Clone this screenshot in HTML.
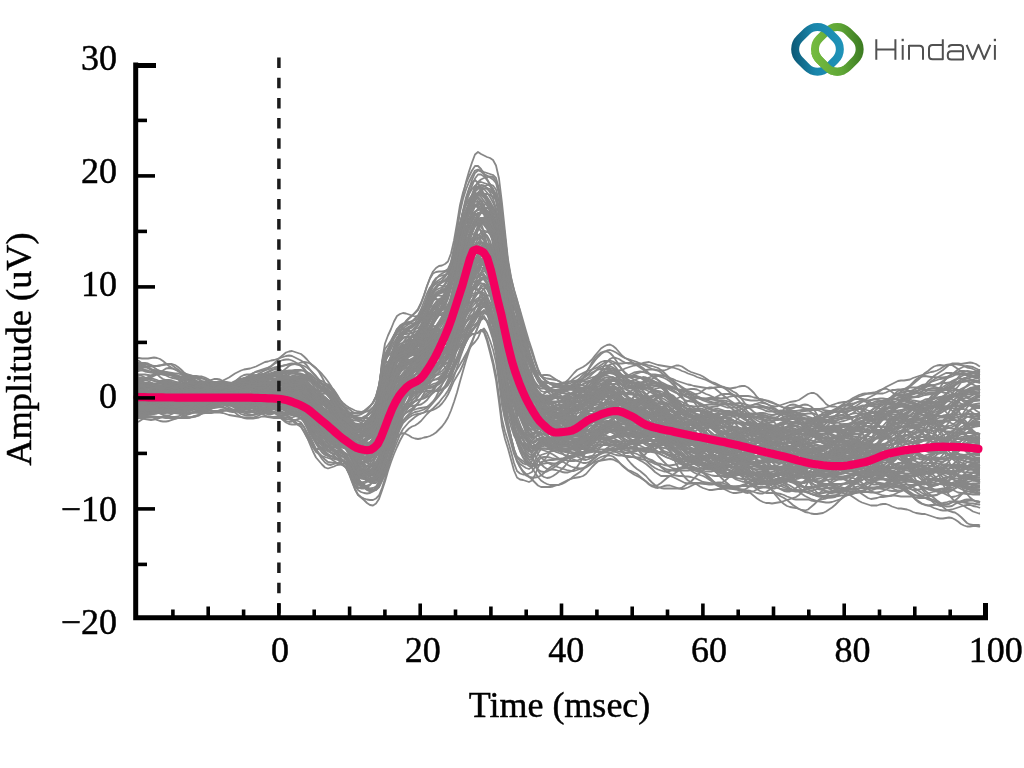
<!DOCTYPE html>
<html><head><meta charset="utf-8">
<style>
html,body{margin:0;padding:0;background:#fff;}
body{width:1024px;height:768px;overflow:hidden;position:relative;}
svg{position:absolute;left:0;top:0;will-change:transform;}
.t{font-family:"Liberation Serif",serif;fill:#000;stroke:#000;stroke-width:0.45px;}
</style></head><body>
<svg width="1024" height="768" viewBox="0 0 1024 768">
<rect width="1024" height="768" fill="#fff"/>
<g fill="none" stroke="#878787" stroke-width="3.6" stroke-linejoin="round" transform="scale(0.5)">
<path d="M272,793l6,2 6,2 6,4 6,3 6,3 6,0 6,0 6,0 6,0 6,1 6,1 6,0 6-1 6,0 6-1 6,0 6-1 6-1 6-1 6-1 6-1 6-2 6-1 6,1 6,0 6,1 6,1 6,0 6,0 6,2 6,4 6,3 6,4 6,2 6,1 6,0 6-2 6-2 6-3 6-1 6,0 6,0 6,1 6-1 6-1 6-4 6-4 6-3 6-1 6,1 6,3 6,3 6,5 6,4 6,5 6,8 6,12 6,12 6,11 6,9 6,5 6,6 6,6 6,6 6,5 6,4 6,4 6,3 6,4 6,6 6,10 6,14 6,14 6,9 6,5 6,3 6,3 6,3 6,0 6-1 6-5 6-12 6-13 6-17 6-17 6-16 6-15 6-15 6-11 6-7 6-7 6-5 6-5 6-4 6-3 6-2 6-2 6-1 6-2 6-3 6-4 6-6 6-8 6-10 6-13 6-14 6-10 6-10 6-13 6-16 6-17 6-14 6-14 6-15 6-18 6-9 6,3 6,9 6,10 6,18 6,33 6,44 6,32 6,30 6,28 6,26 6,21 6,12 6,10 6,7 6,5 6,1 6-7 6-10 6-7 6-2 6-2 6-3 6-4 6-2 6-3 6-3 6-4 6-5 6-8 6-9 6-9 6-8 6-7 6-6 6-5 6-5 6-4 6-5 6-4 6-5 6-5 6-3 6-2 6,1 6,2 6,3 6,3 6,1 6,1 6,0 6,1 6,2 6,2 6,2 6,4 6,3 6,2 6,2 6,0 6,2 6,2 6,5 6,5 6,5 6,4 6,4 6,2 6,2 6,3 6,3 6,6 6,6 6,8 6,8 6,9 6,8 6,6 6,5 6,3 6,3 6,2 6,2 6,3 6,3 6,4 6,5 6,3 6,1 6-2 6-2 6-2 6-1 6,0 6,1 6,0 6,1 6,1 6,1 6,0 6-1 6,0 6,1 6,2 6,3 6,3 6,0 6,0 6-2 6-2 6-2 6-3 6-5 6-4 6-5 6-4 6-2 6-3 6-2 6-4 6-4 6-4 6-3 6-2 6,0 6,1 6,1 6,1 6,1 6,2 6,3 6,4 6,4 6,3 6,2 6,1 6,2 6,3 6,5 6,4 6,4 6,3 6,2 6,2 6,2 6-1 6-3 6-5 6-5 6-3 6-2 6,1 6,1 6,1 6,0 6-1 6,0 6-1 6-1 6-1 6,0 6,1 6,2 6,1 6,1 6,1 2,0"/>
<path d="M272,804l6,0 6,0 6,1 6,1 6,1 6,1 6-1 6-2 6-4 6-4 6-3 6-1 6,1 6,3 6,3 6,3 6,2 6,0 6-1 6-1 6,0 6,1 6,0 6,0 6-2 6-3 6-2 6-2 6-1 6,1 6,3 6,4 6,2 6,2 6,1 6,1 6-1 6,1 6,1 6,3 6,4 6,6 6,4 6,3 6,0 6-2 6-2 6,0 6,1 6,1 6,1 6,0 6-1 6,0 6,1 6,5 6,10 6,12 6,12 6,9 6,4 6,1 6,2 6,3 6,5 6,7 6,8 6,7 6,8 6,9 6,14 6,15 6,12 6,5 6-1 6-2 6-2 6-2 6-5 6-9 6-18 6-31 6-30 6-28 6-24 6-18 6-14 6-9 6-5 6-1 6,0 6-1 6-2 6-5 6-6 6-7 6-6 6-6 6-5 6-5 6-5 6-6 6-8 6-11 6-17 6-20 6-19 6-16 6-12 6-9 6-6 6-2 6-1 6,0 6-4 6,3 6,12 6,19 6,19 6,26 6,38 6,45 6,30 6,23 6,21 6,18 6,14 6,7 6,7 6,8 6,6 6,3 6-4 6-8 6-6 6-1 6-2 6-1 6-2 6-3 6-4 6-5 6-6 6-5 6-5 6-5 6-4 6-4 6-3 6-4 6-4 6-2 6-2 6-1 6-1 6-3 6-3 6-3 6-3 6-2 6,0 6,3 6,5 6,6 6,7 6,8 6,8 6,8 6,7 6,6 6,5 6,5 6,4 6,5 6,3 6,2 6,0 6-2 6-2 6-2 6-1 6,0 6-1 6,0 6,0 6,0 6,0 6-1 6-2 6-1 6,0 6,0 6,1 6-1 6-2 6-2 6-3 6-2 6-1 6-1 6-1 6-1 6,0 6-2 6-1 6-1 6-1 6-1 6,0 6-1 6,0 6,0 6,2 6,1 6,1 6,0 6-2 6-2 6-3 6-1 6-1 6,1 6,0 6,0 6,0 6,1 6,2 6,2 6,1 6,0 6,0 6,1 6-1 6-1 6-2 6,0 6,1 6,2 6,2 6,0 6,0 6-1 6-1 6-1 6,0 6,1 6,0 6,1 6-1 6,1 6,3 6,5 6,7 6,6 6,5 6,2 6,1 6,1 6,0 6,1 6-1 6-1 6-2 6-1 6-1 6-1 6-4 6-7 6-7 6-8 6-7 6-7 6-7 6-7 6-7 6-6 6-5 6-6 6-5 6-3 6-1 2-1"/>
<path d="M272,821l6,0 6-1 6,1 6,1 6,1 6,1 6-1 6,0 6-2 6-1 6,0 6,0 6,2 6,3 6,4 6,3 6,2 6,1 6-1 6-1 6-3 6-3 6-3 6-4 6-2 6-2 6-1 6-1 6,1 6,1 6,2 6,3 6,4 6,5 6,4 6,2 6,1 6,0 6,0 6-1 6-1 6-2 6,0 6,1 6,1 6,1 6,0 6,0 6,1 6,1 6,1 6,1 6,0 6,2 6,3 6,9 6,14 6,15 6,12 6,9 6,4 6,4 6,2 6,2 6,2 6,4 6,4 6,3 6,2 6,4 6,11 6,16 6,16 6,12 6,5 6,5 6,6 6,4 6,1 6-4 6-9 6-17 6-18 6-21 6-18 6-16 6-14 6-13 6-11 6-7 6-6 6-4 6-2 6-4 6-5 6-7 6-7 6-6 6-5 6-6 6-6 6-8 6-7 6-9 6-12 6-16 6-18 6-19 6-17 6-15 6-12 6-9 6-9 6-7 6-9 6-2 6,6 6,10 6,10 6,16 6,25 6,35 6,27 6,26 6,21 6,19 6,15 6,10 6,9 6,9 6,9 6,9 6,8 6,8 6,7 6,5 6,5 6,3 6,3 6,2 6,2 6,2 6,2 6,2 6,1 6,0 6-2 6-2 6-2 6-3 6-3 6-4 6-5 6-4 6-3 6-2 6-1 6,0 6,2 6,5 6,6 6,7 6,5 6,4 6,2 6,3 6,3 6,5 6,5 6,5 6,6 6,4 6,2 6,1 6-2 6-2 6-1 6,0 6,2 6,2 6,2 6,1 6-1 6-2 6-3 6-3 6-2 6,0 6,0 6,1 6,1 6,0 6-1 6-1 6-1 6-3 6-5 6-6 6-5 6-4 6-4 6-4 6-1 6,0 6,1 6,3 6,4 6,4 6,5 6,6 6,5 6,5 6,4 6,5 6,3 6,3 6,1 6,0 6-3 6-4 6-5 6-6 6-4 6-5 6-3 6-3 6-2 6-3 6-2 6-3 6-1 6-1 6,0 6-1 6-3 6-5 6-9 6-10 6-13 6-13 6-14 6-11 6-8 6-7 6-7 6-6 6-6 6-5 6-6 6-4 6-3 6-1 6,0 6,2 6,2 6,2 6,2 6,3 6,3 6,2 6,3 6,3 6,3 6,4 6,4 6,3 6,2 6,0 6-3 6-4 6-5 6-5 6-5 6-4 6-5 6-3 6-1 6,0 6,2 6,3 6,2 2,0"/>
<path d="M272,731l6,0 6,0 6,1 6,3 6,3 6,2 6,1 6,1 6,1 6,1 6,2 6,3 6,2 6,2 6,1 6,0 6,0 6-1 6,0 6,0 6,1 6,2 6,3 6,4 6,4 6,4 6,2 6,1 6-1 6-2 6-1 6-2 6-1 6-1 6,1 6,0 6,1 6-1 6,0 6,0 6,1 6,0 6,0 6-1 6,0 6,0 6,2 6,2 6,2 6,1 6,0 6-1 6,0 6,0 6,2 6,4 6,7 6,8 6,7 6,5 6,2 6,1 6,1 6-1 6-1 6,3 6,6 6,8 6,8 6,6 6,8 6,8 6,8 6,7 6,5 6,5 6,4 6,4 6,3 6-2 6-8 6-18 6-13 6-13 6-13 6-13 6-10 6-6 6-2 6-1 6-2 6-3 6-4 6-5 6-7 6-8 6-9 6-9 6-8 6-6 6-2 6-3 6-3 6-5 6-10 6-11 6-10 6-9 6-6 6-7 6-9 6-10 6-10 6-12 6-17 6-12 6-4 6,0 6,4 6,12 6,23 6,35 6,27 6,25 6,19 6,19 6,16 6,14 6,13 6,14 6,11 6,9 6,4 6,2 6-1 6,1 6,3 6,6 6,6 6,6 6,5 6,3 6,4 6,4 6,4 6,5 6,3 6,2 6-1 6-3 6-3 6-3 6-2 6-1 6-3 6-3 6-3 6-4 6-3 6-2 6-2 6,0 6-1 6,0 6,0 6,1 6,2 6,2 6,1 6,2 6,1 6,2 6,3 6,4 6,4 6,5 6,5 6,6 6,6 6,7 6,7 6,8 6,6 6,4 6,2 6,1 6,2 6,4 6,5 6,6 6,5 6,5 6,4 6,4 6,1 6,1 6,1 6,1 6,0 6,0 6,0 6-1 6-2 6-3 6-3 6-3 6-2 6,0 6,2 6,1 6,1 6,0 6-1 6,0 6,0 6-1 6-3 6-3 6-3 6-3 6-1 6,0 6-1 6-3 6-4 6-6 6-7 6-5 6-4 6-2 6-1 6-2 6-3 6-3 6-4 6-1 6,0 6,2 6,4 6,5 6,4 6,4 6,2 6-1 6-4 6-7 6-11 6-14 6-16 6-17 6-15 6-13 6-11 6-8 6-7 6-4 6-4 6-5 6-5 6-5 6-3 6-3 6-1 6,0 6,1 6,3 6,2 6,2 6,1 6,2 6,2 6,3 6,4 6,5 6,5 6,5 6,4 6,3 6,2 6,1 6,1 2,0"/>
<path d="M272,716l6,0 6,1 6,0 6,0 6-1 6-1 6,1 6,2 6,4 6,5 6,5 6,4 6,3 6,3 6,5 6,5 6,5 6,4 6,1 6,1 6,0 6,0 6,0 6-1 6-2 6-2 6,0 6,1 6,3 6,2 6,2 6,2 6,2 6,1 6,1 6,0 6-2 6-2 6-3 6-2 6-3 6-3 6-3 6-3 6-2 6-2 6-1 6,0 6,1 6,2 6,3 6,4 6,3 6,2 6,1 6,4 6,7 6,8 6,8 6,6 6,4 6,3 6,4 6,5 6,6 6,8 6,8 6,8 6,5 6,2 6,3 6,3 6,3 6,4 6,3 6,1 6-1 6-4 6-7 6-13 6-29 6-54 6-34 6-18 6-17 6-17 6-13 6-7 6-4 6-2 6-1 6-2 6-2 6-3 6-8 6-11 6-12 6-12 6-9 6-5 6-3 6-2 6-5 6-9 6-19 6-26 6-34 6-35 6-21 6-16 6-10 6-5 6,0 6,7 6,10 6,12 6,17 6,21 6,26 6,33 6,46 6,57 6,45 6,40 6,29 6,25 6,21 6,16 6,14 6,13 6,13 6,10 6,10 6,10 6,9 6,7 6,4 6,0 6-2 6-3 6-4 6-5 6-4 6-5 6-6 6-5 6-5 6-4 6-4 6-4 6-5 6-5 6-5 6-6 6-6 6-5 6-6 6-5 6-5 6-5 6-6 6-5 6-5 6-5 6-3 6-2 6-2 6-2 6-2 6,1 6,2 6,3 6,3 6,2 6,3 6,2 6,1 6,2 6,2 6,2 6,2 6,1 6-1 6,0 6-1 6,0 6,1 6,3 6,3 6,3 6,2 6,3 6,3 6,4 6,3 6,4 6,3 6,4 6,5 6,5 6,5 6,3 6,2 6,0 6,0 6,0 6,0 6,1 6,1 6-1 6-1 6-3 6-2 6-3 6-2 6-1 6-1 6-3 6-2 6-3 6-2 6-2 6-1 6,1 6,3 6,6 6,10 6,12 6,13 6,11 6,10 6,10 6,8 6,8 6,8 6,8 6,7 6,6 6,5 6,4 6,5 6,6 6,4 6,1 6-1 6-3 6-2 6-2 6-2 6-3 6-5 6-4 6-4 6-2 6-1 6-1 6,0 6,1 6,2 6,1 6,2 6,2 6,3 6,1 6,2 6,0 6-1 6,0 6,1 6,2 6,2 6,2 6,2 6,5 6,7 6,8 6,7 6,5 6,4 6,3 6,1 2,1"/>
<path d="M272,823l6,0 6,1 6,2 6,1 6,0 6-1 6,0 6,0 6,1 6-1 6-2 6-2 6-2 6,0 6,0 6,0 6,0 6-1 6,0 6,0 6-1 6-2 6-3 6-2 6-1 6-1 6-1 6-1 6-1 6,0 6,1 6,2 6,3 6,4 6,3 6,1 6-1 6-2 6-4 6-3 6-3 6-2 6-3 6-4 6-5 6-4 6-3 6,0 6,2 6,2 6,1 6,0 6-2 6-1 6-1 6,3 6,7 6,9 6,10 6,8 6,5 6,4 6,4 6,5 6,5 6,5 6,5 6,4 6,4 6,3 6,6 6,8 6,7 6,6 6,4 6,3 6,3 6,3 6,3 6,1 6-6 6-17 6-14 6-12 6-14 6-14 6-15 6-16 6-15 6-11 6-10 6-10 6-8 6-8 6-9 6-11 6-13 6-12 6-9 6-7 6-5 6-6 6-6 6-7 6-9 6-12 6-12 6-14 6-14 6-15 6-16 6-15 6-14 6-13 6-14 6-10 6-4 6-3 6-2 6,1 6,12 6,27 6,29 6,32 6,20 6,16 6,16 6,17 6,20 6,20 6,17 6,14 6,13 6,11 6,7 6,4 6,5 6,5 6,5 6,4 6,4 6,4 6,4 6,4 6,4 6,3 6,1 6,0 6,0 6-1 6-1 6-1 6-2 6-3 6-4 6-4 6-2 6,0 6,1 6,4 6,5 6,6 6,6 6,8 6,7 6,6 6,3 6,0 6-1 6-1 6-1 6-1 6-2 6-3 6-3 6-1 6,1 6,2 6,3 6,4 6,4 6,5 6,5 6,6 6,5 6,4 6,4 6,4 6,3 6,3 6,4 6,3 6,4 6,6 6,7 6,7 6,7 6,6 6,5 6,4 6,5 6,4 6,5 6,4 6,3 6,0 6,0 6,0 6,1 6,0 6,1 6-1 6-1 6-3 6-4 6-2 6-1 6,0 6,1 6,2 6,3 6,5 6,5 6,5 6,4 6,3 6,2 6,1 6,0 6-1 6-1 6-1 6,1 6-1 6-1 6-1 6,0 6-1 6,0 6,0 6-2 6-3 6-5 6-7 6-9 6-9 6-10 6-8 6-6 6-4 6-3 6-1 6,0 6,0 6-1 6-2 6-1 6,2 6,5 6,5 6,6 6,3 6,1 6-1 6-3 6-4 6-6 6-6 6-8 6-6 6-5 6-2 6,1 6,1 6,0 6-1 6-1 6-1 6,0 6,0 6,1 2,0"/>
<path d="M272,765l6,1 6,1 6,1 6,2 6,2 6,2 6,0 6-1 6-1 6,0 6,0 6,0 6,1 6,1 6,1 6,1 6-1 6-3 6-2 6-2 6,0 6,0 6,1 6-1 6-1 6,0 6,0 6,1 6,0 6,0 6-1 6-2 6-3 6-3 6-1 6-1 6,1 6,1 6,1 6,2 6,3 6,4 6,4 6,4 6,5 6,4 6,3 6,2 6,2 6,1 6,1 6,0 6-1 6-1 6-1 6,3 6,6 6,7 6,6 6,3 6,1 6,1 6,3 6,5 6,6 6,7 6,9 6,8 6,8 6,8 6,11 6,12 6,12 6,9 6,7 6,6 6,6 6,4 6,1 6-4 6-11 6-20 6-19 6-19 6-20 6-21 6-20 6-18 6-15 6-10 6-8 6-7 6-7 6-7 6-9 6-9 6-9 6-9 6-8 6-7 6-9 6-11 6-11 6-15 6-21 6-28 6-31 6-33 6-26 6-23 6-18 6-15 6-12 6-5 6-1 6,3 6,7 6,12 6,16 6,23 6,37 6,51 6,47 6,42 6,29 6,22 6,18 6,15 6,15 6,14 6,14 6,13 6,10 6,7 6,4 6,3 6,2 6,2 6,2 6,1 6-1 6-1 6,0 6,1 6,1 6,3 6,3 6,3 6,0 6-3 6-5 6-5 6-5 6-3 6-2 6-1 6-1 6,1 6,2 6,3 6,5 6,5 6,5 6,3 6,2 6,2 6,1 6,3 6,3 6,4 6,5 6,5 6,4 6,6 6,6 6,7 6,7 6,6 6,5 6,4 6,3 6,2 6,1 6,0 6,0 6-1 6,0 6,0 6-1 6-1 6-1 6-1 6,0 6,0 6,1 6,1 6,1 6,3 6,2 6,3 6,1 6-1 6-3 6-5 6-4 6-6 6-5 6-5 6-3 6-2 6-1 6-1 6,1 6,0 6,3 6,3 6,3 6,4 6,5 6,4 6,4 6,4 6,3 6,3 6,1 6,1 6,0 6-1 6-2 6-2 6-2 6-2 6-2 6-2 6-1 6,0 6,2 6,2 6,4 6,3 6,2 6,1 6,1 6,1 6-2 6-3 6-5 6-4 6-3 6-2 6,0 6,0 6,0 6,1 6,1 6,2 6,2 6,2 6,2 6,2 6,2 6,1 6,1 6-1 6,0 6,0 6,0 6,2 6,3 6,4 6,5 6,5 6,3 6,3 6,3 6,2 6,1 6,0 6,0 6-2 6,0 2,0"/>
<path d="M272,821l6-2 6-4 6-5 6-5 6-3 6,0 6,2 6,2 6,0 6,0 6,0 6,0 6,1 6,1 6,1 6,0 6-2 6-2 6-3 6-3 6-4 6-5 6-4 6-2 6-2 6,1 6,2 6,1 6,1 6-1 6-1 6-2 6-1 6-1 6,0 6-1 6-1 6-1 6-1 6,0 6,1 6,0 6-1 6-1 6-1 6-2 6-1 6-1 6,0 6,1 6,2 6,2 6,2 6,2 6,1 6,5 6,7 6,8 6,8 6,7 6,6 6,6 6,6 6,6 6,8 6,9 6,9 6,9 6,9 6,8 6,11 6,11 6,10 6,8 6,6 6,6 6,5 6,5 6,2 6,1 6-3 6-10 6-12 6-15 6-17 6-18 6-18 6-18 6-14 6-7 6-4 6-4 6-5 6-6 6-7 6-7 6-6 6-3 6-2 6,0 6-1 6-2 6-5 6-7 6-12 6-15 6-14 6-14 6-14 6-14 6-12 6-9 6-9 6-10 6-15 6-6 6,5 6,11 6,10 6,14 6,25 6,33 6,20 6,16 6,12 6,9 6,7 6,5 6,7 6,9 6,8 6,6 6,4 6,3 6,3 6,6 6,7 6,7 6,8 6,7 6,6 6,6 6,6 6,5 6,3 6,2 6,0 6,0 6-1 6,0 6-1 6-2 6-2 6-2 6-1 6-1 6-2 6-4 6-4 6-3 6-1 6,0 6,1 6,2 6,2 6,2 6,1 6,0 6-2 6-3 6-2 6-4 6-3 6-4 6-4 6-2 6-1 6,1 6,1 6,3 6,3 6,4 6,4 6,4 6,3 6,3 6,2 6,1 6,0 6,0 6,1 6,1 6,0 6-1 6-1 6-2 6-2 6-1 6,1 6,1 6,1 6,1 6,1 6,0 6,0 6,1 6-1 6,0 6,1 6,3 6,4 6,4 6,4 6,2 6,0 6,0 6-1 6,0 6,2 6,4 6,5 6,5 6,3 6,2 6-1 6-2 6-2 6-2 6-1 6,0 6,0 6,1 6,2 6,1 6,2 6,2 6,2 6,2 6,3 6,2 6,3 6,3 6,4 6,4 6,4 6,4 6,3 6,3 6,3 6,3 6,3 6,3 6,3 6,3 6,4 6,4 6,4 6,4 6,1 6,1 6,0 6,0 6,0 6,0 6,0 6,0 6-1 6-3 6-5 6-3 6-1 6,1 6,3 6,3 6,1 6,1 6,1 6,0 6,1 6,0 6,0 2,0"/>
<path d="M272,796l6,0 6,0 6,0 6,2 6,1 6,1 6,1 6,0 6-1 6-2 6-2 6-1 6-1 6,0 6-1 6-1 6-2 6-1 6-1 6,0 6,2 6,1 6,0 6-1 6-2 6-1 6-2 6-3 6-3 6-1 6,0 6,3 6,4 6,4 6,2 6,1 6,1 6,2 6,1 6,1 6,1 6-1 6-1 6-1 6-1 6,0 6,1 6,0 6,0 6-1 6-1 6,0 6,0 6,0 6,0 6,4 6,6 6,9 6,10 6,9 6,8 6,7 6,6 6,5 6,5 6,6 6,5 6,4 6,3 6,4 6,8 6,10 6,9 6,4 6-1 6-5 6-7 6-9 6-11 6-14 6-22 6-34 6-24 6-16 6-13 6-12 6-7 6-4 6-1 6,1 6,1 6,0 6,0 6-2 6-4 6-7 6-7 6-7 6-6 6-6 6-6 6-8 6-9 6-11 6-17 6-21 6-21 6-18 6-9 6-7 6-4 6-2 6-2 6-1 6-4 6,1 6,8 6,11 6,10 6,14 6,23 6,32 6,22 6,21 6,12 6,8 6,4 6,3 6,5 6,7 6,8 6,8 6,10 6,10 6,7 6,2 6,0 6-1 6-2 6-1 6-1 6-1 6-1 6-1 6,0 6,0 6,0 6,0 6,0 6-1 6-1 6-1 6,0 6,0 6,2 6,2 6,3 6,3 6,3 6,3 6,5 6,6 6,7 6,4 6,2 6,0 6,1 6,1 6,4 6,6 6,8 6,9 6,7 6,5 6,5 6,4 6,5 6,4 6,5 6,4 6,3 6,4 6,4 6,4 6,4 6,4 6,4 6,4 6,4 6,3 6,4 6,6 6,5 6,6 6,5 6,3 6,2 6,1 6-1 6,0 6-1 6-1 6-1 6-1 6-1 6,0 6,0 6,1 6,2 6,0 6-1 6,1 6,1 6,4 6,6 6,7 6,6 6,5 6,3 6,1 6,0 6,0 6-1 6-2 6-1 6-2 6-2 6-1 6-1 6-2 6-2 6-2 6-3 6-3 6-3 6-3 6-1 6-2 6,0 6,0 6,1 6,1 6,1 6,0 6,0 6-1 6-2 6-2 6-2 6-1 6-2 6-1 6-2 6-2 6-2 6-1 6,1 6,1 6,2 6,4 6,4 6,5 6,5 6,4 6,3 6,2 6,1 6,1 6,1 6,1 6,0 6-1 6-1 6-2 6-2 6-3 6-3 6-2 6-1 6,0 6,0 2,0"/>
<path d="M272,823l6-2 6-2 6,0 6,1 6,1 6,0 6-1 6-1 6-2 6-1 6,0 6,1 6,1 6,1 6-1 6-2 6-2 6-1 6-1 6-1 6,0 6-1 6-1 6-2 6-2 6-1 6,0 6,1 6,0 6,0 6,0 6,0 6,1 6,1 6,0 6,0 6,0 6-1 6-1 6-2 6-3 6-2 6-1 6-2 6-4 6-4 6-4 6-2 6,0 6,1 6,1 6,0 6-1 6-3 6-2 6,3 6,5 6,8 6,6 6,3 6,1 6,2 6,4 6,7 6,8 6,11 6,10 6,8 6,5 6,3 6,5 6,7 6,8 6,7 6,5 6,2 6,0 6-3 6-7 6-13 6-22 6-36 6-28 6-21 6-18 6-18 6-14 6-12 6-9 6-8 6-6 6-5 6-5 6-6 6-9 6-10 6-9 6-7 6-4 6,1 6,3 6,2 6,1 6-2 6-10 6-15 6-20 6-22 6-19 6-18 6-16 6-12 6-9 6-3 6-2 6,2 6,9 6,13 6,14 6,18 6,31 6,44 6,38 6,36 6,30 6,27 6,26 6,20 6,20 6,17 6,15 6,12 6,7 6,3 6,4 6,5 6,4 6,2 6,0 6-1 6-1 6-1 6-2 6-1 6-2 6-3 6-2 6-3 6-4 6-6 6-6 6-8 6-7 6-6 6-6 6-4 6-2 6,0 6,1 6,4 6,4 6,4 6,2 6,0 6-3 6-3 6-3 6,0 6,2 6,2 6,1 6,1 6-1 6,0 6,1 6,2 6,1 6,1 6,3 6,4 6,5 6,4 6,2 6-1 6-2 6-4 6-3 6-3 6-2 6-1 6,1 6,1 6,1 6,0 6-2 6-3 6-3 6-2 6-1 6,1 6,3 6,3 6,4 6,5 6,4 6,3 6,0 6-3 6-4 6-3 6-2 6,0 6,1 6,0 6,0 6-1 6-2 6-2 6-2 6-1 6,0 6,0 6,1 6,2 6,2 6,3 6,2 6,2 6,1 6,0 6-1 6,0 6-1 6-1 6-2 6-1 6-1 6,0 6-1 6-2 6-3 6-2 6-1 6-1 6,0 6,0 6,0 6,1 6,0 6,1 6,2 6,2 6,2 6,1 6,0 6-1 6-1 6,0 6,0 6,1 6,2 6,3 6,4 6,6 6,8 6,8 6,8 6,6 6,5 6,3 6,3 6,5 6,7 6,6 6,4 6,3 6,2 6,0 6,0 6-1 6-1 2,0"/>
<path d="M272,792l6-1 6-2 6-3 6-1 6-2 6-1 6-1 6-1 6,1 6,0 6,0 6,0 6-1 6,0 6,1 6,2 6,2 6,3 6,2 6,3 6,4 6,4 6,3 6,2 6,0 6-2 6-1 6-1 6,1 6,2 6,3 6,3 6,3 6,0 6-1 6,0 6,0 6,1 6,3 6,2 6,1 6,0 6-1 6-1 6,0 6,0 6,1 6,2 6,4 6,5 6,6 6,5 6,5 6,4 6,3 6,9 6,12 6,15 6,14 6,12 6,7 6,7 6,6 6,2 6-2 6-2 6-3 6-1 6-2 6,0 6,7 6,8 6,7 6,2 6-3 6-3 6-2 6-3 6-3 6-8 6-14 6-25 6-21 6-18 6-17 6-17 6-19 6-19 6-17 6-15 6-14 6-11 6-11 6-10 6-11 6-13 6-13 6-13 6-12 6-8 6-8 6-8 6-10 6-11 6-20 6-26 6-34 6-36 6-23 6-18 6-12 6-8 6-5 6,3 6,5 6,9 6,12 6,14 6,14 6,18 6,31 6,44 6,42 6,40 6,29 6,24 6,23 6,23 6,23 6,20 6,17 6,13 6,8 6,3 6-1 6-2 6-2 6-2 6-1 6,1 6,0 6-2 6-3 6-3 6-1 6,2 6,3 6,5 6,4 6,2 6,0 6,1 6,0 6,1 6,0 6,0 6,1 6,2 6,5 6,8 6,9 6,9 6,7 6,6 6,5 6,6 6,7 6,8 6,7 6,6 6,4 6,4 6,2 6,2 6,1 6,2 6,1 6,0 6-1 6-1 6-2 6,1 6,1 6,1 6,0 6-3 6-2 6-1 6,0 6,2 6,4 6,5 6,7 6,7 6,6 6,6 6,5 6,5 6,3 6,2 6,2 6,1 6,1 6,3 6,4 6,5 6,5 6,4 6,3 6,2 6,0 6,1 6-1 6-1 6-1 6-2 6-2 6-2 6-2 6-2 6-4 6-6 6-9 6-11 6-11 6-11 6-9 6-8 6-6 6-5 6-2 6,0 6,2 6,5 6,5 6,4 6,3 6,2 6,2 6,4 6,6 6,7 6,7 6,6 6,3 6,1 6,0 6-1 6,1 6,1 6,1 6,2 6,1 6,1 6,1 6,1 6,3 6,4 6,4 6,3 6,2 6-1 6-2 6-3 6-2 6-2 6-1 6-1 6-2 6-3 6-6 6-4 6-3 6-1 6,0 6-1 6-2 6-1 6-1 6,1 6,1 2,1"/>
<path d="M272,783l6,0 6,0 6,1 6,0 6,1 6,1 6,1 6,2 6,3 6,4 6,3 6,4 6,3 6,2 6,1 6,1 6-1 6-1 6-3 6-3 6-2 6-1 6,0 6,0 6,0 6,0 6-1 6-1 6-2 6-1 6,1 6,3 6,2 6,2 6-1 6-2 6-5 6-5 6-4 6-4 6-3 6-3 6-2 6-2 6-2 6-1 6-1 6,0 6,2 6,5 6,7 6,6 6,5 6,3 6,1 6,5 6,10 6,14 6,14 6,13 6,10 6,9 6,9 6,8 6,8 6,8 6,7 6,6 6,4 6,5 6,11 6,15 6,13 6,9 6,3 6,0 6-2 6-5 6-9 6-14 6-22 6-33 6-30 6-27 6-24 6-20 6-15 6-11 6-8 6-6 6-4 6-2 6-2 6-1 6-4 6-6 6-8 6-9 6-10 6-11 6-11 6-12 6-13 6-13 6-19 6-25 6-30 6-33 6-26 6-22 6-18 6-12 6-10 6-4 6-4 6-1 6,3 6,5 6,5 6,6 6,18 6,33 6,36 6,36 6,21 6,13 6,10 6,12 6,15 6,18 6,17 6,17 6,17 6,16 6,12 6,7 6,5 6,5 6,3 6,3 6,1 6,1 6,0 6-2 6-3 6-4 6-6 6-5 6-6 6-6 6-7 6-8 6-8 6-7 6-6 6-4 6-3 6-1 6,2 6,3 6,4 6,4 6,3 6,3 6,4 6,4 6,4 6,4 6,4 6,4 6,5 6,4 6,3 6,5 6,6 6,7 6,8 6,10 6,9 6,10 6,9 6,8 6,7 6,5 6,4 6,3 6,3 6,4 6,2 6,3 6,3 6,5 6,5 6,5 6,4 6,4 6,4 6,4 6,5 6,7 6,8 6,8 6,8 6,8 6,7 6,5 6,5 6,4 6,5 6,6 6,6 6,7 6,8 6,7 6,7 6,5 6,4 6,2 6,1 6,1 6,2 6,2 6,1 6-2 6-5 6-5 6-6 6-5 6-4 6-3 6-4 6-4 6-4 6-4 6-4 6-3 6-4 6-5 6-5 6-5 6-4 6-2 6-1 6,1 6,1 6,0 6-2 6-1 6-2 6-2 6-2 6-3 6-3 6-3 6,0 6,1 6,3 6,4 6,4 6,5 6,6 6,7 6,7 6,7 6,5 6,4 6,4 6,2 6,0 6,0 6-1 6-3 6-4 6-6 6-6 6-7 6-6 6-4 6-3 6,0 6,0 2,0"/>
<path d="M272,749l6,1 6,2 6,3 6,3 6,2 6,2 6,1 6-1 6-1 6-1 6,0 6,1 6,2 6,2 6,2 6,2 6,2 6,0 6,0 6,0 6,0 6,0 6,1 6,2 6,4 6,3 6,2 6,1 6-1 6-4 6-4 6-5 6-4 6-3 6-3 6-3 6-3 6-2 6-1 6,1 6,4 6,4 6,4 6,1 6-2 6-2 6-2 6-1 6,2 6,4 6,3 6,3 6,4 6,5 6,5 6,7 6,8 6,8 6,8 6,7 6,4 6,1 6,0 6-1 6,1 6,4 6,7 6,7 6,7 6,4 6,6 6,5 6,4 6,2 6,0 6-2 6-1 6-2 6-1 6-4 6-13 6-29 6-20 6-14 6-15 6-17 6-13 6-10 6-8 6-6 6-8 6-7 6-7 6-4 6-3 6-3 6-2 6,2 6,7 6,10 6,12 6,11 6,9 6,5 6-3 6-9 6-13 6-16 6-14 6-15 6-14 6-13 6-13 6-13 6-14 6-5 6,6 6,12 6,16 6,23 6,35 6,43 6,36 6,33 6,28 6,26 6,21 6,13 6,12 6,10 6,8 6,7 6,6 6,6 6,4 6,1 6-1 6-3 6-4 6-4 6-5 6-5 6-6 6-8 6-10 6-9 6-8 6-6 6-7 6-8 6-8 6-8 6-7 6-7 6-6 6-6 6-5 6-3 6-1 6,0 6,1 6,0 6,1 6,1 6-1 6-1 6,0 6,2 6,3 6,5 6,5 6,6 6,9 6,9 6,11 6,12 6,13 6,14 6,14 6,14 6,11 6,9 6,8 6,6 6,3 6,3 6,2 6,4 6,3 6,2 6,2 6,0 6-1 6-1 6,0 6-1 6-1 6,1 6,1 6,1 6,2 6-1 6-1 6-4 6-4 6-5 6-5 6-4 6-3 6-2 6-2 6-1 6-2 6-4 6-5 6-4 6-4 6-1 6-1 6,0 6-1 6-1 6-2 6-2 6-4 6-4 6-4 6-5 6-4 6-4 6-3 6-2 6-1 6-1 6-1 6,1 6,3 6,2 6,3 6,2 6,3 6,4 6,3 6,1 6-1 6-2 6-4 6-4 6-7 6-6 6-6 6-3 6-2 6-2 6-2 6-2 6,0 6,3 6,5 6,7 6,5 6,4 6,4 6,2 6,2 6,0 6-2 6-4 6-5 6-6 6-4 6-4 6-4 6-5 6-6 6-6 6-5 6-3 6-3 6-1 6,0 2,0"/>
<path d="M272,765l6,0 6-2 6-3 6-3 6-1 6,2 6,2 6,3 6,1 6,1 6,0 6,0 6,0 6,0 6-1 6-3 6-1 6,0 6,2 6,3 6,3 6,3 6,3 6,2 6,2 6,0 6,0 6-1 6-1 6-1 6-2 6-1 6-2 6,0 6,0 6,1 6,1 6,1 6,0 6-1 6-3 6-4 6-2 6,0 6,2 6,2 6,1 6-3 6-2 6-2 6,1 6,2 6,2 6,1 6,0 6,3 6,5 6,7 6,8 6,6 6,4 6,1 6,0 6-1 6,2 6,7 6,10 6,11 6,8 6,6 6,6 6,6 6,8 6,5 6,3 6-1 6-2 6-2 6-4 6-8 6-16 6-29 6-20 6-15 6-15 6-15 6-12 6-9 6-6 6-5 6-4 6-4 6-5 6-8 6-11 6-13 6-13 6-13 6-12 6-11 6-11 6-12 6-12 6-13 6-19 6-23 6-28 6-27 6-17 6-12 6-9 6-7 6-6 6-3 6-2 6-2 6,0 6,0 6,1 6,5 6,17 6,36 6,40 6,43 6,28 6,22 6,20 6,22 6,22 6,21 6,19 6,16 6,16 6,14 6,9 6,4 6,4 6,5 6,6 6,5 6,4 6,1 6-2 6-3 6-4 6-4 6-3 6-2 6-2 6-1 6-4 6-4 6-6 6-5 6-4 6-2 6,1 6,2 6,2 6,3 6,1 6,2 6,0 6,1 6,1 6,2 6,2 6,2 6,1 6,0 6,1 6,0 6,0 6,0 6,2 6,4 6,5 6,7 6,8 6,9 6,10 6,9 6,8 6,7 6,4 6,3 6,1 6-1 6-1 6-2 6-1 6-1 6,1 6,0 6,0 6,0 6,1 6,1 6,1 6,1 6,0 6-1 6,0 6,0 6,1 6,1 6,1 6-1 6,0 6,2 6,2 6,4 6,2 6,1 6,0 6,0 6,1 6,0 6,1 6-1 6-3 6-3 6-2 6-1 6-1 6-1 6-3 6-5 6-6 6-6 6-5 6-3 6-3 6-2 6-3 6-2 6-2 6-1 6-1 6-2 6-2 6-1 6,0 6-1 6-1 6-1 6-1 6-1 6,0 6,1 6,0 6-2 6-4 6-4 6-5 6-4 6-4 6-4 6-6 6-6 6-4 6-2 6-1 6,1 6,1 6,0 6,1 6,0 6,0 6-1 6-2 6-3 6-3 6-2 6-2 6,0 6,1 6,1 6,2 6,1 6,1 2,0"/>
<path d="M272,816l6,0 6,0 6,0 6-2 6-1 6,0 6,1 6,2 6,1 6,1 6,0 6,0 6-1 6-2 6-1 6,0 6,1 6,3 6,4 6,2 6-1 6-5 6-6 6-6 6-3 6,1 6,2 6,3 6,0 6,0 6,0 6,0 6,0 6,2 6,2 6,1 6,0 6-2 6-2 6-3 6-3 6-3 6-2 6-1 6-2 6-1 6-1 6-1 6,1 6,3 6,4 6,4 6,3 6,3 6,1 6,4 6,9 6,11 6,12 6,11 6,8 6,5 6,3 6,1 6,1 6,2 6,4 6,4 6,4 6,7 6,10 6,14 6,12 6,11 6,6 6,6 6,5 6,3 6,0 6-4 6-10 6-20 6-20 6-21 6-21 6-21 6-21 6-19 6-15 6-10 6-9 6-8 6-8 6-8 6-10 6-12 6-13 6-13 6-12 6-11 6-11 6-10 6-10 6-12 6-19 6-25 6-30 6-30 6-22 6-20 6-16 6-14 6-11 6-4 6,0 6,5 6,8 6,11 6,11 6,18 6,31 6,46 6,42 6,40 6,29 6,24 6,18 6,15 6,13 6,13 6,11 6,9 6,9 6,7 6,6 6,6 6,5 6,4 6,3 6,1 6,2 6,3 6,2 6,3 6,3 6,3 6,3 6,2 6,1 6-2 6-2 6-2 6-3 6-2 6-3 6-3 6-1 6,0 6,1 6,0 6-3 6-3 6-3 6-3 6-3 6-2 6-2 6,1 6,1 6,3 6,3 6,2 6,0 6,1 6,1 6,3 6,4 6,6 6,7 6,6 6,5 6,1 6-1 6-2 6-1 6,0 6,1 6,0 6-1 6-1 6,0 6,1 6,3 6,6 6,7 6,7 6,8 6,8 6,8 6,9 6,9 6,8 6,8 6,6 6,4 6,2 6,1 6-1 6-3 6-3 6-4 6-3 6,0 6,1 6,3 6,3 6,2 6,0 6,0 6-1 6-2 6-3 6-4 6-5 6-5 6-4 6-4 6-3 6-1 6-1 6-1 6,0 6,0 6-1 6-1 6-2 6-3 6-5 6-8 6-9 6-8 6-7 6-5 6-2 6-3 6-5 6-7 6-10 6-9 6-7 6-4 6-3 6-3 6-4 6-3 6-4 6-4 6-3 6-2 6-2 6-2 6-3 6-2 6-2 6-1 6,0 6,0 6-1 6-2 6-4 6-3 6-5 6-3 6-2 6,0 6,2 6,3 6,4 6,3 6,3 6,2 2,0"/>
<path d="M272,825l6-1 6,0 6,0 6,0 6,0 6,1 6,0 6-1 6-2 6-2 6-1 6-1 6,0 6,0 6,0 6,0 6-1 6-1 6,0 6,0 6,0 6-1 6-2 6-3 6-4 6-4 6-3 6-2 6,1 6,2 6,2 6,4 6,3 6,2 6,1 6,0 6,0 6-1 6-1 6-2 6-2 6-2 6-1 6-2 6-2 6-4 6-4 6-4 6-3 6-1 6-2 6-2 6-2 6,0 6,1 6,4 6,7 6,8 6,8 6,8 6,5 6,2 6,2 6,3 6,4 6,7 6,9 6,10 6,9 6,9 6,11 6,12 6,10 6,6 6,3 6-1 6-3 6-5 6-6 6-9 6-16 6-27 6-22 6-18 6-17 6-18 6-15 6-14 6-11 6-7 6-3 6-2 6-2 6-4 6-7 6-10 6-10 6-8 6-7 6-4 6-2 6-3 6-6 6-8 6-14 6-18 6-20 6-21 6-19 6-20 6-20 6-20 6-20 6-18 6-15 6-10 6-4 6,2 6,6 6,12 6,26 6,42 6,42 6,41 6,25 6,18 6,14 6,16 6,17 6,18 6,15 6,13 6,12 6,10 6,8 6,5 6,4 6,3 6,1 6,0 6-1 6-1 6-1 6-1 6,1 6,1 6,1 6,0 6-2 6-2 6,0 6,1 6,3 6,0 6-5 6-7 6-8 6-5 6-1 6,3 6,6 6,5 6,4 6,2 6,0 6,0 6-1 6,0 6,1 6,1 6,3 6,4 6,6 6,6 6,8 6,10 6,10 6,11 6,11 6,11 6,10 6,8 6,5 6,5 6,4 6,5 6,5 6,3 6,2 6,0 6,0 6,0 6,2 6,2 6,2 6,2 6,1 6,0 6-1 6-3 6-5 6-4 6-5 6-5 6-3 6-3 6-3 6-4 6-5 6-3 6-1 6,1 6,2 6,3 6,2 6,2 6,1 6,2 6,2 6,3 6,3 6,3 6,3 6,3 6,3 6,3 6,3 6,2 6,1 6,0 6-1 6-4 6-6 6-8 6-8 6-7 6-6 6-6 6-5 6-4 6-4 6-4 6-4 6-4 6-3 6-3 6-1 6-1 6,0 6,1 6,2 6,2 6,1 6,1 6,1 6,2 6,3 6,4 6,3 6,3 6,5 6,7 6,8 6,7 6,4 6,2 6,0 6,1 6,0 6,1 6,1 6,1 6,1 6,0 6,1 6,1 6,3 6,3 6,3 6,3 6,2 2,0"/>
<path d="M272,771l6,0 6-1 6-2 6,0 6,1 6,4 6,4 6,3 6,0 6-1 6-2 6-1 6,1 6,2 6,1 6,1 6,0 6-1 6-2 6-1 6,1 6,1 6,0 6-1 6-2 6-1 6,0 6,0 6,0 6,1 6,1 6,1 6,0 6-1 6-2 6-1 6-1 6-2 6-2 6-2 6-2 6-1 6-2 6-3 6-4 6-3 6-2 6-2 6-2 6,0 6,0 6,1 6,0 6,0 6,0 6,2 6,3 6,4 6,4 6,3 6,2 6,2 6,3 6,3 6,6 6,8 6,10 6,9 6,8 6,6 6,6 6,5 6,4 6,2 6,0 6-4 6-3 6-3 6-3 6-8 6-18 6-32 6-21 6-13 6-12 6-13 6-9 6-3 6-2 6-1 6,0 6,0 6-1 6-1 6-3 6-6 6-5 6-5 6-2 6,0 6,1 6,0 6-1 6-4 6-10 6-13 6-16 6-15 6-11 6-10 6-7 6-3 6-2 6,1 6-3 6,3 6,12 6,17 6,19 6,23 6,36 6,43 6,30 6,27 6,24 6,23 6,17 6,9 6,9 6,8 6,6 6,3 6-3 6-4 6-3 6,2 6,1 6-1 6-1 6-2 6-2 6-2 6-1 6-1 6,1 6,1 6,1 6,0 6,0 6-1 6-2 6-4 6-4 6-4 6-4 6-3 6-4 6-5 6-4 6-5 6-5 6-6 6-5 6-7 6-7 6-9 6-9 6-9 6-8 6-7 6-4 6-2 6-1 6,0 6,2 6,2 6,3 6,4 6,6 6,6 6,7 6,6 6,5 6,2 6,0 6,0 6,0 6,0 6,2 6,1 6,0 6,1 6,1 6,1 6,0 6,0 6,1 6,2 6,4 6,2 6,2 6,0 6,1 6,0 6,1 6,0 6,0 6-1 6,0 6,1 6,2 6,2 6,3 6,3 6,2 6,2 6,2 6,1 6,2 6,3 6,5 6,6 6,5 6,5 6,2 6,3 6,1 6,0 6-1 6-1 6-1 6,0 6,0 6-1 6,1 6,0 6,1 6,0 6-1 6-2 6,0 6,0 6,0 6,2 6,3 6,4 6,2 6,1 6-2 6-3 6-2 6-3 6-2 6-3 6-5 6-6 6-7 6-7 6-5 6-5 6-3 6-4 6-4 6-4 6-4 6-3 6-3 6-1 6-1 6,0 6,0 6-1 6-2 6-2 6-3 6-3 6-3 6-3 6-1 6-1 6,0 2,0"/>
<path d="M272,770l6,0 6,0 6-1 6-1 6,0 6,0 6,2 6,3 6,2 6,1 6,0 6,0 6-2 6-2 6-2 6-1 6,0 6,2 6,2 6,2 6,2 6,1 6,0 6-1 6-2 6-1 6-2 6,0 6,0 6,0 6-2 6-2 6-2 6-3 6-3 6-3 6,0 6,0 6,0 6-1 6-1 6-2 6-2 6-2 6-2 6-1 6-1 6-1 6-1 6-1 6-1 6,0 6-1 6,0 6,0 6,2 6,5 6,4 6,4 6,3 6,2 6,2 6,4 6,3 6,5 6,6 6,9 6,10 6,10 6,8 6,7 6,6 6,5 6,4 6,2 6,1 6-2 6-3 6-4 6-10 6-19 6-32 6-21 6-13 6-12 6-13 6-11 6-6 6-2 6,0 6-1 6-3 6-5 6-7 6-11 6-11 6-10 6-8 6-5 6-2 6-1 6-1 6-3 6-6 6-13 6-20 6-25 6-27 6-22 6-19 6-16 6-13 6-12 6-6 6-3 6,0 6,5 6,8 6,10 6,17 6,30 6,46 6,44 6,42 6,29 6,23 6,21 6,21 6,23 6,21 6,19 6,14 6,9 6,7 6,5 6,5 6,5 6,3 6,1 6-1 6-2 6-5 6-7 6-8 6-10 6-9 6-10 6-10 6-9 6-9 6-7 6-4 6-3 6-1 6-2 6-3 6-4 6-2 6,1 6,4 6,6 6,7 6,7 6,5 6,1 6,0 6-1 6-1 6,0 6,1 6,1 6,2 6,3 6,3 6,4 6,3 6,4 6,2 6,3 6,3 6,5 6,3 6,3 6,2 6,1 6,1 6,1 6,3 6,3 6,4 6,5 6,4 6,3 6,2 6,2 6,3 6,4 6,5 6,3 6,2 6,1 6-1 6,1 6,3 6,5 6,6 6,5 6,3 6,3 6,2 6,3 6,3 6,4 6,2 6,2 6-1 6-2 6-3 6-3 6-2 6-3 6-4 6-5 6-6 6-4 6-2 6-2 6,0 6-1 6,0 6-1 6-1 6-2 6-3 6-3 6-4 6-3 6-2 6-1 6-2 6-2 6-1 6-1 6,0 6,0 6-1 6-1 6,0 6,0 6,0 6-1 6,0 6-1 6,0 6,0 6,1 6,2 6,2 6,2 6,1 6,1 6,0 6,1 6,3 6,3 6,4 6,2 6,2 6,1 6,1 6,0 6,1 6,1 6,1 6,1 6,1 6,3 6,3 6,4 6,4 6,3 2,0"/>
<path d="M272,790l6-1 6-2 6-2 6-3 6-1 6-1 6,2 6,2 6,3 6,2 6,2 6,0 6-1 6,0 6,0 6,1 6,3 6,4 6,3 6,2 6,0 6-1 6-2 6-1 6-2 6-3 6-2 6-2 6-3 6-4 6-2 6-2 6-1 6-1 6-1 6-2 6-2 6-2 6-2 6-2 6-2 6-3 6-2 6-2 6-1 6,1 6,1 6,3 6,2 6,2 6,1 6,0 6,0 6,0 6,1 6,6 6,9 6,12 6,10 6,8 6,4 6,3 6,2 6,2 6,4 6,3 6,4 6,4 6,3 6,4 6,5 6,6 6,5 6,3 6,0 6-2 6-6 6-7 6-9 6-12 6-20 6-31 6-21 6-12 6-11 6-11 6-8 6-6 6-5 6-3 6-2 6-2 6-1 6-2 6-5 6-7 6-7 6-6 6-4 6-2 6,0 6,0 6-2 6-3 6-10 6-15 6-18 6-18 6-13 6-11 6-9 6-5 6-3 6-1 6-4 6,3 6,12 6,18 6,20 6,24 6,37 6,47 6,35 6,32 6,27 6,27 6,20 6,14 6,12 6,11 6,8 6,5 6-4 6-8 6-5 6,1 6,1 6,2 6,0 6,0 6-2 6-3 6-5 6-5 6-3 6,0 6,2 6,2 6,0 6-4 6-6 6-6 6-4 6-2 6-2 6,0 6,0 6,2 6,2 6,3 6,3 6,4 6,4 6,3 6,1 6,1 6,0 6,0 6-1 6,0 6,0 6,1 6,0 6-1 6,0 6,1 6,2 6,1 6,1 6-1 6,0 6,1 6,2 6,4 6,3 6,3 6,2 6,2 6,0 6,0 6,0 6,0 6,0 6,0 6-2 6-2 6-3 6-1 6-1 6-1 6,0 6,1 6,2 6,4 6,5 6,4 6,4 6,4 6,6 6,6 6,7 6,7 6,6 6,4 6,3 6,2 6,2 6,2 6,4 6,5 6,4 6,5 6,4 6,4 6,3 6,3 6,2 6,0 6-1 6-1 6-1 6-1 6-1 6-1 6-1 6,0 6,2 6,1 6,1 6,0 6,0 6,0 6,0 6,0 6,1 6,0 6,0 6-1 6-2 6-3 6-3 6-4 6-3 6-2 6-1 6-2 6-1 6,0 6,0 6,0 6,1 6,1 6,1 6,2 6,2 6,0 6,0 6-2 6-1 6-1 6,0 6,1 6,1 6,1 6,2 6,1 6,1 6,1 6,1 6,0 6,0 2,0"/>
<path d="M272,793l6,0 6,1 6-1 6,0 6-1 6-1 6,0 6,1 6,2 6,2 6,1 6,2 6,2 6,2 6,2 6,2 6,1 6,1 6,1 6,1 6,0 6-2 6-4 6-4 6-4 6-3 6-3 6-2 6-1 6,0 6,1 6,0 6,0 6-1 6,0 6,1 6,2 6,3 6,4 6,3 6,3 6,2 6,1 6,1 6,1 6,1 6,2 6,2 6,5 6,4 6,5 6,2 6,0 6,0 6-1 6,4 6,8 6,11 6,11 6,11 6,7 6,5 6,5 6,2 6,1 6,0 6-3 6-2 6-2 6,1 6,7 6,10 6,9 6,6 6,0 6-2 6-5 6-6 6-7 6-10 6-15 6-25 6-18 6-13 6-13 6-13 6-11 6-8 6-6 6-3 6-5 6-5 6-5 6-6 6-5 6-6 6-7 6-6 6-5 6-3 6-1 6-1 6-3 6-5 6-12 6-15 6-15 6-13 6-9 6-8 6-7 6-4 6-4 6-3 6-6 6,3 6,15 6,21 6,23 6,30 6,43 6,51 6,33 6,25 6,24 6,24 6,17 6,7 6,5 6,2 6-2 6-5 6-13 6-15 6-10 6-3 6-2 6,0 6-1 6-2 6-2 6-2 6-1 6-2 6,0 6,0 6,2 6,1 6,0 6-2 6-2 6-3 6-1 6-2 6-2 6-2 6-1 6,1 6,1 6,2 6,1 6,2 6,2 6,3 6,1 6,1 6-2 6-4 6-3 6-2 6-1 6,0 6,1 6,0 6,0 6,0 6,2 6,2 6,2 6,3 6,3 6,3 6,2 6,1 6,1 6,1 6,3 6,4 6,3 6,2 6,2 6,1 6,1 6,2 6,2 6,0 6-1 6-4 6-5 6-5 6-4 6-2 6,0 6,0 6,1 6-1 6-1 6-2 6-1 6-2 6,0 6,0 6,0 6,0 6,0 6-1 6-1 6-2 6-3 6-3 6-2 6-2 6,0 6,1 6,2 6,2 6,0 6-1 6-3 6-3 6-2 6-1 6,1 6,0 6,0 6-2 6-3 6-3 6-3 6-3 6-3 6-2 6-1 6-1 6-1 6-1 6-1 6,0 6,3 6,4 6,6 6,6 6,3 6,2 6-1 6-1 6,0 6,1 6,0 6-2 6-4 6-7 6-7 6-8 6-8 6-7 6-5 6-5 6-4 6-4 6-2 6-2 6,0 6,0 6,0 6,0 6,0 6,0 6-1 6,0 6-1 2,0"/>
<path d="M272,800l6,0 6,0 6-1 6-1 6,0 6-1 6,2 6,2 6,4 6,4 6,3 6,1 6,1 6-1 6-1 6,0 6,0 6,1 6,0 6-1 6-1 6-4 6-3 6-4 6-1 6-1 6,0 6,0 6,1 6,1 6,2 6,3 6,3 6,2 6,2 6-1 6-1 6-3 6-2 6-2 6,1 6,1 6,2 6,0 6,0 6,0 6-1 6-1 6,0 6,0 6,1 6,2 6,1 6,2 6,3 6,6 6,8 6,9 6,7 6,6 6,4 6,4 6,4 6,4 6,3 6,2 6,1 6,0 6,0 6,1 6,5 6,7 6,6 6,2 6-3 6-5 6-6 6-7 6-8 6-10 6-19 6-35 6-20 6-10 6-9 6-9 6-8 6-4 6-1 6,2 6,5 6,6 6,5 6,3 6-1 6-4 6-6 6-7 6-6 6-6 6-8 6-11 6-12 6-13 6-17 6-19 6-19 6-16 6-10 6-8 6-5 6-4 6-2 6,0 6-1 6,6 6,16 6,21 6,23 6,30 6,39 6,49 6,39 6,37 6,30 6,28 6,20 6,11 6,8 6,6 6,5 6,6 6,6 6,6 6,3 6,0 6,0 6,0 6-1 6-2 6-2 6-3 6-3 6-3 6-2 6-2 6-1 6-1 6-2 6-4 6-7 6-7 6-6 6-5 6-3 6-4 6-5 6-5 6-3 6,1 6,3 6,3 6,3 6,1 6,0 6,0 6,1 6,0 6-3 6-5 6-7 6-9 6-10 6-11 6-11 6-10 6-8 6-6 6-3 6-2 6-1 6-1 6-3 6-3 6-2 6-1 6,1 6,2 6,2 6,2 6,1 6,2 6,0 6,0 6-2 6-1 6-1 6,1 6,1 6,1 6-1 6-3 6-5 6-5 6-3 6-2 6,0 6,1 6,2 6,2 6,1 6,1 6,1 6,4 6,6 6,9 6,8 6,9 6,7 6,6 6,5 6,5 6,6 6,6 6,5 6,3 6,0 6-1 6-3 6-3 6-4 6-6 6-5 6-5 6-4 6-3 6-4 6-6 6-6 6-5 6-4 6-2 6,1 6,1 6,2 6,2 6,5 6,7 6,9 6,10 6,10 6,8 6,8 6,8 6,9 6,9 6,8 6,5 6,4 6,2 6-1 6-2 6-5 6-7 6-7 6-7 6-5 6-5 6-6 6-6 6-4 6-2 6,0 6,1 6,2 6,1 6,0 6,0 6-1 6-1 6,0 2,0"/>
<path d="M272,772l6,1 6,1 6,1 6,0 6-1 6-2 6,0 6,0 6,1 6,2 6,1 6,1 6,2 6,0 6-1 6-2 6-4 6-3 6-2 6,0 6,2 6,2 6,2 6,2 6,1 6,0 6,1 6,2 6,2 6,3 6,1 6,1 6-1 6,1 6,1 6,1 6,1 6,0 6-1 6-1 6-1 6-1 6-2 6-3 6-3 6-2 6,1 6,1 6,2 6,3 6,2 6,1 6,1 6,0 6,0 6,3 6,4 6,6 6,7 6,7 6,5 6,6 6,6 6,6 6,7 6,8 6,8 6,8 6,8 6,7 6,10 6,11 6,10 6,5 6,1 6-2 6-4 6-7 6-9 6-14 6-24 6-38 6-34 6-28 6-27 6-27 6-23 6-17 6-13 6-10 6-6 6-5 6-5 6-6 6-13 6-16 6-19 6-16 6-13 6-7 6-4 6-1 6-3 6-5 6-16 6-26 6-34 6-37 6-25 6-18 6-14 6-12 6-9 6,0 6,6 6,10 6,10 6,12 6,14 6,17 6,31 6,50 6,53 6,52 6,36 6,29 6,28 6,28 6,28 6,27 6,24 6,18 6,13 6,9 6,6 6,6 6,5 6,3 6,1 6-2 6-4 6-4 6-5 6-4 6-5 6-4 6-4 6-4 6-4 6-5 6-5 6-6 6-6 6-5 6-5 6-2 6,0 6,3 6,6 6,7 6,7 6,8 6,6 6,6 6,4 6,4 6,4 6,3 6,4 6,4 6,4 6,3 6,3 6,1 6,2 6,3 6,3 6,3 6,2 6,2 6,3 6,2 6,2 6,2 6,2 6,2 6,3 6,3 6,4 6,5 6,6 6,6 6,6 6,4 6,4 6,3 6,1 6-1 6-3 6-4 6-4 6-3 6-2 6-2 6-2 6-4 6-4 6-3 6-3 6-1 6,0 6,1 6,2 6,2 6,2 6,2 6,2 6,2 6,0 6,1 6-1 6-1 6-3 6-5 6-5 6-5 6-5 6-3 6-3 6-2 6,0 6,1 6,2 6,3 6,3 6,4 6,4 6,3 6,3 6,2 6,2 6,2 6,2 6,1 6,0 6-2 6-1 6-2 6,0 6,2 6,3 6,4 6,6 6,5 6,5 6,4 6,4 6,3 6,4 6,2 6,2 6,2 6,0 6,1 6,0 6,1 6,1 6,0 6,1 6,1 6,1 6,1 6,1 6,1 6,1 6,1 6,0 6-1 6,0 6,1 6,2 2,0"/>
<path d="M272,808l6-1 6-2 6-3 6-2 6-2 6-1 6-1 6-1 6-2 6-1 6,0 6,0 6,0 6,2 6,2 6,3 6,3 6,3 6,2 6,0 6-2 6-3 6-3 6-1 6-1 6-1 6-1 6-1 6-2 6-1 6,0 6,1 6,1 6,1 6-1 6-2 6-3 6-2 6-2 6-2 6-2 6-1 6-2 6-1 6,0 6,1 6,1 6,1 6,2 6,1 6,0 6-2 6-3 6-3 6-1 6,3 6,7 6,8 6,9 6,8 6,6 6,7 6,7 6,8 6,9 6,10 6,9 6,9 6,8 6,6 6,7 6,7 6,8 6,7 6,6 6,6 6,4 6,2 6-2 6-6 6-12 6-21 6-17 6-14 6-14 6-14 6-11 6-8 6-6 6-1 6-1 6-2 6-3 6-2 6-2 6-2 6-5 6-5 6-8 6-8 6-7 6-7 6-7 6-8 6-14 6-17 6-16 6-14 6-11 6-10 6-9 6-6 6-7 6-9 6-13 6-6 6,6 6,11 6,13 6,19 6,32 6,40 6,26 6,21 6,16 6,14 6,9 6,5 6,4 6,4 6,3 6,3 6,2 6,3 6,4 6,6 6,6 6,6 6,6 6,5 6,3 6,2 6,2 6,3 6,2 6,3 6,4 6,3 6,1 6,1 6-1 6-1 6-4 6-5 6-7 6-7 6-7 6-3 6,0 6,3 6,5 6,5 6,4 6,3 6,1 6,0 6-1 6,0 6,1 6,2 6,3 6,3 6,2 6,1 6,1 6,1 6,1 6,0 6,0 6,0 6-1 6-1 6,0 6,2 6,3 6,4 6,2 6,2 6,2 6,2 6,3 6,2 6,2 6,2 6,0 6,0 6-2 6-2 6-2 6-1 6,0 6,0 6-2 6-2 6-2 6-2 6,0 6,1 6,1 6-2 6-3 6-4 6-4 6-3 6-3 6-3 6-1 6,1 6,2 6,1 6-1 6-2 6-5 6-4 6-5 6-4 6-3 6-3 6-3 6-5 6-6 6-9 6-7 6-5 6-3 6-1 6-1 6-1 6-1 6-1 6-1 6,0 6,1 6,2 6,2 6,2 6,1 6-1 6-1 6-1 6-1 6,0 6,0 6-1 6-1 6-2 6-1 6-1 6-1 6-1 6-1 6-3 6-4 6-6 6-7 6-6 6-4 6-2 6-1 6-1 6-1 6-2 6-5 6-4 6-3 6-1 6-1 6-1 6-2 6-2 6-2 2,0"/>
<path d="M272,825l6-1 6-1 6-2 6,0 6,0 6,0 6,0 6-1 6,0 6-1 6,1 6,1 6,2 6,1 6,2 6,1 6,1 6-1 6-3 6-3 6-1 6,0 6,2 6,2 6,1 6-1 6-2 6-2 6,0 6,1 6,2 6,0 6,0 6-1 6,0 6,1 6,1 6,0 6-2 6-4 6-4 6-3 6-1 6,1 6,1 6,0 6-2 6-5 6-3 6-3 6-2 6-1 6-1 6,0 6,1 6,5 6,8 6,9 6,6 6,5 6,2 6,4 6,6 6,6 6,5 6,2 6,2 6,3 6,4 6,5 6,7 6,6 6,4 6,2 6,0 6-3 6-5 6-7 6-8 6-10 6-19 6-38 6-26 6-16 6-17 6-18 6-14 6-7 6-3 6-1 6,0 6,1 6,3 6,4 6,0 6-4 6-7 6-9 6-8 6-5 6-4 6-4 6-4 6-7 6-14 6-20 6-23 6-25 6-18 6-14 6-11 6-6 6-3 6,0 6,1 6,7 6,14 6,17 6,20 6,28 6,44 6,57 6,49 6,44 6,33 6,30 6,24 6,16 6,12 6,9 6,4 6,2 6,2 6,0 6-1 6-2 6-1 6,0 6,1 6,0 6-1 6-2 6-4 6-4 6-4 6-3 6-3 6-5 6-6 6-8 6-10 6-10 6-11 6-8 6-5 6-1 6,2 6,3 6,3 6,5 6,7 6,11 6,12 6,12 6,9 6,6 6,5 6,4 6,3 6,4 6,5 6,5 6,6 6,4 6,4 6,0 6,0 6,0 6,2 6,3 6,3 6,3 6,3 6,1 6,0 6-1 6,0 6,0 6,1 6,1 6,0 6-1 6-1 6-1 6,0 6,2 6,2 6,3 6,1 6,0 6-1 6-2 6-2 6-4 6-3 6-3 6-2 6-2 6-1 6,0 6,3 6,3 6,4 6,2 6,0 6-2 6-3 6-1 6,0 6,3 6,2 6,2 6,0 6-2 6-4 6-4 6-4 6-4 6-3 6-5 6-6 6-7 6-8 6-6 6-4 6-3 6-5 6-6 6-6 6-8 6-7 6-7 6-6 6-5 6-6 6-6 6-5 6-4 6-4 6-3 6-2 6-2 6,0 6,1 6,2 6,2 6,2 6,1 6,2 6,2 6,4 6,3 6,2 6,1 6-1 6-1 6-2 6-1 6,0 6-2 6-4 6-8 6-10 6-11 6-10 6-7 6-5 6-4 6-1 6,0 6,1 2,1"/>
<path d="M272,758l6,0 6,0 6,0 6-1 6-2 6-3 6-3 6-1 6,1 6,0 6,0 6,0 6,1 6,3 6,4 6,5 6,4 6,2 6,1 6,1 6,2 6,2 6,1 6,1 6,2 6,1 6,1 6-1 6-1 6-2 6-3 6-3 6-5 6-3 6-3 6-1 6,0 6-1 6-2 6-4 6-4 6-3 6-3 6-2 6-2 6-2 6-1 6-1 6-1 6-2 6-2 6-1 6,1 6,1 6,1 6,2 6,3 6,5 6,6 6,6 6,7 6,8 6,9 6,10 6,12 6,14 6,15 6,15 6,11 6,9 6,9 6,9 6,10 6,8 6,5 6,3 6,1 6,0 6-2 6-6 6-12 6-22 6-19 6-16 6-17 6-17 6-14 6-11 6-7 6-2 6-1 6,2 6,1 6,0 6-4 6-7 6-9 6-9 6-9 6-6 6-6 6-5 6-6 6-8 6-14 6-18 6-19 6-19 6-15 6-13 6-11 6-6 6-6 6-3 6-5 6,2 6,10 6,12 6,11 6,16 6,25 6,33 6,26 6,23 6,14 6,9 6,5 6,4 6,6 6,8 6,8 6,8 6,8 6,7 6,6 6,3 6,4 6,4 6,4 6,3 6,2 6,2 6,1 6,1 6,0 6,1 6,2 6,2 6,3 6,2 6,0 6,1 6,1 6,1 6,1 6,0 6,0 6,0 6,0 6,1 6,1 6,1 6,1 6,1 6,0 6,1 6,1 6,3 6,2 6,2 6,2 6,1 6-1 6-1 6,0 6,2 6,3 6,3 6,4 6,4 6,5 6,5 6,2 6,0 6-2 6-3 6-3 6-5 6-6 6-7 6-7 6-8 6-8 6-6 6-5 6-1 6-1 6,1 6-1 6-2 6-3 6-4 6-3 6-2 6-1 6-2 6-2 6-2 6,1 6,1 6,3 6,2 6,1 6-1 6-2 6-2 6-2 6-2 6-1 6-1 6-2 6-4 6-4 6-4 6-2 6,0 6,3 6,6 6,6 6,7 6,4 6,1 6,0 6,2 6,3 6,5 6,5 6,6 6,7 6,6 6,6 6,3 6,3 6,2 6,2 6,2 6,0 6,0 6-1 6-1 6-2 6-2 6-1 6-1 6-2 6-1 6-2 6-1 6,0 6,1 6,2 6,1 6,2 6,2 6,1 6,4 6,8 6,11 6,14 6,14 6,13 6,11 6,9 6,7 6,7 6,7 6,6 6,4 6,4 6,3 6,3 2,0"/>
<path d="M272,772l6,1 6,2 6,3 6,3 6,2 6,2 6,0 6,0 6,0 6,0 6,1 6,1 6,1 6,1 6,0 6-1 6-1 6,0 6,0 6-1 6-2 6-3 6-4 6-3 6,0 6,2 6,4 6,3 6,2 6-1 6-3 6-4 6-3 6-3 6-1 6,0 6,1 6,1 6,0 6-2 6-2 6-1 6,0 6,1 6,2 6,1 6-1 6-2 6-2 6-2 6,0 6-1 6-1 6-3 6-2 6,1 6,5 6,7 6,8 6,8 6,5 6,5 6,3 6,5 6,5 6,8 6,9 6,8 6,6 6,4 6,5 6,4 6,3 6,1 6-2 6-2 6-3 6-3 6-3 6-8 6-17 6-29 6-20 6-13 6-13 6-15 6-12 6-8 6-6 6-4 6-3 6-3 6-5 6-9 6-15 6-19 6-21 6-20 6-16 6-11 6-8 6-8 6-7 6-9 6-18 6-28 6-37 6-38 6-26 6-19 6-15 6-12 6-11 6-2 6,2 6,3 6,2 6,2 6,2 6,6 6,22 6,43 6,53 6,52 6,34 6,22 6,19 6,19 6,21 6,21 6,20 6,18 6,20 6,18 6,14 6,7 6,4 6,3 6,1 6,1 6,2 6,2 6,1 6-1 6-2 6-3 6-2 6-2 6-2 6-3 6-4 6-6 6-5 6-6 6-3 6-2 6-1 6,1 6,3 6,4 6,5 6,6 6,6 6,4 6,3 6,3 6,4 6,5 6,7 6,6 6,6 6,4 6,3 6,1 6,2 6,2 6,3 6,5 6,6 6,6 6,5 6,4 6,3 6,3 6,4 6,5 6,7 6,6 6,7 6,5 6,6 6,6 6,6 6,5 6,3 6,3 6,1 6,1 6,1 6-1 6-2 6-4 6-4 6-4 6-3 6-3 6-2 6-4 6-5 6-6 6-5 6-4 6-1 6,2 6,2 6,2 6,4 6,4 6,4 6,4 6,4 6,3 6,4 6,3 6,3 6,3 6,1 6,0 6-3 6-3 6-4 6-5 6-5 6-7 6-7 6-7 6-6 6-5 6-5 6-3 6-3 6-4 6-4 6-5 6-5 6-4 6-4 6-3 6-2 6-2 6-1 6-1 6-1 6-2 6-1 6-2 6-1 6-1 6-1 6-1 6-4 6-6 6-8 6-7 6-6 6-4 6-4 6-3 6-3 6-3 6,0 6,0 6,2 6,1 6,0 6,0 6,0 6,0 6,2 6,1 6,0 2,0"/>
<path d="M272,720l6,2 6,5 6,5 6,4 6,4 6,3 6,1 6,1 6,0 6,1 6,2 6,3 6,4 6,4 6,4 6,3 6,3 6,3 6,3 6,1 6,1 6,0 6,2 6,1 6,0 6,0 6-1 6,0 6,3 6,5 6,4 6,3 6,1 6-1 6-2 6-3 6-2 6,0 6,2 6,3 6,4 6,3 6,1 6-1 6-1 6-2 6-2 6,0 6,2 6,2 6,2 6,1 6,0 6,0 6-1 6,5 6,8 6,12 6,12 6,9 6,6 6,6 6,5 6,4 6,3 6,5 6,6 6,5 6,5 6,5 6,9 6,12 6,12 6,9 6,5 6,4 6,3 6,1 6-1 6-6 6-12 6-20 6-17 6-16 6-14 6-12 6-13 6-12 6-11 6-10 6-8 6-7 6-7 6-8 6-11 6-13 6-14 6-14 6-15 6-13 6-12 6-11 6-12 6-11 6-15 6-19 6-22 6-25 6-23 6-24 6-22 6-19 6-17 6-13 6-10 6-6 6,0 6,5 6,7 6,13 6,28 6,43 6,44 6,43 6,30 6,25 6,22 6,21 6,19 6,18 6,15 6,11 6,9 6,5 6,3 6,1 6-1 6-1 6,0 6-1 6,0 6,0 6-1 6-2 6-3 6-6 6-7 6-9 6-10 6-10 6-11 6-11 6-9 6-6 6-5 6-2 6,0 6,3 6,6 6,9 6,9 6,9 6,8 6,5 6,4 6,3 6,3 6,3 6,3 6,3 6,3 6,3 6,3 6,3 6,4 6,5 6,5 6,5 6,6 6,6 6,6 6,5 6,3 6,2 6,1 6,1 6,0 6,0 6,0 6,0 6,1 6,0 6,0 6-3 6-3 6-1 6,2 6,2 6,2 6-1 6-1 6,0 6,0 6,3 6,4 6,5 6,5 6,5 6,3 6,2 6,0 6,1 6,0 6,2 6,2 6,2 6,2 6-1 6-1 6-1 6-1 6,0 6,0 6-1 6-2 6-3 6-3 6-4 6-4 6-3 6-4 6-3 6-3 6-4 6-5 6-7 6-7 6-5 6-4 6-2 6,0 6,0 6,1 6,3 6,3 6,3 6,1 6-1 6-4 6-4 6-3 6-1 6,1 6,2 6,2 6,0 6,1 6,0 6,2 6,3 6,3 6,3 6,4 6,4 6,6 6,7 6,7 6,7 6,4 6,1 6-1 6-2 6-4 6-5 6-6 6-5 6-6 6-4 6-3 6-1 6,0 2,0"/>
<path d="M272,816l6,0 6,1 6,1 6,1 6,0 6,0 6,0 6-1 6-2 6-3 6-2 6-2 6,0 6,0 6,0 6,1 6,1 6,0 6,0 6,0 6,1 6,1 6,1 6,0 6-2 6-3 6-2 6-2 6-2 6,0 6,0 6,1 6,0 6-1 6-1 6-3 6-2 6-3 6-2 6-2 6-2 6-3 6-3 6-3 6-3 6-1 6,0 6,3 6,3 6,2 6,1 6-2 6-3 6-5 6-3 6,0 6,5 6,9 6,9 6,9 6,7 6,7 6,6 6,4 6,4 6,6 6,8 6,8 6,8 6,8 6,11 6,11 6,10 6,5 6,0 6-1 6-1 6-3 6-7 6-11 6-21 6-35 6-29 6-23 6-22 6-21 6-17 6-12 6-7 6-4 6-2 6-2 6-1 6-4 6-6 6-8 6-7 6-6 6-3 6-1 6-3 6-7 6-9 6-12 6-18 6-23 6-26 6-28 6-21 6-20 6-17 6-16 6-15 6-8 6-4 6,0 6,3 6,4 6,4 6,8 6,20 6,37 6,40 6,42 6,28 6,21 6,17 6,17 6,18 6,18 6,17 6,16 6,15 6,13 6,8 6,4 6,4 6,3 6,1 6,0 6,1 6,2 6,1 6,1 6,0 6-1 6-2 6-1 6,0 6,0 6,1 6,1 6,0 6-1 6-1 6-1 6,0 6,3 6,5 6,7 6,6 6,7 6,6 6,6 6,2 6,0 6-1 6-2 6-4 6-4 6-5 6-7 6-5 6-5 6-3 6-1 6,2 6,3 6,5 6,6 6,7 6,6 6,6 6,5 6,4 6,4 6,4 6,4 6,3 6,2 6,1 6,2 6,3 6,3 6,3 6,2 6,2 6,2 6,2 6,3 6,1 6,1 6-1 6-1 6-1 6-2 6,0 6,1 6,2 6,3 6,4 6,3 6,4 6,3 6,4 6,5 6,4 6,4 6,2 6,1 6,2 6,2 6,1 6,1 6-1 6-1 6-1 6,0 6,0 6-2 6-3 6-3 6-2 6,1 6,2 6,3 6,3 6,3 6,2 6,2 6,4 6,3 6,4 6,4 6,4 6,4 6,2 6,2 6,0 6,0 6,0 6,0 6-1 6,0 6,0 6,2 6,4 6,4 6,6 6,6 6,4 6,3 6,2 6,2 6,2 6,1 6,2 6,2 6,2 6,3 6,3 6,2 6-1 6-2 6-3 6-2 6-2 6-2 6,0 6-1 6,0 2,0"/>
<path d="M272,835l6-1 6-1 6-2 6-3 6-2 6-3 6-3 6-3 6-2 6-2 6,0 6,2 6,1 6,1 6,0 6-2 6-2 6-2 6-1 6,0 6-1 6-1 6-1 6-2 6-1 6,0 6,0 6,0 6,0 6,0 6-1 6,0 6,1 6,2 6,2 6,2 6,2 6,1 6,1 6-1 6-2 6-1 6-1 6-1 6,1 6,1 6,3 6,3 6,2 6,0 6-3 6-4 6-5 6-3 6-1 6,2 6,4 6,5 6,5 6,2 6,1 6,0 6,1 6,0 6,1 6,3 6,4 6,5 6,5 6,4 6,6 6,6 6,5 6,4 6,2 6-1 6-5 6-6 6-8 6-12 6-18 6-30 6-21 6-13 6-13 6-15 6-14 6-10 6-8 6-4 6-1 6,1 6-1 6-2 6-6 6-8 6-7 6-5 6-1 6,1 6,3 6,2 6,1 6-3 6-9 6-13 6-15 6-15 6-12 6-12 6-9 6-4 6,1 6,6 6,5 6,13 6,22 6,27 6,27 6,33 6,46 6,53 6,32 6,25 6,22 6,22 6,14 6,6 6,4 6,4 6,2 6-4 6-13 6-14 6-9 6-1 6,1 6,1 6-1 6-3 6-5 6-5 6-3 6,0 6,1 6,0 6-2 6-3 6-4 6-3 6-3 6-3 6-2 6-2 6-2 6-3 6-4 6-4 6-2 6,1 6,2 6,4 6,4 6,4 6,2 6,3 6,2 6,1 6-1 6,0 6,1 6,2 6,4 6,3 6,4 6,4 6,3 6,3 6,2 6,4 6,5 6,6 6,7 6,6 6,3 6,2 6,1 6,2 6,3 6,1 6,0 6-2 6-3 6-3 6-3 6-2 6,0 6,2 6,3 6,4 6,3 6,3 6,3 6,5 6,5 6,7 6,5 6,4 6,2 6,1 6,1 6,3 6,2 6,2 6,2 6,1 6,1 6,1 6,1 6,1 6,0 6,0 6,0 6,0 6-2 6-1 6-2 6,1 6,2 6,3 6,2 6,0 6-1 6,0 6,0 6,2 6,2 6,0 6-1 6-2 6-1 6-2 6-2 6-6 6-6 6-6 6-4 6-2 6,0 6,2 6,1 6,1 6,0 6,0 6,0 6-1 6,1 6,2 6,2 6,2 6,3 6,4 6,3 6,2 6,1 6-1 6,0 6-1 6-1 6,0 6-1 6-1 6-2 6-2 6-3 6-2 6-2 6-1 6-2 6-1 6,0 2,0"/>
<path d="M272,822l6-1 6-1 6-1 6-1 6,1 6,1 6-1 6-2 6-3 6-4 6-3 6-3 6-2 6,0 6,2 6,3 6,3 6,3 6,1 6-1 6-2 6-2 6-3 6-2 6-1 6-1 6,1 6,2 6,1 6,1 6,0 6-1 6-1 6-1 6,0 6,0 6,1 6,2 6,2 6,2 6,1 6,2 6,1 6,1 6,1 6,0 6-1 6-1 6,0 6-1 6,0 6,0 6,0 6,1 6,1 6,4 6,7 6,8 6,8 6,8 6,6 6,6 6,5 6,4 6,3 6,3 6,3 6,3 6,3 6,4 6,9 6,9 6,6 6,1 6-4 6-8 6-8 6-10 6-10 6-13 6-24 6-45 6-29 6-16 6-13 6-13 6-10 6-8 6-6 6-6 6-4 6-3 6-2 6-4 6-7 6-11 6-11 6-11 6-9 6-9 6-9 6-10 6-12 6-14 6-20 6-26 6-33 6-35 6-23 6-18 6-14 6-11 6-8 6-1 6,2 6,5 6,8 6,11 6,13 6,19 6,35 6,50 6,50 6,47 6,32 6,26 6,22 6,20 6,19 6,19 6,17 6,13 6,9 6,6 6,4 6,2 6,2 6,1 6-1 6-2 6-2 6-3 6-4 6-4 6-3 6-2 6-2 6-1 6-1 6-2 6-2 6-1 6-1 6-1 6,0 6,2 6,2 6,3 6,3 6,3 6,3 6,5 6,6 6,4 6,3 6,1 6-1 6-3 6-2 6-1 6-1 6,1 6,0 6,1 6,0 6,1 6,1 6,2 6,4 6,5 6,7 6,7 6,6 6,5 6,4 6,4 6,5 6,5 6,4 6,2 6,0 6,1 6,2 6,2 6,2 6,3 6,1 6,0 6-1 6-2 6-2 6,0 6,2 6,1 6,1 6-1 6-2 6-3 6-4 6-5 6-6 6-6 6-3 6-1 6,1 6,2 6,3 6,2 6,2 6,1 6,0 6,0 6-1 6-1 6-4 6-5 6-7 6-7 6-5 6-6 6-4 6-3 6-2 6-1 6-1 6-2 6-3 6-3 6-5 6-3 6-3 6-1 6,1 6,3 6,3 6,4 6,3 6,2 6,0 6-1 6,0 6-1 6-3 6-6 6-9 6-10 6-8 6-7 6-5 6-5 6-5 6-6 6-6 6-4 6-5 6-4 6-2 6-1 6,1 6,0 6-1 6-1 6-1 6,1 6,1 6,2 6,3 6,1 6,2 6,3 6,3 2,1"/>
<path d="M272,767l6,1 6,0 6,2 6,3 6,3 6,2 6,1 6-1 6-1 6-2 6,1 6,1 6,2 6,1 6,1 6,3 6,4 6,4 6,4 6,2 6,0 6-1 6-2 6-3 6-2 6-2 6-2 6-1 6,0 6,2 6,2 6,2 6,0 6,0 6-1 6-1 6-1 6,1 6,0 6,1 6-1 6-1 6-1 6-2 6-1 6-1 6,0 6,1 6,2 6,2 6,2 6,2 6,1 6,0 6-1 6,2 6,7 6,9 6,12 6,11 6,8 6,6 6,5 6,4 6,4 6,4 6,4 6,3 6,3 6,6 6,9 6,11 6,8 6,3 6-2 6-4 6-5 6-8 6-10 6-18 6-28 6-43 6-33 6-23 6-20 6-19 6-15 6-9 6-7 6-5 6-5 6-5 6-7 6-8 6-12 6-14 6-15 6-14 6-11 6-7 6-4 6-4 6-5 6-8 6-19 6-29 6-36 6-40 6-29 6-26 6-21 6-18 6-16 6-5 6,4 6,3 6,3 6,2 6,4 6,11 6,26 6,49 6,57 6,56 6,35 6,27 6,26 6,29 6,32 6,30 6,27 6,24 6,21 6,17 6,13 6,7 6,6 6,3 6,1 6,0 6-1 6-2 6-2 6-2 6-2 6-3 6-3 6-3 6-3 6-3 6-2 6-2 6,0 6-2 6-2 6-4 6-3 6-1 6,0 6,2 6,3 6,3 6,2 6,0 6-1 6-2 6-2 6,0 6,3 6,6 6,7 6,7 6,5 6,4 6,5 6,5 6,5 6,6 6,5 6,4 6,3 6,2 6,1 6,0 6-2 6-1 6-1 6,1 6,0 6,1 6,1 6,0 6-1 6-2 6-2 6-1 6,0 6,1 6,1 6,0 6,0 6,0 6,1 6,3 6,3 6,4 6,2 6,2 6,1 6,1 6,0 6,0 6,0 6,0 6,0 6,1 6,1 6,0 6,0 6-1 6-2 6-2 6-1 6-2 6-2 6-2 6-3 6-3 6-3 6-2 6,0 6,0 6,2 6,2 6,3 6,2 6,3 6,3 6,1 6-1 6-4 6-7 6-8 6-8 6-7 6-5 6-3 6-3 6-3 6-5 6-5 6-4 6-3 6,0 6,1 6,2 6,3 6,2 6,2 6,1 6,1 6,1 6,0 6-1 6-2 6-5 6-6 6-7 6-5 6-3 6,0 6,2 6,2 6,2 6,0 6,0 6,0 6-1 6-1 6-1 6-1 2,0"/>
<path d="M272,825l6-2 6-3 6-4 6-3 6-1 6-2 6-2 6-3 6-2 6,1 6,3 6,3 6,2 6,0 6-2 6-4 6-4 6-1 6,0 6,2 6,3 6,2 6,0 6,0 6,0 6-2 6-1 6-2 6-1 6,0 6,0 6,1 6,2 6,2 6,2 6,2 6,2 6,2 6,2 6,1 6,0 6,0 6,0 6-2 6-2 6-2 6-3 6-1 6,2 6,4 6,2 6,0 6-3 6-4 6-3 6,4 6,8 6,11 6,11 6,10 6,7 6,5 6,5 6,5 6,4 6,3 6,3 6,3 6,3 6,5 6,7 6,8 6,5 6,2 6-2 6-4 6-5 6-6 6-7 6-11 6-21 6-33 6-26 6-21 6-19 6-19 6-15 6-9 6-6 6-4 6-4 6-4 6-4 6-5 6-7 6-10 6-11 6-9 6-9 6-7 6-8 6-8 6-10 6-13 6-20 6-28 6-33 6-35 6-24 6-18 6-12 6-9 6-7 6-1 6,3 6,6 6,11 6,15 6,15 6,20 6,31 6,45 6,43 6,42 6,28 6,24 6,20 6,18 6,19 6,19 6,15 6,10 6,8 6,5 6,5 6,3 6,4 6,5 6,6 6,5 6,4 6,2 6,0 6-2 6-1 6-1 6-1 6-2 6-1 6,1 6,4 6,4 6,3 6,1 6-2 6-1 6,0 6,1 6,3 6,3 6,4 6,5 6,3 6,3 6,1 6,1 6,1 6,1 6,1 6-1 6-1 6-2 6-2 6-4 6-3 6-3 6-2 6-2 6-1 6,0 6,0 6,0 6,0 6-1 6-3 6-4 6-4 6-2 6-1 6,0 6,1 6,0 6,0 6-1 6,0 6,0 6,0 6,0 6-2 6-2 6-1 6,1 6,2 6,1 6,1 6-1 6-1 6-1 6-1 6,0 6,2 6,2 6,0 6-2 6-3 6-4 6-2 6,0 6,0 6,1 6,1 6,2 6,0 6-1 6,0 6,0 6,3 6,3 6,4 6,4 6,3 6,2 6,0 6-1 6-2 6-1 6-2 6-2 6-2 6-4 6-3 6-5 6-6 6-6 6-5 6-3 6-2 6,1 6,1 6,0 6-1 6-2 6-3 6-3 6,0 6,1 6,4 6,4 6,4 6,5 6,4 6,4 6,4 6,6 6,6 6,6 6,4 6,4 6,3 6,2 6,0 6,1 6,1 6,2 6,3 6,2 6,1 6,0 6,1 6,0 6,1 2,0"/>
<path d="M272,808l6,0 6,0 6-1 6-2 6-2 6-1 6,1 6,1 6,2 6,2 6,2 6,2 6,1 6,0 6-1 6-3 6-4 6-4 6-4 6-3 6-1 6-1 6-1 6-2 6-2 6-2 6-2 6-1 6,0 6-1 6-2 6-1 6-2 6-1 6-1 6,0 6-1 6-1 6-1 6,1 6,2 6,3 6,2 6,2 6,0 6-1 6,0 6,0 6,0 6,1 6,1 6-1 6-1 6-2 6-1 6,3 6,7 6,9 6,9 6,7 6,5 6,3 6,2 6,4 6,6 6,8 6,7 6,5 6,4 6,3 6,5 6,7 6,6 6,4 6,1 6-3 6-5 6-8 6-8 6-12 6-20 6-31 6-22 6-15 6-13 6-14 6-12 6-8 6-4 6-2 6,0 6,0 6-2 6-3 6-7 6-10 6-12 6-12 6-11 6-9 6-10 6-12 6-15 6-17 6-26 6-34 6-38 6-37 6-26 6-19 6-17 6-16 6-15 6-8 6,0 6,4 6,7 6,8 6,10 6,14 6,29 6,48 6,51 6,50 6,33 6,25 6,21 6,20 6,21 6,18 6,17 6,12 6,13 6,11 6,8 6,6 6,7 6,6 6,5 6,2 6,1 6-1 6,0 6-1 6-1 6-3 6-5 6-5 6-4 6-5 6-6 6-5 6-5 6-5 6-4 6-2 6-2 6,0 6,3 6,4 6,6 6,7 6,5 6,4 6,4 6,5 6,6 6,8 6,8 6,8 6,7 6,4 6,3 6,0 6,1 6,1 6,2 6,3 6,4 6,5 6,3 6,3 6,2 6,1 6,1 6,3 6,3 6,4 6,3 6,4 6,5 6,5 6,5 6,5 6,3 6,2 6,0 6-4 6-6 6-7 6-8 6-9 6-9 6-8 6-7 6-4 6-3 6-1 6,0 6,1 6,2 6,1 6-1 6-1 6-2 6-2 6,1 6,3 6,5 6,3 6,2 6,0 6-1 6-1 6,1 6,1 6,1 6-1 6-2 6-3 6-4 6-4 6-5 6-5 6-4 6-4 6-4 6-3 6-4 6-3 6-3 6-2 6-1 6,0 6-1 6-1 6-2 6-3 6-2 6-1 6,3 6,4 6,5 6,2 6,1 6-1 6-2 6-1 6-2 6-3 6-3 6-3 6-5 6-4 6-4 6-2 6-2 6-2 6-1 6,0 6-2 6-2 6-3 6-2 6,0 6,1 6,2 6,2 6,1 6,0 6,0 2,0"/>
<path d="M272,836l6,0 6,1 6,1 6,1 6,1 6-1 6-1 6-2 6-2 6-1 6,1 6,0 6,0 6-1 6-3 6-4 6-4 6-3 6-3 6-2 6-2 6-2 6-2 6-2 6-2 6-1 6-1 6-1 6-1 6,0 6,0 6,1 6,2 6,2 6,2 6,0 6,0 6-2 6-2 6-2 6-1 6-1 6,0 6-2 6-3 6-4 6-6 6-4 6-2 6-2 6,0 6-1 6,0 6,0 6,3 6,6 6,10 6,11 6,10 6,10 6,8 6,10 6,11 6,11 6,10 6,9 6,7 6,6 6,6 6,7 6,13 6,14 6,13 6,9 6,5 6,5 6,6 6,4 6,1 6-4 6-10 6-19 6-20 6-19 6-18 6-16 6-14 6-11 6-8 6-5 6-5 6-4 6-3 6-1 6-2 6-2 6-4 6-6 6-6 6-6 6-7 6-8 6-10 6-12 6-17 6-22 6-24 6-25 6-23 6-24 6-23 6-20 6-17 6-11 6-10 6-2 6,4 6,6 6,5 6,10 6,22 6,36 6,31 6,29 6,21 6,15 6,11 6,7 6,9 6,10 6,9 6,9 6,10 6,10 6,9 6,6 6,4 6,3 6,1 6,0 6-1 6-1 6-1 6,0 6,1 6,0 6-1 6-2 6-2 6-4 6-3 6-3 6-5 6-6 6-8 6-8 6-6 6-5 6-2 6-2 6,0 6,0 6,2 6,3 6,3 6,4 6,4 6,2 6,1 6-1 6-2 6-1 6-2 6-1 6,0 6,0 6,1 6,1 6,2 6,2 6,3 6,2 6,3 6,3 6,4 6,5 6,5 6,5 6,5 6,3 6,2 6,1 6,1 6,2 6,1 6,2 6,1 6,0 6,0 6,0 6,1 6,1 6,0 6,0 6-1 6,0 6,1 6,1 6,1 6,1 6,2 6,2 6,1 6,2 6,2 6,2 6,1 6,1 6,0 6,1 6,0 6,1 6-1 6-1 6-4 6-4 6-3 6-3 6,0 6-1 6-1 6-2 6-3 6-5 6-4 6-3 6,0 6,1 6,2 6,2 6,2 6,2 6,3 6,4 6,3 6,3 6,2 6,2 6,1 6,0 6,2 6,2 6,3 6,4 6,4 6,4 6,5 6,5 6,5 6,4 6,2 6,2 6,1 6,0 6,1 6,2 6,2 6,1 6,0 6-3 6-3 6-5 6-5 6-5 6-5 6-6 6-7 6-7 6-6 6-3 6-1 2,0"/>
<path d="M272,791l6,0 6,0 6,0 6,0 6,0 6-1 6,0 6,2 6,4 6,4 6,5 6,3 6,1 6-2 6-3 6-3 6-4 6-3 6-1 6-2 6,0 6-2 6-2 6-4 6-3 6-2 6,1 6,3 6,3 6,2 6-1 6-2 6-3 6-2 6-2 6,0 6-1 6-1 6-3 6-2 6-2 6,0 6-1 6-1 6-1 6-1 6-3 6-2 6-2 6-1 6-2 6-1 6,0 6,0 6,1 6,1 6,3 6,2 6,2 6,3 6,4 6,5 6,5 6,4 6,5 6,8 6,11 6,11 6,8 6,4 6,3 6,2 6,3 6,4 6,3 6,4 6,3 6,2 6,0 6-4 6-12 6-22 6-14 6-10 6-10 6-12 6-9 6-8 6-7 6-6 6-7 6-6 6-6 6-4 6-6 6-6 6-6 6-7 6-6 6-5 6-5 6-3 6-3 6-5 6-13 6-21 6-26 6-28 6-23 6-22 6-19 6-13 6-10 6-4 6-2 6,3 6,10 6,13 6,14 6,20 6,35 6,48 6,41 6,38 6,29 6,25 6,20 6,15 6,16 6,14 6,12 6,8 6,2 6-1 6-2 6-1 6,0 6,0 6-1 6-1 6,0 6-1 6-1 6-2 6-3 6-1 6,0 6,2 6,2 6,2 6,0 6-1 6-1 6,1 6,2 6,5 6,5 6,5 6,5 6,5 6,3 6,1 6-1 6-2 6-2 6,0 6,2 6,3 6,4 6,4 6,3 6,4 6,4 6,5 6,7 6,5 6,5 6,3 6,2 6,1 6,2 6,1 6,1 6,0 6-1 6,0 6,1 6,3 6,5 6,4 6,3 6,1 6,1 6,1 6,2 6,3 6,3 6,5 6,4 6,4 6,2 6,2 6,1 6,2 6,1 6,1 6,0 6-2 6-1 6,0 6,1 6-1 6-2 6-4 6-3 6-2 6-1 6-1 6-2 6-2 6-3 6-3 6-2 6-3 6-3 6-4 6-5 6-5 6-6 6-5 6-4 6-3 6-2 6-2 6-1 6,0 6,1 6,1 6,1 6,0 6-1 6-2 6-1 6,0 6,0 6,0 6,1 6,0 6-1 6,0 6,1 6,3 6,4 6,5 6,4 6,4 6,3 6,4 6,4 6,5 6,5 6,4 6,3 6-1 6-3 6-5 6-4 6-3 6,0 6,0 6,2 6,2 6,1 6,0 6-1 6-2 6,1 6,1 6,1 6,2 6,0 2,1"/>
<path d="M272,775l6,1 6,2 6,3 6,3 6,2 6,1 6,1 6,0 6-1 6,0 6-2 6-1 6-2 6-2 6-2 6-2 6,0 6,0 6,2 6,3 6,2 6,1 6,0 6,0 6,0 6-1 6,0 6-1 6-1 6-2 6-1 6-2 6-1 6-1 6-1 6-1 6,0 6,0 6,1 6,0 6,1 6,0 6,0 6,1 6,2 6,3 6,5 6,7 6,7 6,6 6,4 6,1 6,0 6-1 6-1 6,2 6,7 6,10 6,11 6,9 6,7 6,6 6,6 6,6 6,5 6,5 6,4 6,3 6,3 6,4 6,8 6,10 6,8 6,5 6,0 6-1 6-3 6-4 6-6 6-9 6-16 6-28 6-25 6-22 6-19 6-19 6-16 6-14 6-13 6-12 6-11 6-10 6-8 6-7 6-11 6-13 6-13 6-12 6-8 6-5 6-3 6-2 6-2 6-3 6-10 6-15 6-19 6-18 6-10 6-7 6-4 6,0 6,2 6,3 6,1 6,3 6,10 6,15 6,17 6,23 6,34 6,43 6,33 6,29 6,25 6,23 6,17 6,12 6,10 6,11 6,9 6,7 6,2 6-1 6-1 6,2 6,3 6,3 6,2 6,3 6,1 6,1 6,0 6-1 6-1 6-3 6-3 6-3 6-3 6-3 6-4 6-6 6-7 6-9 6-9 6-10 6-9 6-7 6-5 6-2 6-1 6,0 6,1 6,1 6,0 6,1 6,2 6,2 6,4 6,6 6,6 6,6 6,3 6,1 6,2 6,3 6,4 6,4 6,5 6,5 6,5 6,5 6,5 6,7 6,6 6,4 6,2 6,2 6,1 6,3 6,3 6,3 6,1 6,1 6,0 6,1 6,1 6,0 6,0 6,0 6,0 6,1 6,2 6,5 6,6 6,9 6,10 6,9 6,8 6,6 6,6 6,6 6,4 6,3 6,2 6,3 6,3 6,3 6,3 6,1 6,0 6,1 6,2 6,2 6,2 6,2 6,2 6,1 6,0 6-1 6,0 6-1 6,0 6-2 6-4 6-5 6-5 6-5 6-6 6-4 6-4 6-1 6-2 6,0 6-2 6-1 6,0 6,0 6,1 6,0 6,1 6,0 6,1 6,2 6,2 6,1 6,1 6,1 6,1 6,2 6,1 6,2 6,0 6,0 6,0 6-1 6-3 6-3 6-3 6-2 6,1 6,3 6,3 6,1 6,1 6,1 6,1 6,3 6,2 6,3 6,1 2,0"/>
<path d="M272,791l6,0 6,2 6,2 6,2 6,2 6,2 6,2 6,0 6-1 6-1 6,0 6,1 6,2 6,2 6,2 6,0 6-1 6-1 6,0 6,0 6,2 6,1 6,2 6,0 6-1 6-2 6-1 6,0 6,2 6,3 6,3 6,3 6,3 6,3 6,4 6,2 6,1 6,0 6-1 6-1 6-2 6-1 6-2 6-2 6-2 6-2 6-2 6-3 6-1 6-2 6-1 6,0 6,0 6,2 6,3 6,7 6,10 6,10 6,8 6,5 6,2 6,1 6,1 6,2 6,2 6,3 6,3 6,4 6,4 6,4 6,5 6,5 6,4 6,2 6-1 6-2 6-2 6-2 6-4 6-8 6-15 6-26 6-19 6-16 6-16 6-18 6-15 6-13 6-11 6-9 6-11 6-10 6-11 6-12 6-15 6-17 6-18 6-16 6-12 6-6 6-3 6-3 6-5 6-9 6-17 6-25 6-30 6-32 6-21 6-16 6-11 6-6 6-3 6,4 6,6 6,8 6,10 6,11 6,12 6,17 6,29 6,44 6,40 6,40 6,27 6,22 6,19 6,18 6,17 6,16 6,15 6,13 6,12 6,10 6,6 6,5 6,5 6,5 6,5 6,3 6,4 6,2 6,4 6,3 6,4 6,3 6,3 6,1 6-2 6-5 6-5 6-5 6-5 6-4 6-5 6-4 6-3 6-1 6,0 6,1 6,1 6-2 6-2 6-4 6-3 6-1 6,1 6,1 6,0 6-1 6-1 6,1 6,2 6,3 6,3 6,3 6,2 6,2 6,1 6,2 6,3 6,3 6,3 6,1 6,2 6,3 6,2 6,2 6,0 6,0 6,1 6,2 6,3 6,2 6,2 6,1 6,1 6,0 6,1 6,0 6,2 6,1 6,1 6,1 6,1 6,1 6,3 6,4 6,3 6,4 6,2 6-1 6-1 6,0 6,1 6,5 6,7 6,8 6,7 6,7 6,8 6,8 6,9 6,8 6,8 6,6 6,4 6,3 6,2 6,1 6,0 6,0 6,0 6,0 6,0 6,0 6-1 6-1 6-1 6-3 6-3 6-5 6-4 6-3 6-2 6-1 6-1 6,1 6,2 6,4 6,4 6,2 6,0 6,0 6-1 6,0 6,2 6,2 6,2 6,1 6,1 6,2 6,2 6,3 6,1 6,0 6-1 6-3 6-5 6-4 6-4 6-5 6-5 6-7 6-6 6-7 6-7 6-5 6-5 6-3 6-2 2,0"/>
<path d="M272,803l6-1 6-3 6-3 6-2 6-1 6,0 6,2 6,2 6,2 6,3 6,2 6,3 6,2 6,1 6,0 6-1 6-2 6-2 6-2 6-2 6-2 6,1 6,1 6,1 6,0 6-2 6-3 6-1 6,0 6,1 6,1 6,1 6,0 6,0 6,0 6,0 6,0 6,0 6,1 6,1 6,2 6,2 6,2 6,2 6,2 6,1 6,1 6,3 6,3 6,3 6,4 6,2 6,2 6,2 6,3 6,6 6,8 6,10 6,8 6,7 6,6 6,5 6,5 6,3 6,2 6,0 6,0 6-1 6,0 6,3 6,10 6,13 6,14 6,11 6,6 6,5 6,3 6,2 6,0 6-3 6-10 6-19 6-20 6-20 6-20 6-20 6-18 6-18 6-14 6-9 6-6 6-4 6-1 6-2 6-3 6-4 6-4 6-3 6-2 6-2 6-1 6-1 6-2 6-3 6-9 6-13 6-14 6-14 6-16 6-18 6-18 6-16 6-16 6-16 6-17 6-9 6,1 6,6 6,8 6,13 6,27 6,38 6,29 6,27 6,21 6,19 6,14 6,9 6,10 6,9 6,8 6,5 6,2 6,1 6,1 6,1 6,0 6,1 6,1 6,1 6,0 6-1 6-1 6,0 6,1 6,3 6,3 6,3 6,2 6,1 6,1 6,0 6-1 6-1 6-2 6-4 6-4 6-3 6-1 6,2 6,4 6,5 6,3 6,2 6-2 6-2 6-3 6-1 6,0 6,2 6,2 6,3 6,4 6,5 6,8 6,8 6,7 6,7 6,7 6,7 6,6 6,7 6,6 6,7 6,5 6,4 6,4 6,4 6,2 6,1 6-1 6-1 6,0 6,0 6-1 6,0 6-1 6-1 6,1 6,2 6,2 6,3 6,3 6,2 6,2 6,2 6,1 6,1 6-1 6,0 6,0 6,0 6,0 6-1 6-1 6-1 6,0 6,0 6,2 6,1 6,1 6,1 6,2 6,2 6,2 6,3 6,3 6,4 6,4 6,3 6,1 6,0 6,0 6,0 6,1 6,1 6,0 6,0 6-1 6-1 6,0 6-1 6,0 6,1 6,0 6,0 6,0 6,0 6,1 6,1 6,2 6,1 6,0 6,0 6-1 6-2 6-3 6-2 6-2 6-2 6-1 6-2 6-2 6-2 6-3 6-4 6-3 6-3 6-4 6-4 6-5 6-6 6-6 6-5 6-5 6-4 6-2 6,0 6,0 6,1 6,0 2,0"/>
<path d="M272,791l6,1 6,1 6,1 6,1 6,0 6-1 6-2 6-2 6-4 6-2 6-2 6-1 6,1 6,0 6,1 6,0 6,0 6,0 6,0 6,1 6,1 6,1 6,1 6,1 6-1 6-1 6-1 6,0 6,1 6,2 6,3 6,3 6,5 6,5 6,4 6,3 6,1 6-1 6-2 6-3 6-3 6-2 6-1 6-1 6,0 6,0 6,0 6,1 6,3 6,6 6,6 6,5 6,3 6,2 6,1 6,6 6,11 6,14 6,14 6,12 6,9 6,6 6,5 6,5 6,4 6,3 6,3 6,3 6,2 6,2 6,6 6,8 6,7 6,2 6-2 6-4 6-4 6-4 6-3 6-5 6-9 6-17 6-14 6-11 6-10 6-9 6-8 6-10 6-8 6-4 6-3 6-3 6-1 6-2 6-1 6-1 6-1 6-4 6-6 6-10 6-12 6-13 6-13 6-15 6-18 6-20 6-17 6-16 6-13 6-12 6-10 6-5 6-3 6-4 6-9 6-3 6,7 6,10 6,11 6,16 6,29 6,36 6,24 6,21 6,19 6,17 6,14 6,11 6,12 6,12 6,10 6,5 6,1 6-2 6,1 6,4 6,4 6,5 6,4 6,3 6,3 6,3 6,1 6,0 6-1 6-1 6-2 6-1 6-1 6,0 6-1 6-3 6-3 6-5 6-5 6-4 6-2 6,1 6,2 6,4 6,5 6,5 6,3 6,2 6,1 6,0 6,0 6,0 6-2 6-2 6-4 6-5 6-6 6-4 6-2 6,1 6,1 6,3 6,2 6,2 6,3 6,3 6,4 6,4 6,2 6,2 6,0 6,1 6,0 6,1 6,0 6,1 6,3 6,5 6,6 6,7 6,6 6,5 6,5 6,5 6,5 6,5 6,5 6,4 6,3 6,3 6,2 6,2 6,2 6,1 6,2 6,1 6,0 6-1 6-2 6-3 6-5 6-6 6-5 6-4 6-3 6-3 6-2 6-2 6,0 6-1 6-1 6-2 6-2 6-1 6,0 6,1 6,1 6,2 6,1 6,1 6,0 6,2 6,1 6,1 6-1 6-2 6-3 6-6 6-8 6-11 6-13 6-13 6-13 6-11 6-9 6-7 6-6 6-5 6-4 6-4 6-2 6-1 6,1 6,2 6,1 6,2 6,3 6,3 6,3 6,2 6,0 6,0 6-2 6-1 6-1 6,0 6,0 6,0 6,0 6,0 6-1 6,0 6,0 6,0 6,0 2,0"/>
<path d="M272,782l6-1 6-1 6,0 6,1 6,1 6,2 6,1 6,1 6,0 6,0 6,0 6,0 6-1 6-1 6-3 6-1 6,0 6,0 6,0 6-1 6-1 6,0 6,2 6,3 6,2 6,1 6-1 6,0 6-1 6,0 6-1 6-1 6-1 6,0 6,0 6,2 6,2 6,1 6,0 6-2 6-1 6,0 6,1 6,0 6-1 6-1 6-1 6,0 6,1 6,0 6,0 6,0 6-1 6,0 6,1 6,5 6,9 6,11 6,10 6,7 6,5 6,3 6,2 6,3 6,4 6,6 6,9 6,10 6,10 6,11 6,13 6,13 6,11 6,8 6,5 6,4 6,3 6,2 6-2 6-7 6-17 6-28 6-27 6-24 6-22 6-21 6-17 6-14 6-9 6-4 6,0 6,2 6,3 6,3 6-1 6-2 6-4 6-3 6-3 6-5 6-6 6-8 6-9 6-12 6-18 6-23 6-23 6-24 6-22 6-23 6-20 6-15 6-10 6-5 6-4 6,2 6,7 6,10 6,9 6,13 6,25 6,36 6,30 6,30 6,20 6,14 6,8 6,4 6,7 6,7 6,9 6,8 6,7 6,6 6,3 6,0 6,0 6,0 6-2 6-1 6-2 6,0 6,0 6,0 6,0 6-1 6-1 6,0 6,1 6,2 6,1 6-1 6-1 6-3 6-2 6,0 6,2 6,4 6,6 6,7 6,7 6,8 6,7 6,5 6,3 6,1 6,1 6,2 6,2 6,3 6,2 6,2 6,4 6,5 6,6 6,6 6,6 6,7 6,7 6,7 6,7 6,7 6,4 6,2 6,0 6,0 6,1 6,2 6,4 6,4 6,5 6,5 6,6 6,7 6,7 6,6 6,4 6,4 6,2 6,2 6,1 6,1 6,0 6,1 6,2 6,2 6,2 6,2 6,0 6,0 6-1 6-1 6-2 6-3 6-4 6-5 6-5 6-4 6-3 6-3 6-2 6-2 6,0 6,1 6,2 6,4 6,3 6,3 6,2 6,2 6,1 6,1 6,1 6,1 6,0 6,0 6-1 6,0 6-1 6-1 6-1 6-1 6-2 6-4 6-3 6-4 6-2 6-1 6,1 6,1 6,0 6,1 6,1 6,3 6,4 6,4 6,3 6,2 6-1 6-3 6-3 6-4 6-3 6-3 6-4 6-5 6-4 6-3 6-2 6,0 6,0 6,0 6,1 6,0 6,2 6,1 6,2 6,1 6,1 6,2 6,2 2,0"/>
<path d="M272,802l6,1 6,0 6,0 6,0 6-1 6-1 6,1 6,1 6,0 6-1 6-3 6-3 6-1 6,1 6,3 6,3 6,2 6,1 6,1 6-1 6-1 6-2 6-3 6-3 6-1 6,0 6,0 6,1 6,0 6-1 6-1 6-1 6,1 6,2 6,2 6,1 6,1 6,0 6,0 6-1 6-1 6,0 6-2 6-2 6-4 6-4 6-3 6-2 6-1 6-1 6-1 6-2 6-3 6-2 6,1 6,5 6,7 6,8 6,6 6,4 6,2 6,3 6,4 6,5 6,6 6,9 6,9 6,7 6,4 6,1 6,2 6,3 6,4 6,3 6,1 6-1 6-1 6-3 6-3 6-8 6-20 6-38 6-22 6-9 6-8 6-7 6-5 6-4 6-4 6-3 6-5 6-4 6-4 6-4 6-4 6-4 6-5 6-4 6-4 6-3 6-5 6-5 6-7 6-9 6-15 6-19 6-22 6-26 6-24 6-25 6-23 6-19 6-17 6-12 6-11 6-8 6-4 6-1 6,1 6,5 6,19 6,37 6,41 6,45 6,31 6,25 6,23 6,24 6,24 6,23 6,21 6,18 6,15 6,11 6,7 6,5 6,5 6,6 6,4 6,3 6,1 6,0 6-1 6-1 6-2 6-4 6-6 6-7 6-7 6-6 6-7 6-7 6-8 6-7 6-7 6-4 6-1 6,0 6,2 6,2 6,2 6,1 6,2 6,1 6,0 6,0 6,0 6,0 6-1 6-1 6-3 6-2 6-3 6-3 6-1 6,0 6,2 6,4 6,4 6,5 6,4 6,4 6,4 6,6 6,4 6,4 6,3 6,3 6,3 6,2 6,2 6,1 6-1 6-1 6-1 6,1 6,2 6,3 6,3 6,4 6,5 6,4 6,3 6,2 6,2 6,2 6,3 6,2 6,2 6,0 6,0 6,0 6-1 6,0 6-1 6,0 6-1 6,0 6,0 6,3 6,5 6,5 6,5 6,4 6,4 6,3 6,2 6,0 6-1 6-3 6-3 6-2 6-2 6,0 6,2 6,3 6,4 6,5 6,6 6,6 6,8 6,8 6,9 6,9 6,8 6,6 6,4 6,5 6,4 6,6 6,5 6,6 6,5 6,4 6,4 6,4 6,4 6,5 6,5 6,6 6,4 6,4 6,2 6,2 6,2 6,3 6,2 6,2 6,1 6,0 6-1 6-1 6-2 6-2 6-2 6-2 6-1 6,0 6,2 6,1 6,2 2,1"/>
<path d="M272,773l6,0 6,0 6-1 6,0 6,0 6,1 6-1 6-1 6-1 6-1 6-1 6,0 6,1 6,1 6,2 6,3 6,2 6,1 6,0 6,1 6,2 6,1 6,1 6-1 6-1 6-1 6,0 6,2 6,1 6,0 6-1 6-1 6-1 6,0 6-1 6-1 6,0 6-1 6,0 6,0 6,0 6,2 6,1 6,2 6,2 6,3 6,2 6,3 6,3 6,4 6,3 6,3 6,3 6,3 6,3 6,5 6,7 6,8 6,8 6,5 6,3 6,2 6,2 6,2 6,2 6,2 6,4 6,4 6,4 6,4 6,8 6,10 6,12 6,11 6,9 6,8 6,8 6,5 6,3 6,1 6-4 6-11 6-13 6-16 6-17 6-18 6-18 6-17 6-13 6-8 6-7 6-7 6-7 6-9 6-9 6-10 6-9 6-9 6-8 6-8 6-9 6-10 6-10 6-11 6-16 6-19 6-19 6-18 6-14 6-13 6-11 6-8 6-6 6-6 6-6 6-1 6,10 6,15 6,16 6,22 6,33 6,42 6,29 6,24 6,18 6,15 6,11 6,7 6,8 6,9 6,10 6,8 6,5 6,2 6,3 6,4 6,5 6,6 6,6 6,6 6,4 6,4 6,3 6,3 6,2 6,0 6,0 6-1 6,0 6-1 6-1 6-2 6-3 6-5 6-6 6-6 6-5 6-2 6,0 6,1 6,2 6,0 6-1 6-3 6-4 6-4 6-5 6-4 6-4 6-4 6-5 6-4 6-4 6-4 6-2 6-2 6,0 6,1 6,5 6,5 6,5 6,4 6,3 6,3 6,2 6,2 6,3 6,2 6,3 6,2 6,3 6,3 6,4 6,4 6,3 6,2 6,3 6,2 6,3 6,2 6,1 6-2 6-3 6-4 6-3 6-2 6-1 6,0 6,1 6,1 6,0 6,0 6,1 6,3 6,4 6,3 6,3 6,1 6,0 6,1 6,3 6,4 6,5 6,5 6,6 6,4 6,5 6,4 6,3 6,2 6,1 6,0 6-2 6-3 6-4 6-5 6-5 6-6 6-6 6-6 6-5 6-4 6-4 6-4 6-5 6-7 6-7 6-7 6-6 6-5 6-4 6-4 6-4 6-4 6-3 6-2 6,2 6,3 6,3 6,3 6,1 6-1 6-1 6-1 6-2 6-3 6-4 6-5 6-4 6-3 6,0 6,1 6,2 6,3 6,3 6,2 6,1 6,1 6,0 6,0 6,1 2,0"/>
<path d="M272,814l6,0 6-1 6,1 6,1 6,0 6-1 6-3 6-4 6-4 6-3 6-3 6-1 6,0 6,2 6,1 6,1 6,0 6,0 6-2 6-1 6-1 6,1 6,2 6,1 6,1 6-2 6-2 6-1 6-2 6-1 6,0 6,1 6,3 6,3 6,5 6,3 6,3 6,1 6,0 6-1 6-1 6,1 6,1 6,1 6-1 6-2 6-3 6-2 6,0 6,1 6,0 6,0 6,0 6,0 6,1 6,4 6,6 6,8 6,10 6,9 6,7 6,5 6,4 6,3 6,3 6,3 6,4 6,6 6,7 6,8 6,10 6,12 6,12 6,10 6,5 6,3 6-1 6-4 6-6 6-7 6-11 6-21 6-18 6-16 6-16 6-15 6-14 6-12 6-9 6-5 6-3 6-2 6-1 6,0 6-1 6-1 6-1 6-1 6,1 6,0 6,0 6-2 6-4 6-6 6-10 6-12 6-9 6-10 6-10 6-11 6-10 6-8 6-6 6-8 6-14 6-5 6,9 6,15 6,18 6,25 6,40 6,45 6,27 6,21 6,20 6,22 6,14 6,5 6,4 6,5 6,5 6,2 6-7 6-10 6-7 6-2 6-2 6-3 6-1 6-1 6-1 6-1 6,0 6-1 6-1 6,0 6,0 6,1 6-1 6-2 6-2 6-2 6-1 6-1 6,1 6-1 6-1 6-2 6-1 6,0 6,1 6,1 6,1 6,0 6-2 6-1 6-1 6,0 6,1 6,2 6,1 6,0 6,0 6,0 6-1 6-3 6-2 6,0 6,2 6,3 6,5 6,3 6,2 6,2 6,2 6,3 6,4 6,4 6,4 6,5 6,6 6,8 6,7 6,6 6,4 6,2 6,0 6,0 6-1 6-2 6-3 6-3 6-1 6,1 6,0 6,1 6,1 6,0 6,2 6,1 6,1 6-2 6-3 6-4 6-4 6-3 6-1 6,0 6,0 6-1 6-2 6-3 6-2 6-1 6,1 6,2 6,2 6,1 6,1 6,0 6-2 6-3 6-5 6-6 6-5 6-5 6-4 6-3 6-4 6-3 6-2 6,0 6,1 6,2 6,0 6-1 6-2 6-1 6-1 6-1 6-3 6-4 6-5 6-6 6-5 6-5 6-6 6-6 6-5 6-4 6-1 6-1 6,0 6,0 6-2 6-3 6-4 6-4 6-4 6-4 6-2 6-1 6-1 6,0 6-1 6-2 6-2 6-2 6-2 6-1 6-1 2,0"/>
<path d="M272,793l6,0 6-1 6-1 6-2 6,0 6,2 6,4 6,5 6,5 6,4 6,3 6,1 6,0 6-2 6-1 6-1 6,1 6,2 6,3 6,1 6,1 6-2 6-2 6-4 6-3 6-1 6,0 6,0 6-1 6,0 6,0 6,1 6,1 6,2 6,3 6,4 6,3 6,4 6,3 6,2 6,0 6-1 6-1 6-1 6,0 6-1 6-2 6-2 6-2 6-2 6,0 6,0 6,1 6,2 6,1 6,4 6,7 6,8 6,9 6,9 6,7 6,7 6,6 6,4 6,5 6,4 6,5 6,5 6,4 6,4 6,5 6,7 6,8 6,9 6,7 6,7 6,5 6,2 6-2 6-5 6-11 6-20 6-20 6-20 6-20 6-18 6-16 6-14 6-13 6-11 6-9 6-7 6-5 6-5 6-7 6-9 6-12 6-12 6-12 6-12 6-10 6-11 6-11 6-13 6-21 6-26 6-27 6-28 6-23 6-22 6-22 6-21 6-19 6-12 6-8 6-2 6,3 6,6 6,10 6,16 6,30 6,47 6,48 6,45 6,32 6,28 6,24 6,23 6,23 6,21 6,17 6,13 6,8 6,4 6,2 6,0 6,1 6,0 6-1 6-2 6-3 6-5 6-4 6-5 6-4 6-4 6-4 6-4 6-4 6-4 6-2 6-1 6,1 6,2 6,3 6,4 6,5 6,7 6,7 6,6 6,4 6,3 6,2 6,3 6,2 6,5 6,6 6,8 6,8 6,7 6,5 6,5 6,4 6,6 6,6 6,5 6,4 6,2 6,1 6,0 6,2 6,2 6,2 6,2 6,0 6,0 6,0 6,0 6,1 6,3 6,3 6,4 6,5 6,6 6,6 6,7 6,7 6,4 6,2 6,0 6-2 6-3 6-4 6-4 6-4 6-4 6-3 6-2 6-2 6-1 6-3 6-3 6-3 6-1 6,1 6,4 6,4 6,3 6,1 6,0 6-1 6-1 6-3 6-5 6-6 6-7 6-4 6-1 6,2 6,2 6,2 6,1 6,0 6-1 6,1 6,0 6,0 6,0 6-1 6,0 6-2 6-1 6-2 6,1 6,2 6,3 6,3 6,1 6-3 6-6 6-7 6-9 6-7 6-7 6-7 6-6 6-7 6-7 6-7 6-7 6-4 6-1 6,1 6,3 6,2 6,0 6-1 6-3 6-3 6-3 6-3 6-5 6-5 6-6 6-7 6-7 6-5 6-3 6-2 6-1 6,0 2,0"/>
<path d="M272,767l6,0 6-1 6,0 6,0 6,2 6,2 6,2 6,2 6,1 6,1 6,0 6-1 6,0 6,1 6,1 6,2 6,1 6-1 6-1 6-3 6-3 6-2 6-3 6-1 6-1 6,0 6,1 6,2 6,3 6,2 6,1 6,1 6,1 6,0 6,0 6,0 6,1 6,0 6-1 6-3 6-4 6-2 6,1 6,4 6,7 6,7 6,6 6,4 6,4 6,4 6,4 6,3 6,2 6,1 6,1 6,4 6,8 6,9 6,9 6,7 6,4 6,2 6,1 6,0 6,0 6,3 6,4 6,5 6,3 6,3 6,6 6,8 6,8 6,6 6,1 6,0 6-3 6-4 6-5 6-9 6-16 6-27 6-21 6-16 6-15 6-14 6-11 6-8 6-6 6-4 6-4 6-5 6-5 6-6 6-8 6-9 6-8 6-6 6-3 6,0 6,1 6,1 6,1 6,0 6-7 6-11 6-12 6-14 6-15 6-16 6-18 6-17 6-18 6-18 6-19 6-13 6-5 6-2 6,2 6,12 6,30 6,49 6,48 6,47 6,39 6,35 6,29 6,22 6,19 6,15 6,10 6,4 6-4 6-8 6-8 6-5 6-4 6-2 6,2 6,4 6,4 6,3 6,2 6,1 6,3 6,2 6,1 6,1 6-1 6-1 6,0 6,0 6,1 6,0 6,0 6,0 6,0 6-1 6-2 6-1 6,0 6,1 6,3 6,3 6,2 6,2 6,2 6,0 6-2 6-3 6-4 6-3 6-3 6-4 6-4 6-4 6-3 6-1 6,1 6,2 6,3 6,5 6,6 6,7 6,5 6,5 6,5 6,5 6,7 6,8 6,7 6,4 6,2 6-1 6-2 6-3 6,0 6-1 6-1 6-2 6-2 6,0 6,1 6,1 6,1 6,0 6,0 6,0 6,1 6,2 6,2 6,1 6,1 6,0 6,0 6-1 6,0 6-1 6,0 6-1 6-2 6-4 6-3 6-2 6,0 6,1 6,1 6-1 6-4 6-6 6-7 6-6 6-3 6,0 6,1 6,2 6,2 6,1 6,0 6,1 6,3 6,4 6,4 6,3 6,0 6-2 6-4 6-5 6-5 6-4 6-5 6-6 6-6 6-6 6-5 6-4 6-2 6-1 6,0 6,0 6,1 6,1 6,2 6,3 6,3 6,4 6,7 6,8 6,9 6,10 6,8 6,7 6,4 6,2 6,2 6,1 6,3 6,3 6,2 6,2 6,1 2,0"/>
<path d="M272,812l6,0 6,0 6-1 6-1 6-2 6,0 6,1 6,1 6,1 6,1 6,1 6,2 6,1 6,1 6,1 6,0 6-2 6-1 6-1 6,0 6,0 6-1 6-3 6-4 6-4 6-2 6-2 6-1 6,0 6,0 6-1 6-2 6-3 6-5 6-5 6-5 6-3 6-3 6-4 6-5 6-5 6-5 6-5 6-3 6-3 6-2 6-3 6-2 6-2 6-1 6-1 6-1 6,0 6,1 6,3 6,7 6,10 6,11 6,10 6,9 6,6 6,6 6,5 6,5 6,3 6,5 6,6 6,5 6,4 6,1 6,1 6,0 6,1 6-1 6,0 6-1 6-2 6-3 6-5 6-10 6-28 6-52 6-27 6-8 6-9 6-11 6-8 6-3 6-1 6,1 6,2 6,4 6,6 6,7 6,7 6,4 6,4 6,3 6,5 6,7 6,7 6,7 6,4 6-1 6-11 6-18 6-19 6-20 6-14 6-13 6-11 6-10 6-8 6-5 6-2 6,5 6,15 6,19 6,20 6,27 6,39 6,46 6,36 6,30 6,22 6,18 6,11 6,3 6,2 6,1 6,2 6,2 6,3 6,1 6,1 6,0 6,0 6,1 6,2 6,1 6,1 6,1 6,0 6-1 6-2 6-2 6-2 6-1 6-1 6-2 6-4 6-4 6-5 6-6 6-5 6-5 6-5 6-3 6-2 6-2 6-1 6-1 6-1 6-2 6-2 6-1 6,2 6,5 6,6 6,4 6,2 6,0 6-1 6-1 6-3 6-4 6-6 6-6 6-7 6-7 6-8 6-7 6-6 6-4 6-3 6-2 6-1 6,1 6,1 6,2 6,2 6,2 6,2 6,2 6,3 6,2 6,2 6,0 6,0 6,0 6,0 6,3 6,5 6,7 6,7 6,7 6,6 6,5 6,3 6,3 6,2 6,1 6,0 6-1 6-2 6-3 6-3 6-3 6-1 6,1 6,1 6,2 6,3 6,5 6,5 6,4 6,4 6,3 6,4 6,6 6,7 6,5 6,5 6,4 6,5 6,5 6,6 6,5 6,3 6,2 6,2 6,2 6,2 6,1 6-2 6-3 6-5 6-7 6-8 6-9 6-9 6-8 6-8 6-8 6-9 6-9 6-8 6-7 6-7 6-5 6-5 6-3 6-4 6-5 6-5 6-3 6-2 6,0 6,0 6-2 6-2 6-4 6-4 6-4 6-5 6-6 6-6 6-5 6-3 6-2 6,1 2,0"/>
<path d="M272,826l6-2 6-3 6-2 6,0 6,1 6,2 6,2 6,1 6-3 6-3 6-4 6-1 6,0 6,1 6,0 6-1 6-1 6-3 6-1 6-1 6,1 6,1 6-1 6-1 6-2 6-2 6,0 6-1 6-1 6-1 6-2 6-2 6-1 6,0 6,2 6,3 6,4 6,3 6,3 6,1 6-1 6-2 6-3 6-3 6-2 6-2 6-2 6-2 6-3 6-4 6-4 6-4 6-4 6-2 6-1 6,0 6,3 6,5 6,5 6,3 6,0 6-1 6-1 6-1 6,2 6,6 6,9 6,9 6,8 6,4 6,4 6,3 6,1 6-1 6-2 6-4 6-5 6-7 6-8 6-12 6-23 6-36 6-22 6-12 6-11 6-12 6-8 6-2 6-1 6-1 6-2 6-2 6-3 6-2 6-5 6-8 6-9 6-9 6-9 6-5 6-4 6-4 6-6 6-11 6-21 6-31 6-39 6-42 6-32 6-26 6-18 6-12 6-5 6,6 6,11 6,12 6,16 6,20 6,23 6,28 6,41 6,54 6,48 6,43 6,30 6,23 6,17 6,15 6,16 6,17 6,15 6,13 6,9 6,8 6,5 6,4 6,3 6,3 6,2 6,2 6,1 6-2 6-3 6-4 6-5 6-5 6-4 6-4 6-4 6-5 6-5 6-6 6-6 6-7 6-7 6-7 6-6 6-3 6-1 6,3 6,6 6,9 6,10 6,10 6,9 6,8 6,5 6,4 6,3 6,2 6,0 6-1 6-1 6-1 6-2 6-2 6-1 6,0 6,3 6,4 6,5 6,5 6,4 6,2 6,0 6,0 6,0 6,1 6,0 6,1 6,2 6,1 6,0 6-1 6-3 6-3 6-3 6,0 6,1 6,2 6,3 6,2 6,4 6,5 6,5 6,5 6,2 6,0 6-2 6-3 6-3 6-4 6-4 6-3 6-4 6-2 6-2 6-2 6-2 6-2 6-2 6,0 6,2 6,4 6,4 6,5 6,4 6,3 6,2 6,2 6,2 6,1 6,0 6,1 6,1 6,1 6,1 6,0 6-1 6-4 6-5 6-5 6-5 6-4 6-4 6-2 6-3 6-3 6-5 6-6 6-4 6-3 6-1 6,1 6,0 6-2 6-2 6-2 6-1 6,1 6,4 6,4 6,4 6,3 6,2 6-2 6-3 6-5 6-6 6-7 6-7 6-7 6-7 6-7 6-8 6-6 6-5 6-3 6,0 6,2 6,1 2,0"/>
<path d="M272,810l6,0 6-2 6-3 6-3 6-2 6-1 6,0 6,0 6,2 6,2 6,3 6,1 6,0 6-1 6-1 6-1 6,0 6,1 6,0 6,0 6,0 6-1 6-1 6-1 6-3 6-4 6-4 6-2 6-2 6,0 6,1 6,1 6,0 6-1 6-1 6-2 6-2 6-2 6-2 6-1 6,1 6,0 6,2 6,0 6,0 6-1 6-1 6-2 6-2 6-1 6-2 6-1 6-3 6-4 6-4 6-2 6,1 6,3 6,4 6,5 6,4 6,4 6,4 6,2 6,4 6,6 6,9 6,11 6,9 6,7 6,5 6,4 6,1 6,0 6-2 6-3 6-4 6-5 6-6 6-11 6-21 6-33 6-21 6-11 6-9 6-11 6-7 6-5 6-2 6,0 6,1 6,1 6,0 6-3 6-6 6-9 6-8 6-5 6-2 6,1 6,2 6,1 6,0 6-1 6-5 6-8 6-11 6-14 6-13 6-14 6-11 6-6 6-5 6-5 6-9 6-6 6,1 6,5 6,5 6,11 6,25 6,40 6,36 6,35 6,30 6,28 6,25 6,19 6,18 6,14 6,9 6,4 6-2 6-4 6-4 6-3 6-4 6-4 6-4 6-5 6-6 6-6 6-6 6-4 6-4 6-5 6-5 6-6 6-6 6-4 6-3 6-4 6-7 6-7 6-7 6-4 6-1 6,1 6,1 6,1 6,2 6,2 6,2 6,1 6-1 6,0 6,0 6,1 6,1 6,2 6,1 6,3 6,3 6,5 6,5 6,5 6,4 6,5 6,5 6,6 6,5 6,4 6,2 6,1 6,0 6,1 6,0 6-1 6-1 6-1 6-1 6,0 6,0 6,0 6-1 6,0 6,0 6,0 6,0 6-1 6-1 6,1 6,1 6,2 6,2 6,1 6,2 6,2 6,2 6,3 6,1 6,0 6,0 6-1 6-1 6,1 6,1 6,3 6,3 6,4 6,3 6,5 6,6 6,6 6,6 6,4 6,3 6,3 6,2 6,2 6,2 6,1 6,0 6,0 6-1 6-2 6,0 6,0 6,0 6,0 6,1 6,1 6,2 6,4 6,5 6,6 6,7 6,8 6,8 6,6 6,4 6,4 6,3 6,3 6,1 6,1 6,0 6-1 6-1 6-3 6-4 6-5 6-5 6-4 6-4 6-4 6-5 6-3 6-3 6-3 6-4 6-2 6,0 6,3 6,5 6,5 6,6 6,4 6,4 6,2 6,1 2,0"/>
<path d="M272,795l6,0 6-2 6,0 6,1 6,2 6,2 6,2 6-1 6-2 6-2 6-1 6,0 6,0 6,0 6,0 6-2 6-2 6-2 6,0 6,1 6,1 6-1 6-1 6-2 6-2 6-1 6,0 6,1 6,0 6,1 6,0 6,1 6,2 6,3 6,4 6,2 6,1 6-2 6-4 6-5 6-3 6-2 6-1 6-1 6-2 6-2 6,0 6,1 6,3 6,3 6,0 6-3 6-4 6-5 6-4 6,0 6,4 6,7 6,6 6,5 6,3 6,3 6,3 6,3 6,5 6,7 6,10 6,11 6,10 6,8 6,7 6,8 6,6 6,5 6,2 6,1 6-1 6-4 6-8 6-14 6-25 6-41 6-32 6-23 6-21 6-20 6-15 6-9 6-6 6-5 6-4 6-3 6-3 6-4 6-8 6-12 6-13 6-10 6-7 6-2 6,0 6,1 6-1 6-5 6-17 6-24 6-30 6-31 6-24 6-22 6-22 6-21 6-19 6-12 6-5 6-3 6-2 6-1 6,1 6,8 6,22 6,42 6,49 6,50 6,31 6,23 6,20 6,24 6,27 6,26 6,24 6,20 6,21 6,18 6,12 6,5 6,3 6,2 6,0 6,1 6,1 6,2 6,2 6,1 6,1 6,0 6,1 6,1 6,2 6,0 6,0 6,0 6,1 6,2 6,2 6,1 6,2 6,2 6,1 6,2 6,1 6,1 6,0 6,0 6-1 6,0 6,0 6-1 6,1 6,2 6,5 6,5 6,6 6,5 6,4 6,3 6,3 6,2 6,3 6,3 6,2 6,2 6,3 6,3 6,5 6,6 6,6 6,5 6,3 6,4 6,3 6,3 6,4 6,4 6,5 6,6 6,5 6,4 6,1 6,1 6,1 6,2 6,3 6,2 6,2 6,0 6,1 6,1 6,1 6,0 6,1 6,0 6,0 6,0 6,0 6,1 6,0 6,0 6,0 6,0 6,1 6,1 6-1 6-2 6-3 6-2 6-2 6-2 6-1 6,0 6,1 6,2 6,3 6,4 6,4 6,3 6,3 6,1 6,0 6,0 6,2 6,3 6,3 6,3 6,2 6,2 6,2 6,1 6,1 6,1 6,0 6,0 6-1 6-4 6-4 6-3 6-3 6-1 6-2 6-3 6-2 6-3 6-2 6-4 6-4 6-5 6-5 6-6 6-7 6-7 6-7 6-6 6-2 6-3 6-2 6-3 6-4 6-3 6-2 6-1 6,1 2,0"/>
<path d="M272,832l6-1 6-2 6-3 6-5 6-4 6-3 6-1 6,1 6,1 6,1 6,2 6,2 6,2 6,0 6-1 6-3 6-3 6-3 6-2 6,0 6,1 6,1 6,1 6-1 6-2 6-2 6-2 6-1 6,1 6,0 6,0 6,1 6,2 6,3 6,3 6,3 6,1 6,1 6,1 6,1 6,1 6,2 6,0 6,0 6,0 6,1 6,3 6,5 6,6 6,5 6,3 6,1 6,0 6-1 6,0 6,6 6,11 6,12 6,13 6,11 6,8 6,9 6,7 6,4 6,1 6-2 6-2 6,0 6,3 6,6 6,13 6,16 6,15 6,10 6,5 6,3 6,2 6,1 6,0 6-3 6-6 6-15 6-19 6-22 6-23 6-21 6-20 6-17 6-13 6-7 6-6 6-6 6-8 6-8 6-9 6-10 6-10 6-10 6-9 6-7 6-8 6-9 6-10 6-10 6-14 6-16 6-15 6-14 6-11 6-11 6-10 6-9 6-7 6-6 6-9 6-3 6,6 6,10 6,11 6,15 6,28 6,37 6,25 6,23 6,20 6,19 6,16 6,13 6,12 6,10 6,10 6,7 6,3 6,2 6,2 6,3 6,3 6,3 6,2 6,2 6,3 6,2 6,0 6-1 6-3 6-4 6-3 6-3 6-3 6-3 6-5 6-5 6-6 6-4 6-3 6-2 6-2 6-2 6-1 6,2 6,4 6,4 6,5 6,4 6,4 6,4 6,4 6,3 6,3 6,1 6,1 6,1 6,0 6-1 6,0 6,1 6,2 6,3 6,3 6,3 6,2 6,1 6,0 6,2 6,2 6,3 6,4 6,4 6,3 6,3 6,3 6,3 6,4 6,3 6,3 6,4 6,4 6,4 6,5 6,4 6,3 6,2 6,2 6,1 6,1 6,2 6,1 6,1 6,1 6,0 6-1 6-2 6-2 6-2 6-1 6,0 6,1 6,1 6,2 6,2 6,2 6,3 6,2 6,2 6,1 6,1 6,1 6,2 6,3 6,5 6,5 6,4 6,3 6,0 6-3 6-4 6-3 6-4 6-3 6-3 6-2 6-3 6-2 6-3 6-2 6-2 6-3 6-4 6-3 6-4 6-5 6-7 6-9 6-9 6-9 6-8 6-8 6-7 6-6 6-5 6-6 6-6 6-5 6-5 6-4 6-3 6-4 6-3 6-4 6-4 6-5 6-5 6-6 6-3 6-3 6,0 6-2 6-2 6-3 6-4 6-2 2,0"/>
<path d="M272,819l6,0 6-1 6,0 6-1 6-2 6-1 6-1 6,0 6,0 6,2 6,1 6,1 6,0 6-1 6-3 6-2 6-1 6,0 6-1 6-1 6-2 6-3 6-1 6-1 6,0 6,1 6,0 6-1 6-1 6-2 6-2 6-2 6,0 6,0 6,0 6,2 6,1 6,1 6,1 6,1 6,1 6,0 6,0 6-1 6,0 6-1 6-1 6-1 6,0 6,0 6,0 6-1 6-1 6-2 6-2 6,2 6,7 6,9 6,10 6,9 6,7 6,8 6,7 6,6 6,5 6,4 6,3 6,2 6,2 6,2 6,5 6,7 6,6 6,3 6,0 6-2 6-3 6-5 6-7 6-11 6-17 6-27 6-18 6-12 6-11 6-11 6-8 6-7 6-5 6-3 6-2 6-4 6-4 6-8 6-12 6-16 6-19 6-18 6-16 6-11 6-7 6-5 6-3 6-3 6-11 6-16 6-20 6-21 6-14 6-13 6-11 6-9 6-10 6-9 6-10 6-8 6-5 6-5 6-4 6-1 6,12 6,30 6,34 6,39 6,25 6,18 6,16 6,17 6,19 6,21 6,19 6,17 6,17 6,16 6,9 6,3 6,1 6,0 6,1 6,1 6,3 6,3 6,3 6,1 6,1 6,1 6,3 6,3 6,3 6,2 6,0 6-1 6-1 6,0 6,0 6,1 6,1 6,2 6,2 6,3 6,6 6,7 6,7 6,6 6,3 6,2 6,2 6,1 6,2 6,2 6-1 6-1 6-3 6-1 6,0 6,2 6,2 6,3 6,3 6,5 6,5 6,4 6,4 6,1 6,0 6-2 6-2 6-3 6-2 6-3 6-2 6-2 6-2 6-2 6-3 6-3 6-2 6-1 6,0 6,1 6,2 6,1 6,3 6,4 6,6 6,7 6,6 6,5 6,5 6,5 6,4 6,4 6,4 6,4 6,2 6,1 6,0 6-1 6,0 6,0 6-1 6-1 6-2 6-1 6-2 6-1 6-1 6-1 6,1 6,3 6,5 6,4 6,3 6,1 6,1 6,2 6,2 6,3 6,2 6,1 6,1 6,2 6,4 6,4 6,4 6,4 6,3 6,4 6,5 6,5 6,6 6,5 6,2 6,1 6-1 6-2 6-3 6-1 6-2 6-1 6-1 6-1 6-1 6-1 6,0 6-2 6-2 6-4 6-4 6-3 6-1 6-1 6,1 6,1 6,3 6,2 6,2 6,0 6,0 6-1 6-1 2,0"/>
<path d="M272,822l6-2 6-2 6-1 6,1 6,0 6,1 6-1 6,0 6,1 6,2 6,2 6,2 6,1 6,1 6,1 6,0 6-1 6-2 6,0 6,0 6-1 6-2 6-2 6-2 6-2 6-3 6-3 6-4 6-3 6-3 6-1 6,0 6,0 6-1 6-1 6-2 6-4 6-3 6-3 6-2 6,1 6,2 6,2 6,0 6,0 6-1 6-1 6,0 6,1 6,2 6,2 6,3 6,1 6,0 6-1 6,1 6,5 6,7 6,8 6,8 6,7 6,6 6,5 6,4 6,6 6,6 6,7 6,7 6,7 6,8 6,10 6,12 6,10 6,6 6,2 6-1 6-4 6-5 6-8 6-10 6-19 6-31 6-26 6-22 6-20 6-20 6-16 6-14 6-13 6-11 6-9 6-8 6-7 6-8 6-12 6-15 6-16 6-15 6-13 6-9 6-8 6-9 6-10 6-11 6-20 6-25 6-31 6-33 6-21 6-16 6-12 6-8 6-5 6,3 6,6 6,8 6,9 6,10 6,11 6,15 6,29 6,46 6,46 6,43 6,28 6,18 6,13 6,13 6,15 6,16 6,15 6,11 6,11 6,9 6,6 6,4 6,5 6,6 6,7 6,7 6,6 6,4 6,3 6,3 6,3 6,2 6,1 6,1 6,1 6,1 6,1 6,1 6,1 6-1 6-1 6,1 6,1 6,4 6,4 6,5 6,4 6,3 6,2 6,2 6,2 6,3 6,2 6,1 6,1 6,1 6,3 6,1 6,0 6-1 6,1 6,4 6,5 6,6 6,5 6,3 6,1 6,0 6-1 6-2 6-2 6-3 6-2 6-1 6-1 6,0 6,0 6,0 6,0 6,2 6,5 6,6 6,6 6,5 6,4 6,5 6,4 6,5 6,4 6,3 6,3 6,1 6,0 6-2 6-4 6-3 6-3 6,0 6,2 6,1 6,0 6,0 6-1 6,1 6,2 6,2 6,2 6,3 6,3 6,3 6,3 6,2 6,2 6,2 6,1 6,1 6,1 6,0 6-2 6-3 6-3 6-2 6-2 6,0 6-1 6,0 6,0 6,0 6,2 6,1 6-1 6-2 6-4 6-4 6-4 6-4 6-4 6-3 6-2 6-1 6,1 6,4 6,6 6,8 6,8 6,7 6,5 6,4 6,4 6,3 6,3 6,1 6,0 6,0 6,1 6,1 6,3 6,3 6,3 6,2 6,1 6,0 6,0 6,0 6-1 6-1 6,0 2,0"/>
<path d="M272,761l6,2 6,2 6,4 6,3 6,3 6,1 6-2 6-2 6-2 6,0 6,0 6,3 6,3 6,3 6-1 6-1 6-2 6-1 6,0 6-1 6-1 6-1 6,0 6,0 6,0 6,1 6,1 6,2 6,2 6,1 6,0 6,1 6,0 6,1 6,3 6,3 6,2 6,2 6,1 6,1 6,0 6-1 6-2 6-4 6-3 6-2 6,1 6,3 6,6 6,7 6,7 6,4 6,2 6,0 6,2 6,6 6,13 6,16 6,16 6,13 6,9 6,7 6,5 6,4 6,4 6,2 6,2 6,1 6,2 6,3 6,7 6,7 6,6 6,3 6-1 6-2 6-3 6-5 6-9 6-14 6-20 6-31 6-26 6-22 6-23 6-23 6-20 6-16 6-12 6-10 6-10 6-8 6-7 6-7 6-11 6-15 6-17 6-16 6-14 6-7 6-3 6-1 6-1 6-5 6-14 6-22 6-28 6-30 6-22 6-20 6-17 6-16 6-13 6-7 6-2 6,0 6,0 6,2 6,3 6,7 6,20 6,39 6,43 6,45 6,27 6,19 6,17 6,19 6,20 6,21 6,18 6,17 6,19 6,17 6,11 6,3 6,2 6,1 6,1 6,1 6,2 6,4 6,2 6,0 6-2 6-2 6-2 6,0 6,1 6,0 6-1 6-3 6-5 6-5 6-6 6-5 6-2 6,0 6,2 6,4 6,5 6,3 6,2 6,1 6,0 6-1 6,0 6,2 6,5 6,6 6,6 6,7 6,6 6,6 6,8 6,8 6,11 6,11 6,11 6,10 6,8 6,6 6,4 6,1 6,0 6,1 6,1 6,1 6,0 6,0 6,0 6,1 6,2 6,2 6,3 6,3 6,2 6,3 6,2 6,2 6,1 6,1 6,1 6,0 6,1 6-1 6-1 6-3 6-5 6-5 6-5 6-4 6-4 6-4 6-3 6-2 6,0 6,2 6,3 6,2 6,2 6,1 6,0 6-1 6-1 6-1 6-2 6-3 6-4 6-2 6-1 6-1 6,0 6-1 6-2 6-1 6,0 6-1 6,0 6-1 6,0 6-1 6,1 6,0 6,1 6-1 6-2 6-4 6-5 6-5 6-4 6-3 6-1 6,1 6,4 6,5 6,7 6,6 6,7 6,6 6,5 6,4 6,3 6,2 6,1 6,1 6,1 6,0 6,1 6,0 6-1 6-4 6-5 6-6 6-6 6-3 6-2 6-2 6,0 6,0 6,1 2,0"/>
<path d="M272,814l6-1 6,0 6-2 6-3 6-3 6-2 6-1 6,0 6,0 6-1 6-1 6-2 6-3 6-4 6-5 6-5 6-2 6-2 6,0 6-2 6-1 6-1 6,1 6,2 6,0 6-1 6-3 6-3 6-2 6-1 6,1 6,0 6,0 6-1 6-1 6-2 6-2 6-1 6,0 6,1 6,2 6,2 6,0 6,0 6-1 6-1 6,1 6,1 6,1 6-1 6-1 6-1 6-2 6-2 6-1 6,1 6,3 6,6 6,7 6,7 6,5 6,5 6,4 6,5 6,6 6,8 6,8 6,8 6,7 6,5 6,8 6,8 6,6 6,4 6,0 6-3 6-5 6-6 6-7 6-11 6-20 6-34 6-26 6-18 6-18 6-18 6-14 6-10 6-8 6-7 6-6 6-4 6-4 6-4 6-11 6-15 6-18 6-17 6-12 6-6 6-3 6-2 6-2 6-5 6-13 6-21 6-29 6-30 6-22 6-18 6-15 6-12 6-12 6-5 6-3 6-2 6-3 6-1 6,2 6,8 6,24 6,44 6,50 6,50 6,31 6,22 6,19 6,21 6,23 6,22 6,20 6,17 6,17 6,14 6,10 6,5 6,5 6,4 6,2 6,2 6,0 6,0 6,1 6,2 6,3 6,4 6,2 6,1 6,0 6-2 6-3 6-3 6-3 6-1 6-1 6,1 6,1 6,3 6,5 6,5 6,7 6,6 6,5 6,4 6,3 6,3 6,5 6,4 6,4 6,3 6,3 6,2 6,2 6,0 6,0 6-1 6,0 6,0 6,1 6,2 6,3 6,5 6,5 6,4 6,2 6,1 6,0 6,0 6,2 6,3 6,5 6,4 6,5 6,4 6,2 6,1 6,1 6,0 6,2 6,3 6,3 6,3 6,2 6,1 6,0 6,1 6,2 6,2 6,3 6,3 6,2 6,1 6,0 6,0 6,2 6,3 6,4 6,4 6,1 6-1 6-2 6-1 6,0 6,1 6,2 6,1 6,2 6,1 6,1 6,0 6-1 6-3 6-4 6-4 6-3 6-4 6-4 6-5 6-6 6-6 6-5 6-6 6-4 6-4 6-3 6-2 6-2 6-2 6-3 6-2 6-2 6-2 6-1 6-1 6-1 6,0 6,1 6,1 6,1 6,1 6-1 6-2 6-1 6-2 6-2 6-3 6-4 6-5 6-4 6-4 6-2 6-4 6-5 6-5 6-5 6-3 6-3 6-1 6-1 6-1 6-1 2,0"/>
<path d="M272,738l6,0 6-1 6-2 6-1 6-1 6-1 6,0 6-1 6-1 6-1 6-1 6,0 6,2 6,4 6,5 6,6 6,5 6,5 6,6 6,4 6,3 6,1 6,0 6,1 6,2 6,2 6,2 6,2 6,1 6-1 6-1 6-3 6-4 6-4 6-3 6-2 6,0 6,0 6-1 6,0 6,0 6,1 6,1 6,2 6,3 6,2 6,4 6,4 6,5 6,5 6,5 6,4 6,3 6,2 6,1 6,4 6,6 6,9 6,9 6,8 6,6 6,5 6,4 6,3 6,2 6,3 6,3 6,4 6,4 6,5 6,8 6,9 6,7 6,4 6,0 6-3 6-4 6-6 6-8 6-11 6-20 6-35 6-25 6-18 6-18 6-19 6-14 6-9 6-5 6-2 6-1 6,0 6,1 6,1 6,0 6-3 6-4 6-5 6-4 6-3 6-3 6-4 6-5 6-6 6-13 6-17 6-23 6-25 6-22 6-20 6-16 6-10 6-6 6-1 6-2 6,2 6,7 6,9 6,11 6,16 6,28 6,42 6,34 6,33 6,26 6,24 6,21 6,18 6,16 6,14 6,10 6,7 6,5 6,6 6,8 6,9 6,8 6,7 6,4 6,2 6,2 6,2 6,2 6,0 6-2 6-3 6-3 6-3 6-1 6,0 6,1 6-1 6-1 6-1 6,1 6,0 6,0 6,2 6,3 6,5 6,7 6,9 6,8 6,9 6,7 6,6 6,5 6,4 6,5 6,5 6,7 6,6 6,5 6,4 6,2 6,1 6,0 6,0 6,0 6,0 6,0 6-2 6-4 6-4 6-4 6-6 6-6 6-6 6-5 6-3 6-1 6,2 6,2 6,2 6,0 6-2 6-4 6-5 6-6 6-5 6-6 6-5 6-6 6-5 6-4 6-1 6,0 6,0 6-1 6,0 6,1 6,1 6,3 6,5 6,6 6,8 6,8 6,9 6,7 6,6 6,4 6,2 6,2 6,3 6,3 6,2 6,2 6-1 6-4 6-5 6-5 6-4 6-3 6-4 6-4 6-4 6-3 6,0 6,2 6,3 6,4 6,4 6,5 6,6 6,6 6,5 6,5 6,3 6,1 6-1 6-4 6-5 6-5 6-6 6-6 6-5 6-3 6-2 6-1 6-1 6,0 6,0 6-1 6,0 6,1 6,1 6,2 6,3 6,2 6,4 6,5 6,5 6,7 6,6 6,6 6,7 6,8 6,7 6,5 6,3 6,2 2,0"/>
<path d="M272,775l6,2 6,2 6,3 6,3 6,2 6,2 6,3 6,3 6,3 6,1 6,0 6-2 6-3 6-1 6-1 6,0 6,1 6-1 6-1 6-1 6-2 6-2 6-1 6-1 6-1 6-2 6-2 6-1 6-1 6,1 6,0 6,1 6,0 6,2 6,2 6,3 6,3 6,0 6,0 6-1 6-1 6,0 6-1 6,0 6,0 6,1 6-1 6-1 6-2 6,0 6,2 6,2 6,1 6,0 6-1 6,1 6,5 6,7 6,8 6,8 6,7 6,6 6,6 6,5 6,5 6,6 6,8 6,8 6,7 6,4 6,5 6,2 6,1 6,0 6-1 6-3 6-4 6-7 6-10 6-13 6-22 6-33 6-23 6-15 6-14 6-12 6-9 6-5 6-3 6-1 6-1 6-1 6,0 6-2 6-4 6-7 6-7 6-6 6-3 6,0 6-2 6-4 6-7 6-11 6-16 6-20 6-22 6-22 6-18 6-16 6-13 6-10 6-10 6-8 6-9 6-6 6,1 6,5 6,7 6,12 6,26 6,41 6,38 6,38 6,29 6,27 6,26 6,25 6,25 6,22 6,18 6,14 6,8 6,3 6,1 6,0 6,1 6,2 6,3 6,4 6,2 6,1 6-2 6-2 6-1 6-1 6-1 6-1 6-2 6-2 6-1 6-1 6-1 6-1 6-1 6,2 6,3 6,5 6,3 6,2 6,1 6,1 6,1 6,2 6,1 6,1 6,1 6,0 6,0 6,0 6,3 6,5 6,7 6,6 6,5 6,5 6,2 6,2 6,4 6,5 6,7 6,7 6,5 6,3 6,2 6,2 6,2 6,1 6,2 6,3 6,5 6,6 6,6 6,5 6,3 6,2 6,1 6,0 6,0 6,0 6,2 6,3 6,3 6,1 6-2 6-2 6-3 6-3 6-1 6,0 6,1 6,1 6,0 6-2 6-4 6-4 6-3 6-3 6-3 6-4 6-5 6-3 6-1 6-1 6,0 6,0 6,1 6,0 6-2 6-3 6-4 6-4 6-4 6-3 6-3 6-1 6,0 6,1 6,1 6,2 6,3 6,5 6,7 6,7 6,8 6,6 6,5 6,3 6,2 6,1 6,1 6,0 6,0 6-2 6-1 6-1 6,0 6,1 6,0 6-1 6-2 6-4 6-3 6-2 6,1 6,1 6,1 6,1 6,1 6,1 6,2 6,2 6,2 6,1 6,2 6,3 6,2 6,1 6,1 6-1 6,0 2,0"/>
<path d="M272,819l6-1 6-2 6-2 6-1 6-1 6-2 6-3 6-2 6,0 6,1 6,2 6,1 6-1 6,0 6,1 6,2 6,2 6,2 6,0 6,0 6-1 6-2 6-4 6-5 6-5 6-3 6-2 6,0 6,1 6,3 6,4 6,4 6,2 6-1 6-3 6-3 6-2 6-1 6,1 6,0 6,0 6,0 6-1 6,1 6,0 6,1 6-1 6-2 6-2 6-3 6-3 6-4 6-5 6-5 6-3 6,1 6,4 6,6 6,7 6,6 6,4 6,3 6,2 6,3 6,4 6,7 6,7 6,6 6,4 6,3 6,5 6,6 6,5 6,3 6,0 6-4 6-5 6-6 6-10 6-16 6-27 6-41 6-28 6-16 6-14 6-15 6-12 6-7 6-5 6-3 6-2 6-3 6-5 6-7 6-12 6-16 6-16 6-12 6-7 6-1 6,3 6,2 6,1 6-2 6-12 6-21 6-27 6-30 6-21 6-19 6-17 6-16 6-15 6-7 6-1 6,2 6,9 6,14 6,18 6,25 6,38 6,53 6,50 6,46 6,34 6,28 6,26 6,23 6,22 6,18 6,13 6,10 6,5 6,4 6,2 6,0 6,2 6,1 6,3 6,2 6,4 6,6 6,5 6,5 6,4 6,3 6,3 6,4 6,3 6,2 6-2 6-4 6-5 6-4 6-2 6-2 6-4 6-5 6-6 6-6 6-7 6-6 6-6 6-6 6-7 6-6 6-3 6-1 6,1 6,2 6,3 6,4 6,5 6,5 6,7 6,6 6,7 6,7 6,7 6,8 6,7 6,6 6,6 6,5 6,4 6,5 6,4 6,5 6,2 6,1 6-2 6-3 6-4 6-2 6-1 6,1 6,2 6,1 6,1 6,1 6,2 6,3 6,5 6,4 6,4 6,2 6,2 6,1 6,1 6,2 6,3 6,3 6,1 6-3 6-6 6-8 6-7 6-6 6-5 6-6 6-5 6-5 6-4 6-2 6-2 6-1 6-2 6-1 6,0 6,2 6,4 6,5 6,5 6,4 6,3 6,2 6,1 6,1 6,2 6,3 6,3 6,1 6,0 6-1 6-2 6-3 6-4 6-6 6-7 6-8 6-8 6-8 6-7 6-6 6-5 6-4 6-4 6-4 6-5 6-4 6-2 6-1 6,0 6,0 6-1 6-1 6-2 6-2 6-3 6-3 6-3 6-2 6,1 6,2 6,3 6,3 6,4 6,6 6,6 6,5 6,4 2,0"/>
<path d="M272,826l6,0 6,0 6,0 6-1 6-2 6-3 6-2 6-2 6-2 6-1 6-1 6-1 6-2 6-2 6-1 6-2 6-1 6-1 6,1 6,1 6,2 6,2 6,1 6,1 6-1 6-1 6-3 6-3 6-2 6,0 6,0 6,2 6,1 6,2 6,2 6,2 6,3 6,2 6,3 6,2 6,1 6,1 6,1 6,1 6,1 6,2 6,2 6,2 6,1 6,0 6-2 6-2 6-2 6-1 6,0 6,5 6,7 6,8 6,8 6,5 6,4 6,5 6,5 6,5 6,4 6,5 6,5 6,4 6,2 6,2 6,5 6,8 6,8 6,5 6,1 6-1 6-4 6-6 6-10 6-15 6-26 6-39 6-31 6-22 6-20 6-19 6-14 6-10 6-7 6-6 6-6 6-7 6-7 6-8 6-13 6-15 6-15 6-14 6-11 6-7 6-5 6-4 6-4 6-7 6-16 6-25 6-34 6-36 6-23 6-18 6-12 6-9 6-6 6,1 6,6 6,11 6,17 6,22 6,25 6,32 6,48 6,63 6,55 6,50 6,38 6,32 6,25 6,17 6,15 6,14 6,11 6,9 6,7 6,4 6,4 6,2 6,2 6,3 6,3 6,4 6,4 6,5 6,4 6,4 6,3 6,2 6,1 6,1 6,0 6-2 6-4 6-4 6-3 6-2 6-1 6-1 6-1 6-1 6,1 6,3 6,3 6,5 6,5 6,6 6,4 6,4 6,3 6,3 6,4 6,4 6,5 6,3 6,1 6-2 6-4 6-5 6-5 6-4 6-3 6-4 6-5 6-4 6-5 6-5 6-5 6-6 6-6 6-5 6-4 6-3 6-4 6-6 6-6 6-6 6-6 6-5 6-4 6-5 6-7 6-7 6-6 6-4 6-2 6-1 6,0 6,0 6,1 6,2 6,2 6,2 6,3 6,4 6,4 6,7 6,7 6,9 6,8 6,8 6,6 6,6 6,6 6,7 6,6 6,7 6,6 6,5 6,6 6,6 6,6 6,6 6,5 6,6 6,6 6,5 6,4 6,2 6,2 6,2 6,4 6,4 6,4 6,3 6,2 6,2 6,2 6,0 6,0 6-2 6-1 6,0 6,2 6,3 6,2 6,2 6,0 6,1 6,1 6,2 6,3 6,2 6,1 6,1 6,0 6,2 6,2 6,2 6,2 6,1 6,0 6-1 6-1 6,1 6,3 6,4 6,5 6,3 6,2 6,0 6-1 6,0 6,1 2,1"/>
<path d="M272,824l6-1 6,0 6-1 6-1 6-2 6-2 6-2 6-3 6-2 6,0 6,1 6,2 6,1 6-1 6-3 6-4 6-2 6-2 6-1 6-1 6-1 6-2 6,0 6,0 6,0 6,1 6,1 6,0 6-1 6,0 6,2 6,2 6,3 6,2 6,2 6,0 6,0 6,0 6-1 6-1 6-1 6-1 6,0 6-1 6,0 6-1 6-2 6-1 6,0 6,1 6,2 6,2 6,2 6,3 6,4 6,7 6,10 6,11 6,11 6,11 6,8 6,8 6,7 6,5 6,4 6,3 6,2 6,2 6,4 6,6 6,11 6,13 6,11 6,6 6,1 6,1 6-1 6-2 6-4 6-7 6-12 6-23 6-21 6-19 6-18 6-16 6-16 6-14 6-11 6-7 6-7 6-7 6-6 6-7 6-9 6-9 6-9 6-10 6-10 6-9 6-7 6-4 6-3 6-1 6-7 6-12 6-15 6-18 6-17 6-18 6-17 6-14 6-14 6-13 6-15 6-8 6,0 6,3 6,5 6,9 6,21 6,34 6,31 6,32 6,22 6,17 6,14 6,13 6,15 6,15 6,15 6,11 6,10 6,8 6,4 6,1 6,1 6-1 6-1 6-2 6-2 6-1 6-2 6-2 6-2 6-2 6-2 6-1 6-1 6,0 6-1 6-2 6-2 6-3 6-2 6-1 6,2 6,3 6,5 6,5 6,5 6,5 6,3 6,3 6,0 6-1 6-1 6-1 6-1 6-1 6-1 6-1 6-2 6-1 6-1 6,0 6,3 6,4 6,6 6,8 6,6 6,5 6,1 6-1 6-1 6-2 6-1 6-1 6,1 6,2 6,3 6,4 6,3 6,4 6,3 6,4 6,6 6,7 6,7 6,7 6,7 6,5 6,5 6,4 6,3 6,3 6,3 6,3 6,3 6,3 6,4 6,4 6,3 6,3 6,2 6,2 6,0 6,1 6,1 6,1 6,1 6,0 6-2 6-3 6-3 6-2 6-2 6-1 6-2 6-1 6-1 6-1 6-1 6-4 6-4 6-6 6-4 6-3 6-2 6-2 6-3 6-5 6-5 6-5 6-6 6-5 6-5 6-6 6-6 6-6 6-6 6-5 6-5 6-4 6-3 6-1 6,1 6,2 6,4 6,2 6,1 6-2 6-2 6-1 6,0 6,0 6,1 6,1 6,0 6-1 6-2 6-2 6-2 6-5 6-6 6-7 6-7 6-5 6-3 6-1 6-1 2,0"/>
<path d="M272,787l6,1 6,0 6,0 6,0 6-1 6-1 6-2 6-2 6-2 6-2 6-1 6-2 6-1 6-1 6-1 6-1 6,0 6,1 6,1 6,1 6,2 6,1 6-1 6-1 6-3 6-3 6-2 6,0 6,3 6,4 6,3 6,2 6,1 6-1 6-1 6-1 6-1 6,1 6,0 6,0 6,1 6,1 6,1 6-1 6-1 6-2 6,0 6,2 6,3 6,3 6,1 6,1 6,0 6,1 6,2 6,4 6,6 6,7 6,5 6,4 6,3 6,3 6,4 6,4 6,5 6,6 6,5 6,7 6,6 6,7 6,10 6,10 6,10 6,8 6,7 6,6 6,4 6,1 6-1 6-5 6-10 6-20 6-17 6-15 6-15 6-13 6-12 6-13 6-11 6-7 6-6 6-4 6-3 6-3 6-4 6-5 6-4 6-4 6-5 6-4 6-4 6-4 6-3 6-3 6-6 6-10 6-9 6-9 6-8 6-10 6-8 6-7 6-6 6-10 6-15 6-8 6,6 6,11 6,12 6,18 6,31 6,40 6,27 6,24 6,21 6,20 6,15 6,10 6,11 6,11 6,10 6,5 6-1 6-3 6-1 6,3 6,3 6,4 6,4 6,3 6,2 6,2 6,2 6,2 6,1 6,1 6-2 6-2 6-5 6-6 6-8 6-8 6-8 6-8 6-8 6-7 6-6 6-4 6,0 6,4 6,5 6,4 6,3 6,0 6-1 6-2 6,0 6,0 6,1 6,1 6,0 6,0 6,0 6,0 6,3 6,4 6,4 6,3 6,2 6,2 6,2 6,4 6,3 6,2 6,1 6,0 6-1 6-1 6,1 6,2 6,3 6,3 6,2 6,1 6,1 6,2 6,2 6,3 6,2 6,1 6,2 6,1 6,1 6-1 6-1 6-2 6-2 6-3 6-2 6-1 6,0 6,1 6,1 6-1 6-1 6-2 6-2 6,0 6,2 6,4 6,6 6,6 6,7 6,6 6,4 6,3 6,1 6,1 6,0 6,0 6-1 6-2 6-2 6-2 6-2 6-2 6-1 6-1 6-1 6,0 6,1 6,1 6,2 6,1 6,0 6-3 6-2 6-3 6-3 6-2 6-3 6-2 6-2 6-2 6-1 6,0 6,0 6,1 6,0 6-2 6-3 6-4 6-5 6-7 6-7 6-9 6-8 6-8 6-9 6-9 6-10 6-10 6-8 6-7 6-7 6-6 6-5 6-4 6-2 6-2 6-1 2,0"/>
<path d="M272,792l6,1 6,2 6,2 6,0 6-2 6-2 6-4 6-3 6-3 6-1 6,1 6,1 6,1 6,0 6,0 6,0 6-1 6-1 6-1 6,0 6-1 6-1 6-1 6-2 6-1 6,0 6,2 6,4 6,4 6,4 6,1 6-1 6-2 6-3 6-1 6-1 6,0 6,2 6,3 6,2 6,1 6,1 6-1 6-1 6-1 6-2 6-3 6-5 6-4 6-3 6-1 6,2 6,3 6,4 6,3 6,7 6,9 6,11 6,11 6,9 6,5 6,5 6,3 6,3 6,1 6,2 6,1 6,1 6,1 6,2 6,4 6,6 6,4 6,3 6,0 6-1 6-3 6-4 6-6 6-9 6-15 6-26 6-16 6-9 6-9 6-10 6-6 6-4 6-2 6,1 6,2 6,1 6,0 6-3 6-6 6-7 6-7 6-5 6-5 6-3 6-3 6-2 6-1 6-3 6-8 6-11 6-11 6-9 6-7 6-9 6-9 6-8 6-9 6-9 6-13 6-3 6,9 6,16 6,17 6,22 6,34 6,43 6,28 6,26 6,22 6,20 6,14 6,8 6,7 6,7 6,6 6,2 6-2 6-5 6-2 6,2 6,4 6,4 6,5 6,5 6,4 6,2 6,2 6,1 6,2 6,1 6,1 6,0 6,0 6-3 6-4 6-4 6-4 6-2 6-2 6,0 6,0 6,0 6-1 6,0 6,0 6,1 6,1 6-1 6-4 6-5 6-5 6-5 6-3 6-2 6-2 6,0 6,1 6,1 6,1 6,2 6,1 6,2 6,3 6,2 6,3 6,4 6,3 6,2 6,1 6,1 6,1 6,2 6,1 6,0 6,0 6,0 6-1 6-2 6-1 6-3 6-3 6-4 6-4 6-4 6-4 6-4 6-3 6-2 6-1 6,2 6,4 6,4 6,4 6,3 6,1 6-1 6-1 6-1 6,0 6,1 6,1 6,1 6,1 6,1 6,1 6,0 6-1 6-3 6-5 6-8 6-7 6-6 6-4 6-2 6,0 6,0 6-2 6-2 6-2 6-3 6-3 6-3 6-2 6-1 6,2 6,3 6,4 6,3 6,4 6,3 6,4 6,3 6,2 6,0 6,1 6,3 6,5 6,5 6,6 6,4 6,4 6,2 6,0 6-1 6-2 6-1 6-2 6,0 6,0 6-1 6-1 6-2 6-3 6-3 6-3 6-3 6-2 6-2 6,0 6,0 6,0 6-1 6-2 6-2 6-1 2,0"/>
<path d="M272,796l6,0 6,0 6,1 6,1 6,0 6,0 6-1 6-2 6-1 6-2 6-1 6-1 6-1 6,0 6-1 6,1 6,1 6,1 6,2 6,0 6-2 6-1 6-1 6,0 6,1 6,0 6,0 6-2 6-1 6-1 6,0 6-1 6,0 6-1 6,0 6-1 6-1 6-1 6-2 6-2 6-2 6-2 6-2 6,0 6,0 6,1 6-1 6-1 6-3 6-3 6-3 6-2 6-1 6,0 6,0 6,1 6,1 6,2 6,3 6,3 6,5 6,6 6,6 6,7 6,7 6,8 6,10 6,9 6,7 6,4 6,4 6,4 6,3 6,2 6,1 6,0 6-2 6-3 6-4 6-9 6-18 6-29 6-20 6-13 6-12 6-12 6-8 6-5 6-4 6-4 6-6 6-6 6-9 6-10 6-16 6-19 6-21 6-20 6-16 6-10 6-6 6-4 6-4 6-6 6-15 6-22 6-26 6-26 6-13 6-7 6-3 6,0 6,3 6,8 6,9 6,11 6,16 6,20 6,21 6,28 6,42 6,52 6,42 6,34 6,25 6,21 6,17 6,13 6,13 6,12 6,11 6,7 6,5 6,2 6,1 6,3 6,2 6,2 6,1 6,1 6-1 6-1 6-3 6-4 6-6 6-6 6-5 6-4 6-3 6-5 6-4 6-4 6-2 6-1 6-1 6,1 6,1 6,4 6,5 6,6 6,6 6,6 6,5 6,5 6,4 6,4 6,2 6,1 6-1 6-1 6-3 6-4 6-4 6-3 6-1 6,1 6,1 6,3 6,4 6,5 6,5 6,5 6,5 6,5 6,4 6,4 6,3 6,2 6,2 6,1 6,1 6,2 6,1 6,0 6,0 6-1 6,0 6-1 6-1 6-2 6-2 6-2 6-2 6,0 6,1 6,2 6,3 6,3 6,4 6,5 6,4 6,4 6,2 6,2 6,0 6,0 6,0 6-1 6-1 6,0 6-1 6,0 6-1 6,0 6,0 6,0 6,0 6,1 6,0 6,0 6-1 6-1 6-1 6,0 6,0 6-1 6-3 6-2 6-3 6-2 6-1 6-3 6-4 6-4 6-6 6-5 6-6 6-7 6-5 6-6 6-5 6-5 6-5 6-3 6-4 6-4 6-4 6-6 6-5 6-6 6-5 6-3 6-3 6-1 6-2 6-3 6-4 6-4 6-5 6-6 6-4 6-3 6-2 6-1 6,0 6-1 6-1 6-1 6,1 6,2 6,1 2,0"/>
<path d="M272,799l6-1 6,0 6,0 6,0 6,1 6,1 6,1 6,1 6,2 6,1 6,2 6,2 6,2 6,0 6,1 6,0 6,1 6,1 6-1 6-1 6-3 6-4 6-4 6-3 6-4 6-4 6-2 6-1 6-1 6,0 6,1 6,0 6,0 6,1 6,1 6,2 6,2 6,1 6,1 6-1 6-1 6-1 6-1 6,0 6-2 6-1 6-1 6,1 6,3 6,5 6,4 6,4 6,2 6,2 6,4 6,7 6,11 6,10 6,9 6,7 6,5 6,6 6,5 6,3 6,2 6,2 6,1 6,2 6,3 6,4 6,9 6,9 6,8 6,6 6,2 6,1 6,0 6-1 6-3 6-7 6-15 6-25 6-19 6-15 6-13 6-13 6-12 6-10 6-8 6-4 6-4 6-5 6-5 6-7 6-10 6-13 6-12 6-12 6-8 6-5 6-3 6-3 6-3 6-4 6-10 6-13 6-14 6-16 6-12 6-12 6-10 6-6 6-3 6-2 6-4 6,3 6,13 6,18 6,20 6,26 6,38 6,46 6,31 6,26 6,24 6,24 6,19 6,12 6,11 6,8 6,6 6,3 6-4 6-7 6-6 6-2 6-2 6-1 6,2 6,4 6,6 6,5 6,5 6,4 6,2 6,2 6,3 6,2 6,2 6,0 6-2 6-4 6-5 6-5 6-4 6-1 6,0 6,1 6,2 6,2 6,1 6,0 6,1 6,0 6,1 6,2 6,2 6,1 6,1 6,2 6,2 6,2 6,3 6,2 6,3 6,3 6,3 6,1 6,1 6,1 6-1 6,0 6,0 6,0 6-1 6-1 6-1 6-1 6,0 6,1 6,1 6,0 6-1 6-2 6-1 6-1 6,0 6,0 6,0 6,0 6-1 6-1 6,0 6,2 6,2 6,2 6,1 6,0 6-2 6-3 6-6 6-7 6-8 6-8 6-8 6-8 6-6 6-5 6-3 6-1 6,0 6,1 6,2 6,2 6,2 6,1 6,1 6,1 6,2 6,3 6,1 6-2 6-3 6-6 6-6 6-6 6-6 6-5 6-4 6-4 6-4 6-3 6-1 6,0 6,0 6,0 6-2 6-3 6-4 6-4 6-4 6-3 6-3 6-4 6-3 6-3 6-2 6,1 6,2 6,3 6,3 6,3 6,4 6,7 6,8 6,8 6,6 6,6 6,5 6,5 6,5 6,5 6,5 6,4 6,4 6,5 6,6 6,7 6,5 6,4 6,2 2,0"/>
<path d="M272,793l6,1 6,1 6,2 6,3 6,2 6,1 6,1 6-1 6-1 6-2 6-1 6,0 6,2 6,1 6,0 6-3 6-3 6-2 6-1 6,1 6,2 6,2 6,2 6,0 6,0 6-1 6-2 6-2 6-1 6-1 6-2 6-1 6-1 6,1 6,0 6-1 6-1 6-1 6,0 6-2 6-3 6-4 6-3 6-1 6,1 6,4 6,3 6,3 6,2 6,3 6,3 6,3 6,2 6,3 6,2 6,4 6,6 6,8 6,9 6,9 6,7 6,6 6,3 6,0 6,0 6,2 6,4 6,7 6,7 6,7 6,10 6,13 6,14 6,13 6,9 6,8 6,6 6,4 6,2 6,0 6-3 6-10 6-10 6-13 6-16 6-17 6-20 6-21 6-18 6-11 6-8 6-6 6-6 6-8 6-8 6-10 6-7 6-6 6-3 6-2 6-3 6-5 6-7 6-8 6-13 6-16 6-15 6-16 6-16 6-15 6-13 6-9 6-6 6-6 6-10 6-1 6,9 6,16 6,18 6,27 6,40 6,49 6,33 6,27 6,24 6,24 6,18 6,11 6,11 6,8 6,5 6-1 6-10 6-11 6-9 6-3 6-2 6-1 6,0 6,2 6,3 6,3 6,1 6-1 6-2 6-2 6-1 6,0 6,0 6-3 6-4 6-6 6-7 6-6 6-4 6-1 6,1 6,3 6,3 6,2 6,1 6,1 6,3 6,2 6,2 6,2 6,1 6,2 6,2 6,4 6,5 6,5 6,6 6,5 6,5 6,3 6,3 6,2 6,3 6,2 6,2 6,0 6-1 6-1 6,0 6,0 6,0 6,0 6-3 6-5 6-4 6-4 6-2 6-1 6,1 6,1 6,1 6,1 6,1 6,1 6,0 6-1 6-2 6-1 6-2 6-1 6-2 6-3 6-4 6-4 6-3 6-2 6,0 6-1 6-2 6-2 6-4 6-2 6-2 6-2 6,0 6,0 6,1 6,0 6,1 6,1 6,1 6,2 6,1 6,0 6,0 6-2 6-1 6,0 6,0 6,0 6-1 6-3 6-5 6-5 6-4 6-2 6-1 6,1 6,3 6,5 6,4 6,1 6-1 6-4 6-5 6-5 6-3 6-3 6-3 6-3 6-4 6-4 6-3 6-2 6-1 6-2 6-3 6-4 6-3 6-2 6,0 6-2 6-3 6-4 6-4 6-3 6-2 6-1 6-1 6-1 6-3 6-3 6-3 6-2 6,0 2-1"/>
<path d="M272,811l6,0 6,0 6,0 6-1 6-1 6-1 6,0 6,0 6,0 6,0 6,1 6-1 6-2 6-3 6-2 6,0 6,2 6,2 6,2 6,1 6,2 6,1 6,1 6-1 6-2 6-3 6-2 6-1 6,0 6,1 6,2 6,2 6,2 6,1 6,1 6,0 6-1 6-2 6-1 6,0 6-1 6-2 6-2 6-2 6-1 6,1 6,3 6,3 6,4 6,4 6,2 6,0 6-2 6-1 6-1 6,4 6,9 6,12 6,13 6,12 6,8 6,8 6,7 6,7 6,6 6,4 6,1 6,1 6,0 6,4 6,9 6,12 6,10 6,6 6,1 6,0 6,1 6,1 6-1 6-4 6-8 6-18 6-17 6-18 6-17 6-19 6-18 6-17 6-12 6-6 6-4 6-2 6-2 6-3 6-3 6-2 6-1 6-1 6-1 6-3 6-4 6-7 6-9 6-13 6-19 6-23 6-24 6-26 6-25 6-26 6-23 6-18 6-13 6-8 6-5 6,2 6,12 6,17 6,20 6,26 6,41 6,51 6,38 6,32 6,25 6,20 6,14 6,6 6,4 6,3 6,0 6-1 6-4 6-4 6-3 6-2 6-1 6,0 6,0 6,2 6,1 6,0 6-1 6-2 6-3 6-3 6-3 6-3 6-5 6-5 6-5 6-4 6-5 6-5 6-6 6-6 6-6 6-4 6-1 6,2 6,4 6,3 6,3 6,0 6-1 6-1 6-1 6,0 6-1 6,0 6-1 6,0 6-1 6,0 6,2 6,3 6,3 6,2 6,3 6,4 6,6 6,6 6,4 6,2 6,1 6,1 6,2 6,4 6,3 6,3 6,2 6,3 6,2 6,2 6,2 6,4 6,4 6,3 6,2 6,3 6,2 6,3 6,1 6,1 6,1 6,1 6,1 6,1 6,2 6,1 6,0 6,2 6,1 6,2 6,1 6-2 6-2 6-2 6,0 6,1 6,4 6,5 6,6 6,7 6,7 6,8 6,8 6,8 6,10 6,9 6,6 6,5 6,3 6,1 6,0 6,0 6-2 6-2 6-3 6-3 6-3 6-3 6-4 6-6 6-8 6-6 6-4 6-2 6,0 6-1 6,0 6,0 6,1 6,2 6,1 6,2 6,3 6,3 6,3 6,3 6,2 6,1 6,0 6,0 6,0 6,0 6,0 6,0 6,0 6-1 6-3 6-5 6-6 6-7 6-7 6-6 6-5 6-3 6-1 6,0 6,0 2,0"/>
<path d="M272,803l6,0 6,0 6,1 6,1 6,2 6,3 6,3 6,2 6,2 6,0 6,1 6-1 6-1 6-3 6-2 6-1 6-2 6-1 6-1 6-1 6-1 6-1 6-1 6-1 6,0 6-1 6,0 6-1 6-1 6-1 6-1 6-1 6-1 6-1 6,1 6-1 6,0 6-1 6-2 6-2 6-3 6-3 6-3 6-3 6-3 6-3 6-4 6-3 6-2 6,0 6,0 6,0 6-1 6-2 6-4 6-1 6,1 6,4 6,5 6,5 6,3 6,3 6,3 6,5 6,7 6,10 6,12 6,11 6,10 6,8 6,7 6,7 6,5 6,3 6,0 6-1 6-3 6-4 6-6 6-12 6-23 6-37 6-27 6-17 6-15 6-14 6-10 6-5 6-3 6-2 6-1 6,0 6-2 6-3 6-6 6-7 6-7 6-4 6-1 6,3 6,4 6,5 6,6 6,5 6-1 6-5 6-7 6-8 6-5 6-7 6-6 6-5 6-5 6-7 6-9 6-3 6,8 6,13 6,14 6,18 6,30 6,37 6,24 6,21 6,20 6,20 6,20 6,16 6,17 6,15 6,10 6,5 6-3 6-7 6-4 6,1 6,2 6,1 6,0 6-1 6-1 6-2 6-1 6-1 6-3 6-3 6-4 6-3 6-3 6-2 6-2 6-3 6-4 6-5 6-5 6-5 6-4 6-3 6-2 6,0 6,1 6,2 6,3 6,1 6,0 6,1 6,2 6,6 6,7 6,7 6,5 6,5 6,3 6,4 6,4 6,4 6,5 6,4 6,5 6,5 6,5 6,5 6,6 6,4 6,4 6,2 6,1 6,1 6,0 6,0 6,1 6,1 6,1 6,1 6,0 6,1 6,2 6,3 6,4 6,3 6,2 6,2 6,2 6,3 6,4 6,4 6,3 6,2 6,0 6-3 6-3 6-3 6-2 6,0 6-1 6,0 6,0 6-1 6-1 6-1 6,0 6,1 6,2 6,2 6,2 6,1 6,1 6,0 6-1 6-1 6-2 6-1 6,1 6,0 6,0 6-1 6-2 6-1 6,1 6,2 6,3 6,5 6,5 6,6 6,5 6,3 6,2 6,2 6,2 6,1 6,0 6-1 6-3 6-3 6-2 6-3 6-2 6-2 6-3 6-2 6-3 6-4 6-4 6-6 6-5 6-3 6-2 6-1 6-1 6,0 6,1 6,1 6,0 6-1 6-2 6-4 6-4 6-3 6-3 6-1 6-1 2,0"/>
<path d="M272,785l6,0 6,0 6-1 6-2 6-2 6-2 6-1 6,0 6,0 6,1 6,2 6,1 6,0 6,0 6,0 6,0 6,0 6,1 6,0 6,1 6,0 6,0 6,0 6,0 6,0 6,0 6-1 6-2 6-2 6-2 6-2 6-1 6,0 6,0 6,0 6,0 6,1 6,0 6-1 6-1 6,0 6,1 6,2 6,2 6,1 6,0 6,0 6-1 6-2 6-2 6-1 6-2 6-1 6,0 6,0 6,3 6,5 6,5 6,6 6,4 6,3 6,1 6,3 6,4 6,6 6,8 6,9 6,8 6,7 6,5 6,7 6,9 6,9 6,7 6,5 6,3 6,1 6-2 6-6 6-10 6-18 6-29 6-21 6-16 6-16 6-17 6-15 6-10 6-8 6-5 6-4 6-3 6-2 6-4 6-7 6-10 6-13 6-14 6-13 6-10 6-10 6-9 6-10 6-13 6-21 6-27 6-31 6-33 6-23 6-20 6-16 6-12 6-7 6,2 6,7 6,12 6,16 6,18 6,21 6,26 6,38 6,52 6,45 6,40 6,28 6,21 6,13 6,10 6,9 6,8 6,8 6,6 6,5 6,3 6,2 6,0 6-1 6,1 6,0 6,2 6,1 6,1 6,0 6,1 6-1 6-2 6-1 6-1 6-1 6-1 6,0 6,0 6,1 6,2 6,1 6,3 6,3 6,4 6,7 6,8 6,9 6,9 6,8 6,5 6,3 6,3 6,2 6,3 6,2 6,3 6,2 6,3 6,3 6,3 6,4 6,3 6,2 6,1 6,0 6,0 6,2 6,3 6,3 6,3 6,2 6,0 6-1 6-1 6,0 6,0 6,1 6,1 6,1 6,1 6-1 6,1 6,1 6,2 6,2 6,3 6,4 6,4 6,5 6,7 6,7 6,7 6,6 6,5 6,4 6,3 6,1 6,1 6,0 6-2 6-2 6-1 6,0 6,2 6,2 6,3 6,3 6,3 6,2 6,1 6-1 6-1 6-2 6-4 6-4 6-5 6-7 6-7 6-7 6-5 6-5 6-3 6-3 6-3 6-1 6-1 6,1 6,1 6,3 6,3 6,3 6,3 6,4 6,4 6,5 6,4 6,2 6,2 6,0 6,1 6,0 6-1 6,0 6,0 6,0 6-1 6-1 6-1 6-1 6-3 6-3 6-4 6-4 6-4 6-5 6-5 6-4 6-4 6-2 6,0 6,1 6,0 6-1 6-2 6,0 6-1 6,0 2,1"/>
<path d="M272,776l6,1 6,1 6,2 6,2 6,2 6,1 6,1 6-1 6-2 6-3 6-2 6-1 6,0 6,1 6,0 6,0 6,0 6,0 6-2 6-2 6-2 6-1 6-1 6,0 6-1 6-2 6,0 6,0 6,2 6,2 6,1 6,1 6-2 6-3 6-4 6-4 6-3 6-2 6-2 6-2 6-2 6-1 6,0 6,1 6,0 6,0 6,0 6,0 6,1 6,2 6,4 6,4 6,4 6,5 6,3 6,4 6,5 6,7 6,7 6,8 6,6 6,6 6,4 6,5 6,3 6,6 6,6 6,7 6,6 6,4 6,4 6,4 6,4 6,2 6,1 6-1 6-1 6-4 6-8 6-14 6-23 6-34 6-23 6-14 6-12 6-14 6-11 6-7 6-6 6-3 6-3 6-3 6-2 6-3 6-6 6-7 6-8 6-5 6-1 6,2 6,3 6,2 6,0 6-2 6-10 6-15 6-18 6-21 6-17 6-17 6-16 6-15 6-15 6-13 6-12 6-5 6,3 6,9 6,11 6,19 6,33 6,48 6,44 6,41 6,29 6,24 6,16 6,12 6,12 6,9 6,7 6,5 6,4 6,5 6,4 6,5 6,5 6,6 6,6 6,6 6,3 6,1 6-1 6-2 6-2 6-2 6-3 6-6 6-9 6-9 6-9 6-9 6-9 6-7 6-5 6-3 6,0 6,1 6,3 6,3 6,1 6,0 6-1 6-2 6-3 6-4 6-4 6-4 6-3 6-3 6-1 6,0 6,1 6,3 6,5 6,8 6,9 6,10 6,9 6,8 6,7 6,5 6,4 6,2 6,1 6,2 6,1 6,1 6-1 6-2 6-3 6-3 6-2 6,0 6,0 6,0 6-1 6-1 6-1 6,0 6,2 6,4 6,7 6,8 6,6 6,4 6,3 6,2 6,2 6,2 6,1 6,1 6,1 6,2 6,3 6,4 6,3 6,3 6,2 6,2 6,2 6,2 6,4 6,5 6,6 6,6 6,6 6,5 6,4 6,3 6,2 6,2 6,2 6,0 6,0 6-1 6-2 6-1 6-1 6-1 6,0 6,1 6,1 6,2 6,3 6,2 6,1 6,0 6-1 6-1 6-1 6,0 6-1 6-1 6-1 6-2 6-2 6-2 6-1 6,1 6,3 6,3 6,4 6,2 6,1 6,1 6,1 6,2 6,4 6,3 6,3 6,1 6,1 6,0 6,0 6-1 6-1 6-2 6-1 6-2 6,0 2,0"/>
<path d="M272,769l6,1 6,1 6,1 6,0 6,0 6-1 6,0 6,0 6,0 6,0 6,1 6,0 6,0 6-1 6-2 6-4 6-3 6-2 6,0 6,2 6,4 6,4 6,3 6,1 6,0 6-1 6-1 6-1 6-1 6,0 6,1 6,2 6,2 6,1 6-1 6,0 6-2 6-2 6-3 6-4 6-5 6-3 6-2 6,0 6,2 6,4 6,3 6,3 6,3 6,3 6,4 6,3 6,4 6,3 6,2 6,3 6,6 6,8 6,9 6,8 6,5 6,2 6,1 6,1 6,3 6,4 6,6 6,5 6,3 6,4 6,6 6,10 6,9 6,7 6,5 6,4 6,3 6,0 6-2 6-8 6-16 6-29 6-24 6-20 6-19 6-20 6-18 6-15 6-12 6-9 6-4 6-1 6,2 6,0 6-4 6-7 6-8 6-6 6-3 6,0 6-1 6-1 6-3 6-6 6-14 6-18 6-20 6-19 6-14 6-14 6-11 6-9 6-6 6-3 6-4 6,2 6,13 6,20 6,23 6,30 6,43 6,52 6,39 6,35 6,29 6,28 6,22 6,12 6,10 6,6 6,3 6,0 6-5 6-7 6-4 6,1 6,2 6,4 6,3 6,3 6,2 6,0 6-1 6-3 6-2 6-2 6,0 6,1 6-1 6-2 6-4 6-3 6-3 6-2 6-1 6-2 6,0 6-1 6,0 6-1 6,0 6,0 6,0 6,0 6-1 6-2 6-2 6-1 6-1 6,1 6,2 6,2 6,1 6-1 6-1 6-2 6-1 6-1 6,0 6-1 6,0 6,1 6,2 6,3 6,3 6,1 6,2 6,1 6,0 6,1 6,1 6,0 6,0 6-1 6,0 6,0 6,1 6,1 6,1 6,1 6,1 6,1 6,0 6,2 6,2 6,2 6,3 6,4 6,5 6,6 6,8 6,7 6,6 6,4 6,3 6,2 6,1 6,2 6,2 6,1 6,1 6,0 6-1 6,0 6,0 6-1 6-1 6-2 6-2 6-2 6-3 6-2 6-1 6-1 6-2 6-2 6-4 6-5 6-4 6-4 6-5 6-5 6-5 6-5 6-4 6-6 6-6 6-6 6-5 6-5 6-4 6-3 6-3 6-1 6-1 6-1 6-2 6-1 6-1 6,0 6,1 6,0 6,1 6-1 6,0 6,0 6,1 6,0 6,0 6,1 6,1 6,3 6,4 6,5 6,6 6,5 6,5 6,3 6,2 6,1 6,0 2,0"/>
<path d="M272,727l6-1 6,0 6,0 6,1 6,3 6,5 6,4 6,3 6,2 6,1 6,2 6,3 6,5 6,3 6,2 6-1 6-2 6-1 6,1 6,4 6,6 6,5 6,5 6,3 6,2 6,1 6,0 6-1 6,0 6-2 6-4 6-5 6-7 6-6 6-5 6-3 6-1 6,0 6,1 6,2 6,2 6,1 6-1 6-2 6-1 6-1 6,0 6,0 6,1 6,2 6,3 6,5 6,6 6,5 6,5 6,9 6,10 6,11 6,9 6,7 6,5 6,5 6,5 6,5 6,3 6,5 6,4 6,5 6,4 6,5 6,8 6,8 6,8 6,3 6,0 6-2 6-4 6-5 6-6 6-8 6-15 6-26 6-16 6-9 6-10 6-10 6-7 6-5 6-1 6,2 6,4 6,4 6,3 6,0 6-2 6-4 6-5 6-3 6-3 6-2 6-3 6-7 6-9 6-13 6-19 6-23 6-24 6-24 6-20 6-18 6-16 6-13 6-9 6-5 6-5 6,0 6,9 6,14 6,17 6,26 6,39 6,50 6,42 6,38 6,30 6,27 6,20 6,11 6,8 6,6 6,4 6,5 6,7 6,9 6,8 6,6 6,4 6,1 6,0 6,1 6,2 6,2 6,1 6,0 6-2 6-4 6-5 6-9 6-10 6-13 6-12 6-9 6-7 6-5 6-4 6-4 6-4 6-3 6-2 6,0 6,4 6,5 6,5 6,5 6,1 6,2 6,2 6,5 6,5 6,4 6,3 6,0 6-1 6-1 6-1 6-1 6-1 6,0 6-1 6-2 6-1 6-1 6,0 6,0 6-1 6-3 6-6 6-6 6-7 6-6 6-5 6-5 6-4 6-3 6-3 6-2 6-1 6,0 6,2 6,3 6,4 6,3 6,3 6,2 6,1 6,2 6,3 6,4 6,5 6,5 6,5 6,4 6,4 6,3 6,2 6,2 6,2 6,2 6,3 6,4 6,4 6,5 6,5 6,3 6,2 6,1 6,0 6-1 6-2 6-1 6-1 6,1 6,3 6,5 6,5 6,3 6,3 6,3 6,3 6,4 6,4 6,4 6,4 6,3 6,2 6,2 6,2 6,2 6,2 6,2 6,3 6,2 6,3 6,2 6,1 6-2 6-3 6-4 6-3 6-2 6-2 6-4 6-4 6-5 6-5 6-4 6-2 6,1 6,1 6,0 6-1 6-1 6-1 6,1 6,1 6,2 6,0 6,0 6,0 6,1 6,1 2,0"/>
<path d="M272,813l6-1 6-2 6-2 6,0 6-2 6-2 6-4 6-3 6-1 6,0 6,2 6,1 6,1 6,2 6,3 6,3 6,3 6,3 6,2 6,1 6,2 6,0 6-2 6-3 6-3 6-3 6-1 6-1 6,1 6,0 6,0 6,0 6-1 6,0 6,1 6,1 6,0 6-2 6-3 6-4 6-2 6,0 6,1 6,1 6-1 6-3 6-4 6-3 6-3 6-2 6,1 6,1 6,1 6,0 6-1 6,2 6,4 6,5 6,6 6,7 6,5 6,4 6,4 6,4 6,4 6,6 6,8 6,9 6,7 6,6 6,5 6,4 6,3 6,0 6-2 6-4 6-3 6-4 6-5 6-9 6-16 6-30 6-21 6-16 6-17 6-19 6-17 6-13 6-9 6-7 6-7 6-9 6-10 6-10 6-13 6-14 6-13 6-11 6-7 6-4 6-2 6-4 6-5 6-7 6-18 6-26 6-34 6-37 6-29 6-26 6-21 6-19 6-14 6-5 6,2 6,5 6,3 6,4 6,4 6,7 6,22 6,43 6,52 6,54 6,38 6,31 6,29 6,31 6,32 6,31 6,29 6,25 6,21 6,18 6,14 6,13 6,10 6,9 6,6 6,3 6,2 6,0 6-1 6-1 6,0 6,1 6,0 6,1 6,0 6-2 6-2 6-1 6,0 6,0 6,1 6,0 6,0 6-1 6-2 6-1 6,0 6,0 6,0 6,0 6-1 6-3 6-4 6-4 6-5 6-2 6-1 6-1 6-1 6-3 6-3 6-2 6-2 6,0 6,0 6,1 6,2 6,2 6,2 6,2 6,1 6,1 6,2 6,2 6,4 6,6 6,6 6,3 6,1 6,0 6,1 6,3 6,3 6,3 6,3 6,1 6,0 6,0 6-2 6-4 6-3 6-2 6-2 6-1 6-1 6,1 6,0 6,0 6-1 6-1 6-1 6,0 6,3 6,3 6,3 6,4 6,3 6,4 6,4 6,4 6,3 6,3 6,4 6,4 6,4 6,2 6-2 6-3 6-5 6-4 6-3 6-2 6,0 6,0 6,0 6,0 6,1 6,1 6,3 6,4 6,4 6,3 6,2 6,1 6,0 6-1 6-1 6-2 6-3 6-4 6-4 6-4 6-2 6-2 6,0 6,1 6,2 6,2 6,1 6,2 6,1 6,0 6,0 6,0 6-1 6,2 6,3 6,3 6,4 6,2 6,2 6,1 6,3 6,2 6,3 6,1 6,1 2,1"/>
<path d="M272,765l6,2 6,3 6,4 6,3 6,2 6,0 6-1 6,0 6,0 6,1 6,2 6,1 6,1 6,2 6,1 6,1 6,1 6,0 6-1 6,0 6-2 6-2 6-2 6-2 6-1 6,0 6,1 6,2 6,0 6,0 6,0 6,1 6,0 6-2 6-2 6-4 6-5 6-4 6-3 6-2 6-2 6-1 6,0 6,1 6,1 6,1 6,0 6,0 6-1 6-2 6-2 6-3 6-2 6-1 6,1 6,3 6,4 6,4 6,5 6,6 6,4 6,4 6,2 6,0 6,2 6,7 6,11 6,13 6,11 6,9 6,5 6,4 6,3 6,1 6,1 6-1 6-3 6-5 6-7 6-10 6-18 6-29 6-19 6-11 6-12 6-12 6-10 6-7 6-6 6-3 6-2 6,0 6,0 6-1 6-4 6-6 6-8 6-6 6-4 6-3 6-1 6-2 6-4 6-6 6-15 6-20 6-21 6-21 6-14 6-13 6-10 6-8 6-5 6,0 6,0 6,5 6,12 6,15 6,19 6,26 6,43 6,55 6,41 6,35 6,29 6,28 6,26 6,20 6,17 6,13 6,7 6,0 6-9 6-10 6-6 6,2 6,3 6,3 6,1 6,0 6-2 6-2 6-1 6,1 6,2 6,1 6,1 6,1 6,0 6-2 6-3 6-5 6-5 6-6 6-6 6-5 6-6 6-6 6-5 6-3 6-1 6-2 6-1 6-1 6-1 6,1 6,3 6,3 6,0 6,0 6-2 6-2 6-1 6-1 6-1 6,0 6,0 6,2 6,2 6,1 6,1 6,0 6-1 6-1 6-1 6,1 6,3 6,5 6,7 6,6 6,7 6,6 6,6 6,6 6,7 6,6 6,5 6,5 6,4 6,2 6,1 6,0 6-1 6,0 6,2 6,2 6,2 6,1 6,0 6-1 6-1 6-2 6-3 6-1 6-1 6,1 6,2 6,1 6,2 6,2 6,1 6,0 6-2 6-4 6-3 6-3 6-2 6-2 6-2 6-3 6-3 6-3 6-5 6-5 6-6 6-6 6-5 6-4 6-3 6-2 6-1 6,0 6,1 6,1 6,0 6,0 6,1 6,1 6,1 6-2 6-4 6-6 6-5 6-5 6-5 6-5 6-6 6-5 6-6 6-4 6-3 6,0 6,0 6,1 6,0 6-2 6-2 6-2 6-3 6-3 6-4 6-4 6-5 6-5 6-4 6-3 6-2 6-4 6-3 6-3 6-2 2,0"/>
<path d="M272,773l6,0 6,1 6,1 6,1 6-1 6-2 6-4 6-3 6-2 6-1 6,1 6,0 6,2 6,2 6,2 6,1 6,2 6,1 6,2 6,1 6,2 6,3 6,2 6,1 6,1 6,1 6,0 6-2 6-1 6-2 6-1 6,0 6-1 6-1 6-3 6-3 6-4 6-4 6-4 6-3 6-3 6-2 6-2 6-2 6,0 6,0 6,3 6,3 6,2 6,3 6,4 6,3 6,4 6,3 6,4 6,5 6,8 6,9 6,11 6,11 6,9 6,8 6,6 6,4 6,3 6,2 6,2 6,2 6,2 6,2 6,3 6,3 6,3 6,1 6-2 6-4 6-5 6-5 6-6 6-10 6-23 6-46 6-29 6-15 6-14 6-15 6-11 6-7 6-5 6-2 6,0 6,1 6,2 6,2 6-2 6-4 6-4 6-2 6,0 6,2 6,1 6-2 6-5 6-9 6-18 6-23 6-28 6-30 6-25 6-23 6-20 6-19 6-18 6-13 6-10 6-6 6,1 6,6 6,11 6,19 6,37 6,55 6,57 6,55 6,42 6,37 6,32 6,26 6,23 6,19 6,15 6,12 6,7 6,5 6,2 6,1 6,1 6,1 6,1 6,1 6,1 6,0 6-1 6-1 6-1 6-1 6-1 6-1 6,0 6-1 6-2 6-4 6-5 6-6 6-4 6-3 6-2 6,0 6,0 6,1 6,3 6,2 6,1 6,0 6-1 6,1 6,2 6,4 6,4 6,4 6,3 6,2 6,0 6-1 6-1 6-1 6,1 6,1 6,2 6,2 6,1 6,2 6,2 6,1 6,0 6-1 6-2 6,0 6,2 6,2 6,2 6,3 6,3 6,4 6,5 6,6 6,5 6,4 6,3 6,2 6,2 6,3 6,3 6,4 6,5 6,4 6,4 6,5 6,4 6,6 6,6 6,7 6,5 6,5 6,3 6,3 6,4 6,5 6,5 6,4 6,4 6,3 6,3 6,1 6,2 6,1 6,0 6-1 6-1 6-3 6-4 6-4 6-5 6-6 6-6 6-6 6-8 6-9 6-9 6-8 6-6 6-4 6-3 6-1 6-1 6,0 6-1 6-1 6-2 6-3 6-1 6-1 6,2 6,2 6,1 6,1 6,1 6,2 6,3 6,4 6,5 6,5 6,5 6,6 6,5 6,4 6,3 6,1 6,0 6-1 6-2 6-2 6-2 6-3 6-4 6-5 6-6 6-7 6-7 6-5 6-2 2,0"/>
<path d="M272,759l6,2 6,3 6,2 6,1 6,1 6,1 6,2 6,2 6,1 6,0 6-1 6-1 6,0 6,0 6-1 6-1 6,0 6,1 6,1 6,2 6,2 6,2 6,2 6,1 6,2 6,1 6,2 6,1 6,0 6-2 6-3 6-5 6-5 6-4 6-2 6-1 6,1 6,0 6,2 6,1 6,2 6,3 6,3 6,2 6,2 6,1 6,2 6,1 6,1 6,1 6,1 6,1 6,3 6,4 6,4 6,9 6,12 6,15 6,14 6,11 6,7 6,4 6,2 6,0 6-2 6-1 6,0 6,2 6,3 6,3 6,7 6,7 6,8 6,6 6,3 6,3 6,1 6,0 6-3 6-8 6-14 6-24 6-19 6-15 6-14 6-15 6-13 6-11 6-6 6-2 6,0 6,1 6,1 6,0 6-1 6-3 6-4 6-5 6-5 6-5 6-3 6-4 6-6 6-8 6-15 6-19 6-23 6-26 6-27 6-28 6-25 6-21 6-18 6-14 6-13 6-8 6,0 6,3 6,6 6,15 6,31 6,50 6,47 6,45 6,33 6,28 6,24 6,20 6,19 6,16 6,13 6,10 6,4 6,2 6,0 6,2 6,1 6,1 6,2 6,5 6,6 6,6 6,6 6,6 6,5 6,3 6,3 6,1 6,0 6-2 6-1 6-2 6-1 6-2 6-3 6-4 6-4 6-2 6-1 6,0 6,1 6,0 6,0 6-1 6-1 6-1 6,0 6,1 6,0 6,1 6,0 6,0 6,0 6,0 6,0 6-2 6-2 6-3 6-1 6,0 6,2 6,2 6,2 6,2 6,2 6,1 6,2 6,2 6,2 6,4 6,4 6,3 6,2 6-1 6-2 6-4 6-4 6-4 6-2 6-2 6,0 6,0 6-1 6-3 6-5 6-7 6-6 6-5 6-5 6-4 6-3 6-3 6-2 6-2 6-3 6-3 6-1 6,0 6,3 6,3 6,4 6,3 6,3 6,2 6,2 6,2 6,1 6-1 6,0 6,1 6,1 6,2 6,2 6,2 6,1 6-1 6-1 6-3 6-2 6-3 6-3 6-2 6-1 6-2 6-3 6-4 6-4 6-3 6-2 6-1 6,0 6,0 6,1 6,0 6,0 6,0 6,1 6,2 6,1 6,1 6-1 6-2 6-1 6-2 6,0 6,1 6,1 6,2 6,1 6,0 6,0 6,1 6,0 6,2 6,3 6,5 6,5 6,6 6,6 6,5 6,2 2,1"/>
<path d="M272,786l6,1 6,2 6,1 6,0 6-2 6-3 6-5 6-5 6-4 6-2 6-1 6,0 6,2 6,2 6,2 6,2 6,1 6,0 6,0 6,1 6,0 6,0 6-1 6,0 6-1 6,0 6,0 6,0 6,1 6,1 6,0 6-1 6-3 6-4 6-5 6-6 6-5 6-4 6-4 6-2 6-1 6-2 6-1 6-3 6-4 6-6 6-6 6-6 6-5 6-5 6-2 6-1 6,2 6,2 6,2 6,5 6,6 6,7 6,6 6,5 6,5 6,6 6,7 6,8 6,9 6,13 6,13 6,13 6,8 6,4 6,3 6,4 6,2 6,3 6,1 6,0 6,0 6,1 6-1 6-4 6-16 6-35 6-16 6-5 6-7 6-9 6-7 6-6 6-3 6-2 6,0 6,0 6,2 6,5 6,4 6,4 6,3 6,2 6,2 6,2 6-1 6-2 6-5 6-6 6-11 6-15 6-19 6-21 6-19 6-18 6-15 6-12 6-11 6-9 6-11 6-4 6,6 6,12 6,13 6,18 6,30 6,39 6,31 6,27 6,19 6,16 6,12 6,9 6,9 6,11 6,10 6,7 6,5 6,1 6,0 6,1 6,3 6,3 6,4 6,2 6,0 6-2 6-4 6-6 6-5 6-7 6-8 6-9 6-9 6-11 6-10 6-10 6-9 6-9 6-9 6-9 6-8 6-5 6-2 6,0 6,0 6,0 6-1 6,0 6,0 6,1 6,0 6,0 6,1 6,1 6,2 6,1 6,2 6,2 6,4 6,5 6,6 6,6 6,7 6,9 6,10 6,10 6,10 6,8 6,7 6,6 6,7 6,8 6,8 6,8 6,8 6,7 6,7 6,6 6,4 6,3 6,2 6,2 6,1 6,1 6,0 6-1 6-2 6-4 6-4 6-5 6-5 6-3 6-4 6-4 6-4 6-4 6-4 6-3 6-4 6-2 6-2 6-2 6-3 6-2 6,1 6,2 6,2 6,3 6,2 6,3 6,4 6,3 6,2 6,1 6,1 6-1 6,0 6-1 6-1 6-2 6-2 6-4 6-4 6-4 6-3 6-2 6-1 6-1 6,0 6,1 6,1 6,2 6,0 6-1 6-2 6,1 6,3 6,4 6,4 6,2 6-1 6-3 6-4 6-5 6-5 6-4 6-5 6-6 6-5 6-5 6-4 6-3 6-4 6-4 6-5 6-3 6-1 6,1 6,0 6,1 6,1 6,1 6,0 6,0 6,1 2,1"/>
<path d="M272,761l6,0 6-1 6,0 6,2 6,3 6,2 6,0 6,0 6-1 6,0 6,0 6,1 6,0 6-1 6-4 6-5 6-4 6-2 6,1 6,3 6,4 6,4 6,3 6,2 6,1 6-1 6-1 6-2 6-1 6,1 6,2 6,3 6,1 6,0 6-2 6-2 6-2 6-4 6-3 6-2 6-2 6-1 6-2 6-2 6-3 6-2 6-2 6,0 6,1 6,1 6,0 6,0 6-1 6-1 6-1 6,0 6,3 6,3 6,5 6,6 6,5 6,4 6,3 6,2 6,3 6,7 6,9 6,9 6,6 6,5 6,4 6,3 6,3 6,2 6,1 6-2 6-3 6-6 6-7 6-12 6-22 6-33 6-19 6-8 6-6 6-6 6-1 6,3 6,6 6,7 6,7 6,5 6,1 6-4 6-7 6-11 6-12 6-13 6-12 6-11 6-10 6-9 6-11 6-10 6-17 6-20 6-25 6-26 6-21 6-19 6-17 6-12 6-10 6-5 6-1 6,2 6,8 6,10 6,13 6,18 6,34 6,50 6,47 6,45 6,34 6,30 6,25 6,20 6,17 6,14 6,10 6,4 6-2 6-3 6-4 6-4 6-3 6-2 6-2 6-2 6-2 6-3 6-3 6-2 6,1 6,3 6,5 6,5 6,4 6,3 6,1 6,1 6-2 6-2 6-4 6-2 6,0 6,3 6,3 6,3 6,2 6,0 6-1 6-1 6-3 6-3 6-2 6-2 6-2 6-2 6-4 6-3 6-2 6-2 6-1 6-1 6-1 6,1 6,3 6,6 6,6 6,6 6,5 6,5 6,3 6,2 6,3 6,2 6,1 6,1 6,1 6,0 6,1 6,1 6,3 6,5 6,5 6,4 6,2 6,1 6,1 6,2 6,3 6,2 6,3 6,3 6,4 6,4 6,3 6,0 6-1 6-3 6-2 6-1 6-1 6,1 6,0 6-1 6-1 6-3 6-4 6-5 6-5 6-7 6-7 6-4 6-1 6,0 6,0 6,0 6-1 6-1 6-1 6-1 6-1 6-2 6-3 6-3 6-3 6-3 6-3 6-2 6,0 6,0 6,0 6-1 6-1 6-3 6-3 6-2 6-2 6-1 6,0 6,0 6,2 6,1 6,2 6,1 6,2 6,2 6,3 6,3 6,1 6,1 6,0 6-1 6-1 6,0 6-1 6,0 6,0 6,0 6,0 6,0 6-1 6-1 6-2 6-3 6-3 6-2 6-1 2,0"/>
<path d="M272,759l6,2 6,2 6,4 6,4 6,4 6,2 6,0 6-1 6,0 6,2 6,4 6,3 6,2 6,0 6,0 6,0 6,1 6-1 6-1 6-2 6-1 6-1 6,1 6,2 6,4 6,4 6,3 6,1 6-2 6-2 6-2 6,0 6,1 6,3 6,2 6,1 6-1 6-2 6-2 6-3 6-3 6-2 6-1 6-2 6-1 6-1 6-1 6,0 6,0 6-1 6-1 6-1 6-1 6-1 6,0 6,4 6,6 6,6 6,6 6,3 6,2 6,3 6,3 6,6 6,6 6,8 6,8 6,8 6,8 6,7 6,10 6,9 6,6 6,3 6-1 6-3 6-4 6-5 6-4 6-7 6-14 6-27 6-20 6-16 6-14 6-14 6-12 6-11 6-8 6-7 6-7 6-6 6-7 6-9 6-13 6-17 6-18 6-16 6-14 6-8 6-6 6-3 6-4 6-6 6-13 6-19 6-22 6-24 6-17 6-18 6-17 6-15 6-15 6-8 6-5 6-3 6,0 6,2 6,5 6,10 6,24 6,43 6,45 6,47 6,34 6,27 6,23 6,21 6,20 6,21 6,18 6,16 6,13 6,9 6,6 6,3 6,3 6,3 6,1 6,0 6-1 6-1 6-1 6,0 6,1 6,1 6,2 6,2 6,2 6,2 6,2 6,3 6,3 6,2 6,3 6,2 6,3 6,2 6,2 6,0 6,1 6,1 6,2 6,3 6,5 6,6 6,6 6,5 6,5 6,3 6,3 6,1 6,1 6,2 6,2 6,3 6,2 6,1 6,1 6,1 6,1 6,1 6,1 6,3 6,3 6,4 6,4 6,5 6,5 6,6 6,7 6,7 6,6 6,5 6,2 6,1 6-1 6,0 6,0 6,1 6,2 6,2 6,2 6,0 6-2 6-3 6-3 6-2 6,1 6,1 6,2 6,2 6,2 6,3 6,3 6,2 6,2 6,2 6,0 6,1 6,1 6,0 6-2 6-1 6-2 6-1 6-1 6-1 6-2 6-1 6-1 6-1 6-1 6-2 6-1 6-1 6-2 6-2 6,0 6,0 6,1 6,0 6-2 6-3 6-4 6-3 6-4 6-2 6-1 6,0 6-1 6-3 6-4 6-4 6-4 6-4 6-4 6-5 6-7 6-7 6-8 6-7 6-8 6-8 6-8 6-9 6-8 6-7 6-4 6-1 6,3 6,4 6,6 6,7 6,7 6,7 6,6 6,6 6,4 6,3 6,1 2,1"/>
<path d="M272,816l6,0 6-1 6-1 6-1 6-1 6,0 6,1 6,1 6,0 6-1 6-2 6-2 6-4 6-4 6-2 6-2 6-2 6-2 6-2 6-3 6-2 6-1 6-1 6-2 6-1 6-1 6,0 6,1 6,2 6,2 6,1 6-1 6-1 6-1 6-2 6-3 6-3 6-4 6-3 6-4 6-3 6-4 6-3 6-2 6-1 6,0 6-1 6,1 6,1 6,2 6,3 6,2 6,1 6,0 6,0 6,2 6,5 6,8 6,8 6,8 6,6 6,5 6,4 6,4 6,6 6,8 6,10 6,9 6,6 6,6 6,9 6,11 6,10 6,8 6,3 6,2 6,1 6,1 6-1 6-5 6-12 6-23 6-20 6-18 6-18 6-17 6-14 6-12 6-9 6-6 6-5 6-5 6-5 6-6 6-9 6-11 6-10 6-12 6-11 6-9 6-9 6-7 6-8 6-8 6-14 6-19 6-23 6-24 6-19 6-16 6-12 6-7 6-3 6,3 6,3 6,8 6,12 6,14 6,15 6,22 6,35 6,48 6,40 6,35 6,27 6,26 6,23 6,18 6,17 6,14 6,12 6,8 6,1 6-3 6-2 6,0 6,0 6-1 6-2 6-2 6-2 6-2 6,1 6,1 6,1 6,0 6-3 6-4 6-4 6-5 6-4 6-2 6-3 6-3 6-4 6-4 6-4 6-3 6-2 6-1 6,1 6,3 6,3 6,4 6,2 6,4 6,5 6,6 6,5 6,5 6,4 6,3 6,3 6,3 6,4 6,4 6,5 6,6 6,6 6,7 6,6 6,7 6,6 6,7 6,6 6,5 6,3 6,2 6,2 6,3 6,2 6,2 6,1 6,0 6-1 6,0 6,1 6,0 6-1 6-1 6,0 6,1 6,2 6,3 6,3 6,1 6,1 6,0 6,1 6,0 6-2 6-3 6-4 6-3 6,0 6,2 6,2 6,0 6,0 6,0 6,0 6,0 6,0 6,0 6-1 6-2 6-3 6-3 6-3 6-2 6-1 6-1 6-1 6-1 6-2 6-1 6-1 6-2 6-1 6-3 6-4 6-4 6-4 6-4 6-5 6-5 6-6 6-7 6-8 6-9 6-10 6-10 6-9 6-7 6-5 6-2 6-3 6-4 6-5 6-5 6-4 6-3 6,0 6,1 6,1 6,3 6,2 6,1 6,1 6,1 6,1 6,2 6,2 6,0 6,0 6,0 6,2 6,2 6,4 6,3 6,2 2,1"/>
<path d="M272,764l6,0 6,0 6,1 6,1 6,1 6,1 6,1 6,2 6,3 6,1 6,1 6,1 6,2 6,3 6,2 6,2 6,1 6-2 6-3 6-3 6-2 6,0 6,1 6,4 6,4 6,2 6,0 6-2 6-2 6-1 6,0 6,1 6,2 6,1 6,1 6,0 6-1 6-1 6,1 6,1 6,2 6,2 6,2 6,1 6,1 6,0 6,0 6,0 6,1 6,3 6,5 6,4 6,1 6-1 6,0 6,4 6,8 6,11 6,11 6,8 6,5 6,4 6,4 6,4 6,5 6,4 6,4 6,4 6,2 6,3 6,6 6,8 6,7 6,3 6-2 6-5 6-8 6-11 6-13 6-18 6-28 6-40 6-31 6-20 6-19 6-18 6-14 6-8 6-4 6-1 6,2 6,4 6,5 6,2 6-1 6-5 6-5 6-3 6-2 6,0 6-2 6-5 6-10 6-17 6-26 6-33 6-36 6-36 6-26 6-22 6-16 6-11 6-4 6,7 6,12 6,18 6,26 6,30 6,33 6,39 6,50 6,57 6,40 6,32 6,22 6,18 6,10 6,1 6,0 6-1 6-1 6-2 6-3 6-3 6-3 6-5 6-4 6-3 6-3 6-2 6-3 6-3 6-4 6-4 6-5 6-4 6-5 6-3 6-5 6-5 6-6 6-6 6-6 6-5 6-4 6-2 6,0 6,2 6,4 6,7 6,9 6,9 6,9 6,6 6,4 6,3 6,5 6,5 6,6 6,6 6,5 6,5 6,5 6,6 6,8 6,7 6,8 6,8 6,7 6,8 6,8 6,6 6,3 6,0 6-1 6,0 6,1 6,4 6,4 6,4 6,3 6,1 6-1 6-1 6-1 6,2 6,3 6,4 6,5 6,5 6,6 6,5 6,5 6,4 6,4 6,2 6,0 6-1 6,0 6,0 6,0 6-1 6-2 6-1 6-1 6-2 6-2 6-3 6-3 6-2 6-2 6,1 6,2 6,5 6,6 6,6 6,5 6,3 6,0 6,0 6,0 6,1 6,0 6,0 6-1 6-4 6-5 6-4 6-4 6-5 6-5 6-5 6-4 6-5 6-4 6-4 6-3 6-3 6-1 6,0 6-1 6,0 6-2 6-1 6-1 6-1 6-2 6-2 6-3 6-4 6-4 6-5 6-6 6-6 6-6 6-5 6-4 6-3 6,0 6,1 6,1 6,0 6-1 6-2 6-2 6,0 6,1 6,2 6,1 6,1 6,0 2,0"/>
<path d="M272,835l6-1 6-2 6-2 6-3 6-3 6-1 6-1 6-1 6,0 6,0 6,1 6,0 6-1 6-1 6,0 6-1 6-1 6-1 6-2 6,0 6,0 6-1 6-1 6-2 6-2 6-1 6,0 6,0 6,1 6,1 6,1 6,0 6-1 6-1 6-1 6,1 6,1 6,2 6,0 6-2 6-2 6-4 6-4 6-4 6-5 6-4 6-3 6-3 6-3 6-4 6-2 6,0 6,1 6,2 6,2 6,5 6,5 6,6 6,6 6,4 6,2 6,2 6,4 6,5 6,7 6,9 6,9 6,8 6,8 6,8 6,10 6,9 6,7 6,4 6,0 6,0 6-1 6-3 6-7 6-12 6-24 6-42 6-30 6-20 6-18 6-18 6-15 6-11 6-9 6-8 6-8 6-8 6-6 6-5 6-8 6-11 6-13 6-12 6-7 6-1 6,3 6,6 6,7 6,5 6-4 6-11 6-13 6-12 6-8 6-9 6-11 6-11 6-14 6-12 6-13 6-9 6-3 6,0 6,3 6,9 6,24 6,40 6,39 6,40 6,27 6,22 6,19 6,17 6,18 6,16 6,13 6,8 6,6 6,5 6,5 6,2 6,2 6,1 6,0 6-1 6,0 6,0 6-1 6-3 6-3 6-2 6-2 6-2 6-1 6-3 6-3 6-2 6-3 6-1 6,1 6,2 6,3 6,3 6,3 6,4 6,4 6,5 6,7 6,8 6,8 6,8 6,8 6,8 6,8 6,8 6,7 6,6 6,4 6,2 6,2 6,1 6-1 6-1 6-3 6-1 6-2 6-3 6-2 6-3 6-4 6-3 6-5 6-7 6-7 6-5 6-2 6,1 6,1 6,0 6-1 6-3 6-2 6,1 6,4 6,8 6,9 6,10 6,9 6,8 6,6 6,6 6,4 6,5 6,5 6,4 6,4 6,3 6,1 6-2 6-4 6-5 6-6 6-4 6-6 6-6 6-8 6-8 6-8 6-7 6-7 6-7 6-7 6-6 6-5 6-3 6,0 6,1 6,0 6-1 6-2 6-2 6-1 6-1 6,0 6-1 6-1 6-1 6-2 6-2 6-2 6-1 6-2 6-2 6-2 6-1 6-3 6-3 6-3 6-2 6,0 6,1 6,0 6,0 6-2 6-3 6-5 6-5 6-5 6-7 6-5 6-6 6-4 6-4 6-4 6-5 6-5 6-3 6,0 6,0 6,1 6-1 6-1 6-1 6,1 6,2 6,4 2,1"/>
<path d="M272,786l6,0 6-1 6-1 6,0 6,0 6,0 6,0 6,0 6,1 6,1 6,1 6,0 6,0 6-1 6-1 6-2 6-1 6,0 6,0 6,1 6,1 6,1 6-1 6-2 6-1 6,1 6,1 6,1 6-1 6-2 6-3 6-2 6-1 6,0 6,1 6,0 6,0 6,0 6,1 6,2 6,0 6-1 6-2 6,0 6,0 6,2 6,3 6,3 6,5 6,5 6,4 6,3 6,2 6,1 6,2 6,6 6,9 6,12 6,13 6,11 6,8 6,7 6,6 6,5 6,4 6,5 6,5 6,4 6,5 6,5 6,10 6,12 6,10 6,6 6,2 6,1 6,0 6-3 6-6 6-11 6-16 6-27 6-26 6-22 6-21 6-19 6-15 6-13 6-12 6-10 6-11 6-10 6-9 6-8 6-11 6-12 6-15 6-16 6-14 6-13 6-11 6-12 6-15 6-17 6-25 6-31 6-35 6-36 6-27 6-20 6-15 6-10 6-6 6,2 6,6 6,7 6,8 6,10 6,9 6,12 6,23 6,39 6,43 6,43 6,30 6,23 6,20 6,21 6,25 6,26 6,26 6,23 6,21 6,16 6,11 6,7 6,6 6,7 6,7 6,7 6,6 6,6 6,4 6,2 6,1 6,0 6-1 6,0 6-3 6-6 6-7 6-9 6-9 6-8 6-8 6-6 6-5 6-3 6,1 6,2 6,3 6,2 6,3 6,2 6,1 6,1 6,1 6,2 6,2 6,2 6,2 6,4 6,5 6,5 6,6 6,7 6,8 6,7 6,6 6,6 6,5 6,3 6,1 6-1 6,0 6,0 6,1 6,1 6,1 6,0 6,0 6,3 6,5 6,6 6,5 6,5 6,3 6,1 6-1 6-2 6-1 6,1 6,2 6,4 6,2 6,2 6,1 6,2 6,1 6,1 6,1 6-1 6-1 6-2 6-3 6-3 6-4 6-3 6-5 6-5 6-6 6-6 6-6 6-6 6-5 6-7 6-6 6-7 6-6 6-5 6-4 6-3 6-3 6-1 6-1 6-1 6-2 6-3 6-3 6-5 6-4 6-4 6-2 6,0 6,1 6,1 6,1 6-2 6-3 6-5 6-6 6-5 6-4 6-2 6-2 6-1 6-1 6-1 6-2 6-2 6-3 6-3 6-1 6,0 6,0 6,0 6-2 6-2 6-1 6,0 6-1 6-1 6-3 6-4 6-4 6-3 6-2 6-1 6-1 6-1 6-1 2,0"/>
<path d="M272,816l6-1 6-2 6-3 6-3 6-2 6-2 6,0 6,2 6,2 6,2 6,1 6-1 6-4 6-4 6-4 6-3 6-1 6,2 6,3 6,3 6,2 6,1 6,0 6-1 6-3 6-3 6-2 6,1 6,3 6,4 6,4 6,2 6,2 6,2 6,3 6,2 6,0 6-2 6-4 6-4 6-3 6,0 6,1 6,3 6,2 6,3 6,2 6,2 6,1 6,1 6,1 6,0 6-2 6-1 6,1 6,6 6,13 6,17 6,16 6,13 6,7 6,5 6,4 6,3 6,3 6,2 6,2 6,1 6,3 6,4 6,8 6,11 6,10 6,6 6,0 6-1 6-2 6-2 6-3 6-6 6-11 6-22 6-23 6-23 6-23 6-22 6-18 6-16 6-12 6-10 6-8 6-6 6-4 6-5 6-7 6-8 6-9 6-7 6-7 6-6 6-7 6-9 6-10 6-13 6-22 6-29 6-36 6-40 6-32 6-29 6-22 6-17 6-13 6-7 6-4 6,1 6,6 6,12 6,16 6,23 6,39 6,55 6,53 6,48 6,37 6,32 6,28 6,22 6,18 6,13 6,8 6,5 6,0 6,0 6-3 6-4 6-6 6-6 6-6 6-6 6-4 6-4 6-4 6-2 6-1 6,1 6-1 6-1 6-3 6-3 6-1 6-2 6-1 6-1 6-1 6,1 6,2 6,4 6,4 6,4 6,5 6,5 6,5 6,5 6,3 6,3 6,3 6,2 6,1 6,1 6,0 6,2 6,3 6,3 6,3 6,4 6,5 6,8 6,7 6,6 6,2 6,1 6,0 6,1 6,4 6,5 6,7 6,6 6,5 6,4 6,4 6,5 6,3 6,3 6,1 6,1 6,3 6,5 6,6 6,6 6,4 6,2 6,1 6,1 6,1 6,0 6,2 6,2 6,5 6,4 6,3 6,2 6,0 6,0 6,0 6,0 6-1 6-1 6-1 6,0 6-1 6,0 6-1 6,1 6,2 6,2 6,1 6-1 6-2 6-2 6-3 6-4 6-4 6-4 6-2 6,1 6,1 6,1 6-2 6-3 6-3 6-2 6,0 6,1 6,2 6,2 6,0 6-3 6-4 6-5 6-2 6,0 6,1 6,0 6,1 6,0 6-1 6-2 6-2 6-4 6-3 6-3 6-2 6-3 6-4 6-4 6-3 6-1 6,0 6,0 6,1 6,1 6,2 6,4 6,4 6,4 6,4 6,2 6,0 6,0 6-1 2,0"/>
<path d="M272,788l6,1 6,4 6,2 6,1 6,0 6,1 6,1 6,2 6,0 6,1 6-1 6-1 6-1 6-2 6-2 6-1 6-1 6,0 6-1 6-2 6-3 6-3 6,0 6,0 6,1 6,1 6,2 6,2 6,2 6,2 6,1 6,0 6,0 6-1 6-2 6-3 6-4 6-4 6-1 6,2 6,4 6,5 6,7 6,7 6,7 6,5 6,5 6,4 6,3 6,2 6,3 6,5 6,5 6,6 6,5 6,10 6,11 6,10 6,8 6,5 6,0 6-2 6-2 6-3 6-4 6-2 6-1 6,0 6,2 6,5 6,13 6,18 6,18 6,16 6,9 6,9 6,6 6,3 6-1 6-7 6-14 6-24 6-27 6-28 6-27 6-25 6-22 6-19 6-16 6-12 6-10 6-7 6-4 6-5 6-7 6-10 6-13 6-13 6-11 6-7 6-6 6-7 6-8 6-11 6-19 6-23 6-27 6-26 6-19 6-16 6-13 6-10 6-10 6-7 6-7 6-4 6,2 6,5 6,7 6,12 6,27 6,40 6,39 6,37 6,26 6,21 6,20 6,20 6,21 6,20 6,17 6,15 6,11 6,8 6,6 6,4 6,6 6,6 6,6 6,7 6,8 6,7 6,6 6,4 6,3 6,1 6,0 6-1 6-3 6-5 6-5 6-5 6-5 6-5 6-5 6-6 6-5 6-5 6-2 6-1 6,1 6,2 6,0 6,0 6,0 6,1 6,3 6,4 6,2 6,2 6,0 6-1 6-1 6-1 6-1 6,1 6,2 6,4 6,4 6,6 6,5 6,6 6,6 6,7 6,9 6,9 6,8 6,7 6,7 6,6 6,6 6,6 6,5 6,4 6,4 6,2 6,1 6,2 6,1 6,1 6,0 6,0 6-1 6-1 6,0 6,2 6,3 6,4 6,4 6,3 6,1 6,0 6-1 6-1 6,0 6,2 6,3 6,3 6,4 6,4 6,4 6,5 6,4 6,3 6,3 6,2 6,2 6,1 6,1 6,1 6,0 6-1 6-2 6-2 6-2 6-4 6-4 6-3 6-3 6-1 6,1 6,4 6,4 6,4 6,2 6-1 6-1 6-2 6,0 6-1 6-1 6-1 6,0 6,1 6,1 6,0 6,0 6,0 6,0 6,2 6,1 6,0 6,0 6,0 6,2 6,2 6,4 6,5 6,5 6,5 6,3 6,2 6,1 6,4 6,5 6,6 6,6 6,3 6,1 6,0 6,0 2,1"/>
<path d="M272,796l6,1 6,3 6,3 6,2 6,0 6-2 6-3 6-4 6-3 6-3 6-2 6-2 6-1 6-1 6-2 6-3 6-3 6-2 6-1 6,1 6,1 6,2 6,2 6,2 6,3 6,2 6,1 6-1 6-1 6,0 6,0 6,0 6-1 6,0 6,1 6,0 6,1 6,0 6-1 6-1 6-3 6-3 6-3 6-4 6-3 6-2 6-1 6,0 6,1 6,0 6,1 6,1 6,1 6,2 6,3 6,6 6,8 6,10 6,10 6,9 6,5 6,4 6,2 6,1 6,2 6,2 6,3 6,3 6,4 6,4 6,6 6,6 6,4 6,1 6-1 6-4 6-5 6-4 6-3 6-6 6-11 6-23 6-15 6-8 6-8 6-7 6-4 6-3 6-3 6-2 6-5 6-5 6-6 6-5 6-6 6-6 6-6 6-6 6-4 6-3 6-2 6-2 6-1 6-2 6-10 6-14 6-16 6-16 6-12 6-11 6-11 6-8 6-9 6-8 6-12 6-4 6,5 6,9 6,9 6,14 6,25 6,36 6,27 6,26 6,21 6,20 6,17 6,14 6,13 6,13 6,12 6,12 6,9 6,6 6,4 6,6 6,6 6,5 6,4 6,5 6,4 6,3 6,0 6-1 6-4 6-3 6-2 6,0 6,0 6-1 6-2 6-1 6,0 6,2 6,3 6,3 6,2 6,1 6,0 6,1 6,1 6,1 6,1 6,3 6,1 6,2 6,0 6,0 6,1 6,1 6,2 6,1 6,1 6-1 6,0 6,1 6,2 6,4 6,5 6,5 6,5 6,3 6,2 6-1 6-2 6-3 6-3 6-2 6-2 6-1 6,0 6,0 6,0 6,0 6,0 6,0 6-1 6,0 6,0 6,2 6,1 6,2 6,2 6,2 6,3 6,1 6-1 6-2 6-4 6-5 6-4 6-3 6-2 6-2 6-2 6-2 6-2 6,0 6,0 6,2 6,2 6,3 6,3 6,3 6,2 6,3 6,2 6,1 6,0 6,0 6,1 6,2 6,4 6,4 6,4 6,1 6,0 6,0 6-1 6,0 6,0 6-1 6-3 6-3 6-5 6-6 6-5 6-5 6-4 6-3 6-3 6-1 6,0 6,2 6,3 6,4 6,3 6,4 6,4 6,6 6,6 6,4 6,3 6,1 6,1 6,1 6,0 6-2 6-3 6-5 6-6 6-7 6-6 6-6 6-6 6-5 6-5 6-4 6,0 6,1 6,1 2,0"/>
<path d="M272,798l6,0 6,2 6,2 6,3 6,2 6,0 6-1 6-2 6-2 6-2 6-1 6-1 6,0 6-1 6-1 6-1 6,0 6,0 6,1 6,0 6-1 6-2 6-1 6-1 6,0 6-1 6-1 6-1 6-1 6-1 6-1 6-1 6,0 6,0 6,0 6,1 6,0 6,0 6-2 6-4 6-4 6-4 6-2 6-1 6-2 6-2 6-2 6-1 6,0 6-1 6-1 6-3 6-1 6,1 6,3 6,7 6,8 6,6 6,5 6,2 6,2 6,2 6,3 6,6 6,8 6,10 6,12 6,11 6,8 6,5 6,6 6,7 6,7 6,7 6,4 6,5 6,3 6,3 6,0 6-6 6-13 6-26 6-21 6-18 6-18 6-20 6-17 6-15 6-11 6-7 6-4 6-3 6-3 6-4 6-9 6-10 6-12 6-11 6-9 6-6 6-4 6-4 6-5 6-10 6-19 6-24 6-27 6-27 6-18 6-16 6-13 6-9 6-6 6,0 6,3 6,7 6,14 6,20 6,21 6,26 6,38 6,46 6,36 6,29 6,20 6,14 6,10 6,6 6,8 6,8 6,8 6,6 6,5 6,3 6,2 6,0 6,3 6,3 6,5 6,5 6,3 6,2 6,0 6,0 6,1 6-1 6-1 6-2 6-2 6-1 6-2 6-2 6-4 6-4 6-7 6-6 6-4 6,0 6,2 6,3 6,3 6,2 6,1 6,1 6,1 6,1 6,1 6,1 6,1 6,0 6-1 6-1 6-3 6-4 6-4 6-3 6-1 6,1 6,3 6,6 6,7 6,7 6,5 6,3 6,2 6,1 6,0 6-1 6,1 6,2 6,3 6,5 6,5 6,7 6,7 6,9 6,10 6,8 6,8 6,7 6,6 6,6 6,4 6,4 6,1 6,0 6-2 6-2 6-3 6-3 6-2 6-2 6-1 6-2 6-2 6-1 6-1 6,1 6,1 6,3 6,3 6,2 6,1 6,0 6,0 6,0 6,1 6,1 6,1 6,2 6,1 6,2 6,2 6,2 6,2 6,4 6,4 6,5 6,4 6,2 6,2 6,2 6,4 6,5 6,4 6,3 6,1 6-1 6-3 6-6 6-7 6-6 6-5 6-3 6-1 6,0 6,1 6,2 6,1 6,1 6,1 6,1 6,1 6,2 6,1 6,1 6,0 6,0 6,0 6-1 6,0 6-1 6-1 6,0 6-1 6,0 6,0 6-1 6,0 6-1 6-1 2,0"/>
<path d="M272,800l6-1 6-2 6-2 6-1 6-2 6,0 6,0 6,0 6,1 6,1 6,1 6,2 6,1 6,0 6-1 6,0 6,0 6,1 6,3 6,3 6,3 6,0 6-1 6-2 6-3 6-4 6-3 6-2 6-2 6-1 6,0 6,0 6,0 6,1 6,0 6,0 6,0 6-1 6-3 6-2 6-2 6,0 6,1 6,1 6,2 6,2 6,2 6,1 6,3 6,3 6,3 6,3 6,1 6,1 6,1 6,4 6,6 6,7 6,6 6,4 6,1 6-1 6-1 6,0 6,0 6,3 6,4 6,6 6,5 6,4 6,6 6,5 6,4 6,2 6,2 6,0 6,1 6-1 6-3 6-7 6-16 6-29 6-21 6-15 6-15 6-17 6-14 6-10 6-6 6-1 6,1 6,1 6,1 6,0 6-3 6-6 6-9 6-10 6-11 6-8 6-8 6-7 6-7 6-8 6-16 6-19 6-21 6-21 6-14 6-11 6-8 6-3 6-1 6,4 6,5 6,9 6,19 6,23 6,23 6,29 6,42 6,51 6,37 6,31 6,28 6,24 6,18 6,10 6,7 6,7 6,5 6,0 6-6 6-8 6-5 6,0 6,2 6,2 6,2 6,3 6,2 6,1 6,1 6,0 6-1 6,0 6,0 6,1 6,1 6,0 6,1 6-1 6-2 6-5 6-5 6-4 6-2 6,2 6,3 6,5 6,3 6,3 6,1 6,1 6-1 6,0 6,0 6,0 6,0 6,1 6,1 6,2 6,3 6,3 6,2 6,3 6,3 6,2 6,2 6,0 6,1 6,3 6,5 6,7 6,6 6,4 6,3 6,2 6,2 6,3 6,4 6,4 6,3 6,3 6,3 6,1 6,1 6,1 6,0 6,0 6-1 6-2 6,0 6,0 6,1 6-1 6-2 6-2 6-2 6-1 6,0 6,1 6,2 6,2 6,2 6,3 6,2 6,2 6,1 6,1 6,0 6,0 6,1 6,2 6,3 6,3 6,2 6,1 6,1 6,1 6,0 6,0 6-1 6-4 6-5 6-5 6-4 6-3 6-2 6-4 6-6 6-7 6-7 6-9 6-8 6-9 6-8 6-5 6-3 6-2 6-4 6-5 6-7 6-7 6-6 6-3 6,0 6,2 6,2 6,1 6,0 6-2 6-3 6-3 6-4 6-3 6-1 6-1 6,0 6-1 6-2 6-2 6-3 6-4 6-5 6-4 6-4 6-2 6,0 6,1 6,1 2,0"/>
<path d="M272,812l6,0 6,2 6,2 6,3 6,2 6,1 6,2 6,3 6,3 6,1 6,0 6-3 6-3 6-3 6-3 6-2 6-2 6-3 6-1 6,0 6,1 6,0 6,0 6-2 6-2 6-1 6-2 6-2 6-1 6,0 6,2 6,1 6,2 6,1 6-1 6-2 6-2 6,0 6,2 6,3 6,4 6,4 6,4 6,3 6,2 6,1 6,0 6,1 6,1 6,0 6,1 6,1 6,2 6,2 6,2 6,6 6,10 6,12 6,10 6,5 6,0 6-2 6-1 6-2 6,0 6,1 6,2 6,2 6,1 6,1 6,3 6,5 6,4 6,1 6-2 6-1 6-2 6-3 6-6 6-12 6-24 6-44 6-32 6-21 6-19 6-20 6-15 6-10 6-6 6-3 6,0 6,0 6,0 6-1 6-7 6-10 6-11 6-12 6-11 6-8 6-7 6-6 6-8 6-11 6-20 6-27 6-33 6-32 6-17 6-10 6-4 6-1 6,2 6,7 6,7 6,9 6,13 6,15 6,16 6,20 6,32 6,45 6,39 6,37 6,28 6,22 6,18 6,15 6,15 6,13 6,11 6,8 6,6 6,3 6,3 6,2 6,1 6,0 6,0 6-2 6-3 6-3 6-3 6-2 6-3 6-2 6-2 6-2 6-1 6-2 6-4 6-4 6-5 6-4 6-4 6-4 6-3 6-3 6-1 6,0 6,4 6,5 6,8 6,8 6,7 6,7 6,5 6,6 6,6 6,8 6,9 6,9 6,8 6,9 6,8 6,6 6,4 6,1 6-1 6-4 6-3 6-4 6-4 6-6 6-7 6-9 6-8 6-7 6-6 6-3 6-1 6,3 6,5 6,4 6,4 6,4 6,4 6,6 6,6 6,6 6,5 6,4 6,3 6,3 6,1 6,0 6,1 6,1 6,1 6,1 6,0 6,0 6,0 6,0 6,1 6,0 6,0 6-1 6-1 6-3 6-4 6-5 6-2 6-1 6,2 6,3 6,4 6,5 6,4 6,3 6,2 6,2 6,3 6,3 6,3 6,2 6,1 6,0 6-1 6-1 6-2 6-3 6-4 6-7 6-9 6-12 6-13 6-15 6-14 6-13 6-11 6-8 6-6 6-5 6-2 6-1 6,1 6,2 6,1 6-1 6-1 6-3 6-3 6-2 6-2 6-1 6-2 6-2 6-4 6-4 6-5 6-4 6-5 6-5 6-3 6-3 6-1 6,1 6,1 6,3 6,3 2,1"/>
<path d="M272,821l6-2 6-2 6-2 6-2 6,0 6,1 6,2 6,1 6,0 6-2 6-2 6-4 6-3 6-3 6-2 6-1 6-1 6-1 6,0 6,0 6,1 6,1 6,1 6,0 6-1 6-2 6-2 6-1 6,0 6,2 6,1 6,1 6-1 6-2 6-2 6-1 6,0 6,1 6,1 6,0 6-1 6-3 6-4 6-3 6-2 6,0 6,1 6,2 6,2 6,2 6,3 6,2 6,2 6,3 6,2 6,6 6,10 6,10 6,10 6,7 6,5 6,4 6,4 6,3 6,2 6,3 6,3 6,3 6,3 6,4 6,9 6,13 6,15 6,12 6,9 6,5 6,3 6,0 6-2 6-4 6-8 6-17 6-14 6-15 6-16 6-15 6-15 6-13 6-10 6-6 6-6 6-4 6-3 6-4 6-6 6-8 6-9 6-9 6-9 6-8 6-7 6-8 6-7 6-8 6-12 6-14 6-13 6-12 6-9 6-8 6-6 6-3 6-1 6-2 6-9 6-3 6,7 6,10 6,7 6,11 6,21 6,28 6,18 6,17 6,12 6,10 6,6 6,3 6,6 6,8 6,8 6,7 6,6 6,6 6,5 6,4 6,4 6,3 6,2 6,3 6,3 6,2 6,1 6,1 6,1 6-1 6-1 6-2 6-2 6-1 6-1 6-2 6-2 6-3 6-2 6-2 6,0 6,1 6,3 6,5 6,5 6,6 6,5 6,5 6,4 6,4 6,4 6,5 6,6 6,7 6,8 6,8 6,7 6,7 6,6 6,6 6,6 6,4 6,3 6,1 6,0 6-1 6-1 6-1 6,0 6,2 6,2 6,1 6,1 6,2 6,0 6,0 6-2 6-4 6-4 6-3 6-4 6-2 6-2 6-1 6-2 6-4 6-4 6-5 6-5 6-3 6-3 6-3 6-3 6-4 6-4 6-5 6-5 6-6 6-8 6-8 6-7 6-6 6-5 6-3 6-3 6-2 6-1 6-1 6-2 6-1 6,0 6,0 6,2 6,1 6,1 6,0 6,1 6,0 6,1 6,2 6,4 6,5 6,7 6,8 6,8 6,8 6,8 6,8 6,7 6,6 6,5 6,3 6,3 6,2 6,3 6,2 6,2 6,2 6,2 6,2 6,2 6,3 6,4 6,4 6,3 6,3 6,1 6,2 6,3 6,5 6,6 6,6 6,4 6,2 6,1 6,0 6,1 6,1 6,2 6,1 6,1 6,0 6,1 6,1 6,1 2,1"/>
<path d="M272,763l6-1 6-2 6-3 6-3 6-3 6-2 6-1 6,0 6,0 6,1 6,1 6,2 6,1 6,1 6,1 6,2 6,3 6,4 6,3 6,3 6,1 6,1 6,1 6,2 6,3 6,4 6,3 6,1 6,1 6,0 6,0 6,0 6,1 6,2 6,3 6,3 6,2 6,1 6,1 6,1 6,0 6-1 6-2 6-1 6-1 6,0 6,2 6,3 6,4 6,3 6,2 6,0 6-2 6-3 6-1 6,3 6,8 6,10 6,9 6,6 6,2 6,0 6-1 6-1 6,1 6,3 6,4 6,6 6,5 6,4 6,5 6,4 6,3 6,0 6-1 6-3 6-5 6-6 6-8 6-13 6-28 6-52 6-33 6-18 6-17 6-17 6-13 6-7 6-4 6-2 6-1 6,0 6-1 6-1 6-5 6-9 6-10 6-7 6-2 6,2 6,3 6,2 6-2 6-5 6-16 6-24 6-31 6-33 6-23 6-20 6-16 6-14 6-11 6-4 6-1 6,3 6,7 6,9 6,9 6,12 6,23 6,38 6,39 6,38 6,23 6,15 6,13 6,13 6,16 6,17 6,16 6,14 6,14 6,9 6,4 6-1 6,0 6,1 6,4 6,4 6,4 6,3 6-1 6-5 6-7 6-7 6-6 6-3 6-3 6-4 6-5 6-6 6-8 6-7 6-7 6-4 6-3 6-1 6,3 6,5 6,7 6,7 6,5 6,2 6,2 6,2 6,2 6,3 6,3 6,2 6,3 6,3 6,2 6,1 6,0 6,0 6-2 6-3 6-3 6-2 6,0 6,2 6,4 6,4 6,3 6,2 6,2 6,2 6,3 6,4 6,4 6,3 6,2 6,3 6,3 6,4 6,4 6,5 6,5 6,5 6,7 6,7 6,8 6,7 6,5 6,3 6,2 6,2 6,3 6,4 6,2 6,0 6-4 6-7 6-8 6-8 6-5 6-3 6-1 6,1 6,2 6,3 6,2 6,1 6,0 6,0 6,2 6,2 6,3 6,1 6,0 6-3 6-3 6-2 6-1 6,0 6,0 6,0 6-2 6-3 6-4 6-4 6-4 6-4 6-3 6-3 6-4 6-4 6-4 6-4 6-3 6-3 6-3 6-3 6-1 6,0 6-1 6-1 6-3 6-2 6-2 6-2 6-2 6-2 6-2 6-1 6-2 6-3 6-4 6-4 6-1 6,1 6,4 6,4 6,5 6,3 6,2 6,2 6,2 6,3 6,3 2,1"/>
<path d="M272,819l6-1 6-2 6-2 6-3 6-2 6-2 6-2 6-1 6,0 6,0 6-1 6-1 6-2 6-1 6-1 6,0 6-1 6-2 6-2 6-2 6-4 6-3 6-3 6-1 6-1 6-1 6-1 6-1 6-1 6,0 6,1 6,1 6,0 6,1 6,0 6,1 6,0 6-2 6-2 6-3 6-3 6-2 6-1 6,0 6-1 6,0 6,1 6,0 6,0 6-1 6-1 6-1 6-1 6,1 6,0 6,4 6,7 6,8 6,8 6,6 6,3 6,3 6,2 6,4 6,4 6,6 6,7 6,7 6,9 6,9 6,11 6,11 6,8 6,6 6,2 6,0 6-2 6-2 6-3 6-5 6-11 6-20 6-14 6-10 6-11 6-13 6-12 6-13 6-11 6-8 6-8 6-6 6-6 6-5 6-8 6-11 6-12 6-12 6-10 6-9 6-7 6-9 6-10 6-12 6-19 6-26 6-31 6-34 6-28 6-27 6-23 6-21 6-18 6-11 6-8 6-4 6-2 6,2 6,6 6,13 6,29 6,48 6,52 6,50 6,33 6,24 6,22 6,24 6,25 6,26 6,24 6,18 6,15 6,9 6,6 6,3 6,1 6,0 6-1 6-1 6,0 6,0 6,1 6,1 6,0 6-1 6-2 6-1 6-3 6-3 6-3 6-3 6-3 6-3 6-4 6-6 6-4 6-2 6,3 6,6 6,8 6,8 6,7 6,7 6,6 6,6 6,4 6,4 6,4 6,7 6,9 6,11 6,9 6,8 6,6 6,6 6,5 6,5 6,5 6,4 6,4 6,2 6,2 6,0 6,1 6,2 6,3 6,4 6,3 6,2 6,0 6,0 6,1 6,3 6,3 6,3 6,1 6,1 6,1 6,2 6,4 6,5 6,7 6,5 6,4 6,3 6,2 6,0 6,0 6-1 6-3 6-3 6-3 6-1 6,0 6,0 6-2 6-3 6-5 6-4 6-4 6-3 6-2 6-4 6-4 6-5 6-4 6-3 6-3 6-2 6-2 6-3 6-4 6-4 6-2 6-2 6-2 6-2 6-2 6-2 6-3 6-3 6-3 6-3 6-3 6-3 6-5 6-7 6-8 6-7 6-4 6-1 6,0 6,1 6,0 6,1 6,1 6,3 6,3 6,5 6,7 6,6 6,6 6,5 6,5 6,3 6,1 6-1 6-4 6-5 6-4 6-1 6-1 6,0 6-2 6-2 6-2 6-1 6,1 6,1 6,1 2,1"/>
<path d="M272,791l6-1 6-1 6-1 6,0 6,2 6,3 6,2 6,0 6-3 6-4 6-3 6-3 6-1 6,2 6,4 6,4 6,4 6,3 6,0 6-1 6-3 6-3 6-5 6-5 6-3 6-1 6,0 6,0 6,0 6,1 6,2 6,2 6,0 6-1 6-3 6-2 6-1 6-1 6-2 6-2 6-3 6-2 6-3 6-2 6-4 6-3 6-1 6,1 6,3 6,3 6,3 6,2 6,1 6,2 6,2 6,6 6,7 6,10 6,10 6,9 6,7 6,6 6,5 6,4 6,4 6,5 6,7 6,6 6,6 6,5 6,7 6,7 6,6 6,2 6-1 6-3 6-4 6-3 6-4 6-7 6-17 6-30 6-24 6-18 6-19 6-20 6-17 6-12 6-11 6-7 6-6 6-5 6-3 6-3 6-6 6-8 6-9 6-9 6-8 6-6 6-7 6-7 6-8 6-12 6-21 6-29 6-35 6-36 6-26 6-22 6-18 6-16 6-13 6-5 6,1 6,4 6,7 6,9 6,11 6,15 6,29 6,47 6,50 6,48 6,34 6,26 6,22 6,21 6,21 6,21 6,19 6,15 6,12 6,9 6,7 6,3 6,3 6,2 6,2 6,2 6,5 6,4 6,2 6,1 6-1 6-2 6-2 6-3 6-4 6-6 6-6 6-5 6-5 6-4 6-3 6-3 6-3 6,0 6,3 6,7 6,12 6,14 6,13 6,11 6,8 6,5 6,4 6,4 6,3 6,3 6,4 6,3 6,3 6,2 6,1 6,3 6,4 6,5 6,6 6,5 6,6 6,4 6,3 6,3 6,1 6,1 6,1 6,0 6-1 6-4 6-5 6-5 6-5 6-3 6-3 6-1 6-2 6-2 6-4 6-4 6-3 6-1 6,1 6,2 6,2 6,2 6,0 6-1 6-2 6-1 6-1 6-1 6,0 6-1 6,0 6-1 6-1 6-3 6-5 6-5 6-3 6-2 6-2 6-3 6-3 6-4 6-3 6-2 6-3 6-4 6-5 6-4 6-4 6-3 6-4 6-3 6-1 6,1 6,4 6,5 6,5 6,3 6,0 6-1 6-1 6-1 6-1 6-1 6-2 6-4 6-3 6-1 6,0 6,0 6,1 6,1 6,0 6,1 6,3 6,3 6,5 6,4 6,4 6,4 6,4 6,4 6,4 6,5 6,4 6,4 6,3 6,3 6,3 6,4 6,2 6,1 6,1 6,0 6,0 6,1 6,0 2,0"/>
<path d="M272,813l6,0 6-1 6,0 6-1 6,0 6,1 6,2 6,2 6,1 6,2 6,0 6,1 6-1 6-1 6-1 6-1 6-1 6,0 6,0 6,1 6,3 6,2 6,1 6-2 6-4 6-3 6-2 6,0 6,2 6,5 6,4 6,2 6,0 6-3 6-4 6-2 6-2 6-2 6-2 6-1 6-2 6,0 6,0 6,1 6,1 6-1 6-2 6-1 6,0 6,2 6,4 6,3 6,2 6,2 6,1 6,6 6,10 6,14 6,14 6,12 6,9 6,6 6,3 6,2 6,0 6-1 6-2 6-1 6-1 6,3 6,9 6,11 6,11 6,6 6,3 6,1 6,0 6-1 6-2 6-5 6-12 6-22 6-19 6-18 6-17 6-18 6-16 6-15 6-13 6-10 6-8 6-8 6-7 6-7 6-8 6-11 6-11 6-12 6-10 6-9 6-8 6-7 6-7 6-8 6-15 6-20 6-24 6-26 6-21 6-19 6-18 6-16 6-17 6-13 6-12 6-8 6-4 6,0 6,4 6,10 6,25 6,45 6,48 6,49 6,36 6,29 6,24 6,21 6,19 6,14 6,11 6,8 6,7 6,7 6,6 6,3 6,2 6,2 6,3 6,4 6,4 6,4 6,3 6,2 6,0 6,0 6-2 6-3 6-5 6-7 6-7 6-9 6-7 6-7 6-5 6-5 6-3 6-2 6,0 6,2 6,4 6,5 6,5 6,5 6,4 6,5 6,5 6,4 6,3 6,4 6,3 6,4 6,3 6,3 6,3 6,4 6,4 6,3 6,2 6,2 6,1 6,1 6,1 6,0 6,0 6,1 6-1 6,0 6,1 6,2 6,4 6,5 6,5 6,6 6,5 6,6 6,6 6,6 6,6 6,7 6,6 6,6 6,5 6,5 6,4 6,5 6,4 6,3 6,2 6,1 6,0 6,0 6,0 6,0 6,0 6-1 6,0 6-2 6-1 6,0 6,1 6,1 6,0 6-1 6-2 6-3 6-3 6-4 6-3 6-1 6,1 6,1 6,0 6,0 6-2 6-2 6-2 6-1 6-2 6-2 6-2 6-2 6-2 6-2 6-1 6,0 6,2 6,3 6,2 6,1 6,0 6-2 6-2 6-1 6-2 6-1 6-1 6-1 6-1 6-1 6-1 6-1 6,0 6-1 6-2 6-2 6-2 6-4 6-4 6-6 6-6 6-6 6-5 6-6 6-6 6-8 6-9 6-8 6-6 6-3 6-1 2,0"/>
<path d="M272,742l6,0 6-2 6,0 6,1 6,2 6,3 6,2 6,0 6,0 6,0 6-1 6,1 6,2 6,1 6,2 6,0 6,0 6,1 6,2 6,1 6,2 6,3 6,2 6,3 6,1 6,1 6,0 6,1 6,1 6,0 6-1 6-3 6-3 6-3 6-2 6-1 6,1 6,2 6,1 6,0 6,0 6,1 6,1 6,2 6,1 6-1 6-1 6-2 6-1 6,1 6,2 6,1 6,0 6-1 6-1 6,2 6,5 6,6 6,7 6,6 6,6 6,6 6,7 6,7 6,6 6,7 6,7 6,8 6,7 6,9 6,12 6,14 6,12 6,7 6,2 6-1 6-2 6-3 6-5 6-10 6-20 6-36 6-29 6-23 6-20 6-20 6-16 6-11 6-8 6-4 6-2 6-1 6,1 6,1 6-1 6-1 6-1 6,2 6,2 6,3 6,2 6-1 6-5 6-9 6-17 6-22 6-24 6-26 6-21 6-19 6-16 6-13 6-10 6-5 6-5 6,3 6,11 6,16 6,21 6,29 6,44 6,55 6,48 6,46 6,37 6,35 6,28 6,18 6,13 6,9 6,5 6,2 6,1 6-1 6-3 6-7 6-8 6-9 6-7 6-6 6-4 6-3 6-3 6-2 6-1 6-1 6,0 6,0 6-1 6-1 6-1 6-3 6-2 6-3 6-2 6-3 6-4 6-5 6-4 6-4 6-2 6-2 6-1 6-1 6-1 6,0 6,0 6,0 6,0 6-1 6-2 6-2 6-3 6-4 6-2 6-2 6,0 6,1 6,2 6,1 6,1 6,0 6,1 6,2 6,2 6,3 6,1 6,1 6-1 6-2 6-1 6-1 6,1 6,1 6,2 6,1 6,2 6,1 6,2 6,2 6,4 6,4 6,4 6,3 6,3 6,0 6,0 6,2 6,3 6,6 6,6 6,5 6,2 6,2 6,1 6,1 6,2 6,1 6,1 6,2 6,3 6,2 6,1 6-1 6-2 6-1 6-2 6-2 6-1 6-2 6-2 6-2 6-2 6-2 6-1 6,0 6,0 6,1 6,2 6,3 6,4 6,5 6,5 6,5 6,5 6,4 6,4 6,5 6,6 6,6 6,5 6,4 6,3 6,3 6,2 6,1 6,0 6,2 6,3 6,6 6,6 6,8 6,7 6,8 6,6 6,6 6,4 6,2 6-1 6-2 6-2 6-3 6-1 6,0 6,1 6,1 6,1 6,1 6,0 6,1 6,1 2,1"/>
<path d="M272,739l6,1 6,1 6,2 6,1 6,1 6,1 6-1 6-1 6,0 6,0 6,1 6,1 6,1 6,0 6,2 6,1 6,2 6,2 6,2 6,0 6,0 6,1 6,1 6,3 6,2 6,1 6,0 6-1 6,0 6,1 6,1 6,1 6-1 6-3 6-3 6-3 6-1 6-2 6-2 6-1 6,0 6,1 6,1 6,0 6,0 6,0 6,2 6,2 6,2 6,2 6,0 6-1 6-3 6-3 6-2 6,1 6,3 6,4 6,2 6,4 6,4 6,6 6,7 6,8 6,9 6,11 6,13 6,13 6,11 6,9 6,11 6,12 6,14 6,11 6,10 6,7 6,5 6,3 6,0 6-5 6-11 6-22 6-19 6-16 6-16 6-17 6-18 6-19 6-18 6-17 6-15 6-13 6-9 6-8 6-9 6-12 6-14 6-15 6-14 6-10 6-9 6-10 6-10 6-14 6-22 6-28 6-33 6-33 6-21 6-16 6-12 6-9 6-6 6-1 6,1 6,4 6,8 6,13 6,15 6,20 6,35 6,49 6,46 6,43 6,31 6,27 6,22 6,18 6,16 6,12 6,8 6,7 6,5 6,4 6,0 6-4 6-5 6-5 6-4 6-4 6-1 6-1 6-1 6-2 6-3 6-5 6-4 6-4 6-3 6-3 6-2 6-2 6-2 6-3 6-4 6-4 6-3 6-2 6,2 6,3 6,6 6,7 6,6 6,5 6,3 6,1 6,1 6,0 6,3 6,3 6,3 6,2 6,1 6,1 6,2 6,3 6,4 6,3 6,3 6,3 6,2 6,1 6,2 6,2 6,5 6,6 6,8 6,9 6,10 6,10 6,9 6,8 6,5 6,4 6,1 6,0 6,0 6-1 6-1 6,0 6,0 6,0 6,1 6,1 6,2 6,2 6,1 6,2 6,2 6,2 6,4 6,4 6,5 6,8 6,11 6,12 6,12 6,12 6,12 6,9 6,7 6,5 6,3 6,2 6,3 6,1 6-1 6-3 6-4 6-7 6-7 6-6 6-5 6-2 6,0 6,2 6,4 6,5 6,6 6,6 6,4 6,2 6,1 6-1 6-2 6-2 6-3 6-3 6-3 6-4 6-4 6-6 6-7 6-9 6-8 6-7 6-5 6-3 6-3 6-3 6-1 6,0 6,2 6,4 6,6 6,9 6,11 6,13 6,13 6,12 6,10 6,7 6,6 6,3 6,3 6,3 6,4 6,3 6,4 6,2 6,2 2,0"/>
<path d="M272,750l6-1 6,0 6,0 6,1 6,1 6-1 6-2 6-3 6-4 6-4 6-1 6,1 6,2 6,3 6,2 6,2 6,2 6,2 6,2 6,0 6,1 6,0 6,2 6,3 6,4 6,2 6,0 6-1 6-2 6-3 6-3 6-4 6-4 6-3 6-3 6-2 6-1 6-1 6-2 6-2 6-3 6-3 6-3 6-1 6-2 6-1 6-2 6-2 6-2 6-2 6-1 6,1 6,3 6,3 6,3 6,4 6,6 6,8 6,7 6,7 6,7 6,7 6,9 6,8 6,9 6,10 6,11 6,9 6,7 6,4 6,6 6,7 6,5 6,2 6-2 6-4 6-6 6-7 6-6 6-9 6-24 6-47 6-26 6-12 6-13 6-13 6-10 6-5 6-2 6,0 6-1 6-1 6-2 6-3 6-7 6-9 6-11 6-11 6-10 6-7 6-5 6-4 6-5 6-6 6-13 6-20 6-24 6-25 6-13 6-11 6-7 6-4 6-2 6,2 6,3 6,7 6,11 6,13 6,14 6,19 6,30 6,42 6,35 6,32 6,22 6,18 6,17 6,17 6,19 6,20 6,19 6,16 6,11 6,6 6,3 6,1 6-2 6-3 6-6 6-4 6-2 6-2 6-3 6-4 6-7 6-8 6-9 6-7 6-5 6-4 6-3 6-3 6-5 6-6 6-6 6-5 6-5 6-3 6-1 6,0 6,0 6-1 6-3 6-2 6-2 6-2 6-1 6-1 6-3 6-1 6-1 6,2 6,2 6,2 6,1 6,1 6,1 6,1 6,1 6,2 6,2 6,3 6,2 6,3 6,2 6,2 6,3 6,2 6,2 6,2 6,3 6,3 6,3 6,2 6,2 6,1 6,3 6,2 6,4 6,3 6,6 6,7 6,8 6,7 6,5 6,5 6,4 6,5 6,6 6,5 6,4 6,3 6,1 6-1 6-1 6-2 6-1 6,0 6,0 6,0 6,0 6-1 6-1 6-2 6-2 6-1 6,1 6,4 6,5 6,7 6,6 6,5 6,3 6,1 6,0 6-1 6,0 6-1 6,2 6,3 6,5 6,8 6,10 6,9 6,8 6,7 6,5 6,5 6,5 6,5 6,4 6,2 6,1 6-1 6-3 6-5 6-9 6-10 6-14 6-15 6-15 6-14 6-12 6-11 6-10 6-8 6-7 6-5 6-4 6-3 6-1 6,3 6,6 6,9 6,10 6,9 6,6 6,4 6,0 6,0 6,0 2,0"/>
<path d="M272,785l6,0 6-1 6-1 6,0 6,1 6,0 6,2 6,0 6,1 6-1 6,0 6-1 6-1 6,0 6-1 6,0 6,2 6,2 6,3 6,0 6-1 6-3 6-3 6-3 6-1 6,2 6,2 6,3 6,2 6,2 6,1 6,1 6,3 6,3 6,5 6,4 6,4 6,3 6,3 6,3 6,3 6,4 6,4 6,2 6,1 6,0 6-1 6,0 6,1 6,1 6,0 6,0 6-2 6-2 6-2 6,3 6,6 6,9 6,9 6,7 6,4 6,2 6,2 6,2 6,3 6,4 6,3 6,3 6,3 6,3 6,7 6,9 6,7 6,2 6-2 6-6 6-8 6-8 6-8 6-12 6-19 6-32 6-24 6-17 6-15 6-15 6-12 6-9 6-6 6-2 6,0 6,0 6,0 6-3 6-7 6-11 6-13 6-14 6-12 6-10 6-8 6-8 6-10 6-12 6-21 6-28 6-35 6-37 6-31 6-28 6-24 6-21 6-17 6-7 6-1 6,2 6,2 6,4 6,6 6,11 6,27 6,48 6,54 6,53 6,37 6,28 6,26 6,25 6,25 6,22 6,18 6,14 6,11 6,10 6,8 6,7 6,6 6,5 6,3 6,1 6,1 6,2 6,2 6,2 6,2 6,1 6,0 6-2 6-3 6-5 6-5 6-6 6-5 6-6 6-6 6-6 6-5 6-4 6,0 6,2 6,5 6,5 6,6 6,4 6,3 6,1 6,2 6,0 6,0 6,0 6,1 6,2 6,5 6,7 6,8 6,11 6,11 6,11 6,11 6,11 6,9 6,9 6,8 6,5 6,3 6,1 6,1 6,1 6,2 6,3 6,3 6,2 6,2 6,1 6,2 6,3 6,4 6,4 6,1 6-1 6-4 6-4 6-4 6-4 6-2 6,0 6,1 6,4 6,4 6,5 6,5 6,4 6,3 6,2 6,3 6,2 6,3 6,3 6,2 6,3 6,3 6,2 6,0 6,0 6,0 6,0 6,2 6,1 6,0 6,0 6-2 6-1 6,0 6,1 6,2 6,2 6,0 6-1 6-2 6-2 6-2 6-3 6-2 6-2 6-2 6-2 6-4 6-6 6-8 6-7 6-8 6-6 6-5 6-5 6-3 6-3 6-1 6-1 6-1 6,2 6,3 6,5 6,4 6,2 6,0 6-1 6-1 6-1 6-1 6-3 6-3 6-3 6-3 6-2 6-4 6-3 6-4 6-3 6-2 6-2 6,0 2,0"/>
<path d="M272,834l6-1 6,0 6,0 6,0 6,0 6,0 6,1 6,0 6,1 6,1 6,0 6,1 6,0 6-1 6-2 6-2 6-2 6-2 6-2 6-2 6-1 6-1 6-3 6-4 6-4 6-3 6-2 6,1 6,1 6-1 6-3 6-4 6-4 6-3 6-2 6-2 6-2 6-2 6-2 6-2 6-2 6,1 6,1 6,3 6,3 6,1 6,2 6,3 6,4 6,6 6,5 6,3 6,1 6,2 6,3 6,8 6,13 6,15 6,14 6,10 6,6 6,5 6,4 6,3 6,2 6,3 6,3 6,3 6,3 6,3 6,9 6,11 6,11 6,5 6,0 6-2 6-5 6-7 6-10 6-15 6-24 6-38 6-34 6-29 6-25 6-22 6-17 6-12 6-8 6-7 6-6 6-5 6-5 6-5 6-9 6-13 6-13 6-12 6-6 6-2 6,1 6,1 6,1 6-1 6-8 6-14 6-19 6-21 6-16 6-15 6-13 6-11 6-9 6-5 6-3 6,2 6,9 6,13 6,15 6,20 6,32 6,44 6,36 6,33 6,23 6,19 6,16 6,14 6,14 6,14 6,13 6,10 6,8 6,5 6,1 6,0 6,0 6,0 6,1 6,2 6,1 6,0 6-3 6-3 6-4 6-4 6-4 6-5 6-6 6-9 6-9 6-11 6-10 6-11 6-9 6-10 6-8 6-6 6-3 6,1 6,2 6,4 6,3 6,2 6,0 6,1 6,1 6,3 6,4 6,5 6,6 6,5 6,5 6,3 6,4 6,3 6,3 6,2 6,2 6,3 6,5 6,4 6,5 6,4 6,3 6,3 6,3 6,2 6,3 6,3 6,3 6,3 6,2 6,1 6,1 6,0 6,0 6,0 6,2 6,3 6,5 6,4 6,4 6,2 6,2 6,2 6,5 6,7 6,7 6,7 6,4 6,3 6,1 6,0 6-1 6,0 6,1 6,2 6,4 6,3 6,4 6,2 6,1 6-2 6-2 6-2 6,1 6,3 6,6 6,7 6,6 6,5 6,3 6,2 6,3 6,3 6,5 6,6 6,4 6,3 6,0 6-1 6-2 6-3 6-4 6-4 6-5 6-4 6-2 6-2 6,0 6-2 6-2 6-3 6-2 6,0 6,1 6-1 6-2 6-3 6-3 6-2 6-1 6-1 6-1 6-1 6,0 6-1 6-1 6-2 6-4 6-5 6-4 6-3 6-3 6-1 6,0 6,0 6,1 6,2 6,1 2,0"/>
<path d="M272,769l6,2 6,1 6,2 6,0 6,0 6,0 6,0 6,1 6,2 6,1 6,0 6-1 6-2 6-2 6,0 6,1 6,2 6,1 6-1 6-2 6-2 6-1 6,0 6,2 6,2 6,2 6,1 6,1 6,1 6,1 6,2 6,2 6,2 6-1 6-3 6-5 6-5 6-3 6,0 6,4 6,4 6,4 6,2 6,1 6,1 6,2 6,4 6,4 6,5 6,5 6,3 6,2 6,2 6,0 6-1 6,0 6,2 6,2 6,4 6,5 6,4 6,4 6,5 6,5 6,5 6,6 6,7 6,7 6,7 6,8 6,11 6,10 6,8 6,4 6-1 6-1 6-2 6-2 6-3 6-5 6-13 6-25 6-22 6-21 6-22 6-24 6-21 6-18 6-15 6-12 6-11 6-12 6-11 6-12 6-14 6-16 6-15 6-14 6-10 6-6 6-4 6-3 6-4 6-8 6-17 6-25 6-31 6-32 6-22 6-17 6-15 6-10 6-6 6,3 6,7 6,9 6,12 6,13 6,16 6,22 6,36 6,51 6,47 6,43 6,30 6,26 6,24 6,22 6,22 6,18 6,14 6,8 6,4 6,3 6,3 6,4 6,5 6,4 6,3 6,1 6,2 6,2 6,3 6,4 6,5 6,4 6,3 6,3 6,2 6,1 6,1 6,1 6,1 6,1 6,1 6,0 6,0 6,0 6-1 6-2 6-3 6-4 6-4 6-4 6-4 6-3 6-3 6-3 6-4 6-5 6-5 6-4 6-2 6,0 6,2 6,4 6,5 6,5 6,5 6,4 6,3 6,1 6-1 6-2 6-5 6-5 6-7 6-7 6-6 6-5 6-3 6-1 6-1 6-1 6-2 6-1 6,0 6,0 6,0 6,1 6,1 6,2 6,2 6,1 6-1 6-1 6,0 6,0 6,1 6,2 6,2 6,3 6,3 6,2 6,1 6,1 6-1 6-1 6,0 6,2 6,3 6,3 6,3 6,2 6,1 6-1 6-1 6-2 6,0 6,2 6,4 6,4 6,3 6,2 6,1 6,2 6,2 6,3 6,1 6,0 6-2 6-4 6-6 6-6 6-4 6-2 6-1 6-2 6-3 6-4 6-4 6-4 6-4 6-2 6-1 6,0 6,1 6,2 6,1 6-1 6-3 6-4 6-4 6-3 6-2 6-1 6-2 6-1 6-1 6-1 6-1 6-1 6-2 6-1 6,1 6,3 6,4 6,3 6,2 6,0 6,0 2,0"/>
<path d="M272,828l6,0 6,0 6,0 6,0 6-1 6-1 6-1 6-1 6,1 6,0 6,1 6,0 6-1 6-1 6-1 6-2 6-2 6-1 6,0 6-1 6-1 6-2 6-2 6-2 6-3 6-2 6-3 6-3 6-2 6,0 6,1 6,1 6,0 6,0 6,0 6,1 6,0 6,0 6-2 6-3 6-3 6-1 6,0 6,2 6,2 6,1 6,0 6-1 6,0 6,0 6,1 6-1 6,0 6-1 6,0 6,3 6,7 6,7 6,9 6,8 6,8 6,8 6,7 6,7 6,7 6,6 6,7 6,7 6,7 6,7 6,10 6,9 6,7 6,4 6,0 6-2 6-4 6-6 6-8 6-12 6-19 6-29 6-23 6-18 6-16 6-13 6-8 6-4 6,0 6,2 6,3 6,3 6,2 6,1 6,0 6-1 6-1 6-2 6-2 6-3 6-4 6-6 6-7 6-9 6-14 6-16 6-14 6-12 6-11 6-10 6-9 6-5 6-3 6-5 6-9 6-3 6,11 6,17 6,19 6,25 6,36 6,42 6,21 6,15 6,10 6,5 6-1 6-6 6-4 6-1 6,1 6,1 6,0 6,1 6,2 6,1 6,1 6,0 6,0 6-1 6-2 6-2 6-2 6-1 6-1 6-1 6-1 6-1 6-2 6-4 6-5 6-6 6-5 6-2 6-1 6,1 6,3 6,4 6,7 6,7 6,8 6,8 6,6 6,5 6,3 6,2 6,2 6,1 6,1 6,0 6-1 6-2 6-4 6-4 6-4 6-4 6-4 6-5 6-3 6-3 6,0 6,3 6,4 6,3 6,3 6,3 6,4 6,5 6,4 6,3 6,3 6,2 6,0 6,0 6-1 6-2 6-2 6-1 6-1 6,0 6,0 6,0 6,1 6,3 6,5 6,5 6,4 6,2 6-1 6-2 6-4 6-4 6-3 6-3 6-1 6-1 6,1 6,2 6,2 6,2 6,4 6,4 6,4 6,3 6,2 6,3 6,3 6,3 6,2 6,2 6,1 6,0 6,0 6,0 6,0 6,0 6,0 6-1 6,0 6,0 6,1 6,1 6,2 6,1 6,0 6,1 6,0 6,1 6,0 6-2 6-3 6-5 6-5 6-4 6-4 6-3 6-4 6-3 6-1 6,1 6,2 6,2 6,2 6,1 6,2 6,2 6,3 6,4 6,5 6,4 6,3 6,2 6,0 6,1 6-1 6-1 6-3 6-4 6-3 6-3 6-1 2,0"/>
<path d="M272,845l6-2 6-4 6-4 6-2 6,0 6,3 6,4 6,2 6,1 6,0 6-1 6-2 6-2 6-2 6,0 6,0 6,0 6-1 6-2 6-1 6-1 6-4 6-5 6-5 6-5 6-4 6-1 6,1 6,1 6,1 6,1 6,0 6,0 6,1 6,0 6,0 6-2 6-2 6-2 6-2 6-1 6-2 6-2 6-2 6-2 6-1 6,0 6,0 6,0 6,0 6,0 6,0 6,0 6,3 6,3 6,8 6,11 6,13 6,11 6,9 6,6 6,4 6,2 6,0 6,0 6,1 6,2 6,4 6,4 6,5 6,9 6,11 6,9 6,6 6,3 6,0 6-1 6-3 6-7 6-10 6-19 6-32 6-24 6-18 6-17 6-18 6-16 6-11 6-7 6-4 6-3 6-4 6-4 6-5 6-8 6-10 6-11 6-11 6-11 6-11 6-10 6-10 6-9 6-10 6-18 6-25 6-31 6-31 6-20 6-16 6-13 6-10 6-8 6-2 6-1 6,2 6,6 6,9 6,12 6,18 6,34 6,52 6,51 6,50 6,40 6,37 6,35 6,30 6,28 6,26 6,23 6,19 6,17 6,13 6,9 6,4 6,2 6-1 6-3 6-4 6-5 6-5 6-6 6-8 6-7 6-8 6-7 6-5 6-5 6-5 6-5 6-4 6-6 6-5 6-4 6-2 6,0 6,2 6,3 6,3 6,3 6,3 6,3 6,3 6,4 6,5 6,7 6,8 6,9 6,7 6,6 6,5 6,4 6,3 6,2 6,2 6,0 6-1 6-2 6-2 6-2 6-2 6,0 6,1 6,2 6,1 6,1 6-1 6-2 6-2 6-3 6-3 6-3 6-3 6-4 6-3 6-4 6-5 6-4 6-4 6-3 6-1 6,0 6,2 6,2 6,1 6-1 6,0 6,0 6,2 6,2 6,3 6,1 6-1 6-2 6-3 6-3 6-3 6-3 6-4 6-4 6-3 6-4 6-5 6-4 6-4 6-2 6-2 6-2 6-1 6-2 6,1 6,2 6,4 6,4 6,5 6,4 6,4 6,4 6,3 6,0 6-2 6-6 6-6 6-7 6-5 6-7 6-6 6-8 6-7 6-6 6-6 6-5 6-5 6-2 6,0 6,2 6,2 6,1 6,1 6,2 6,3 6,4 6,4 6,1 6-2 6-2 6-3 6-3 6-3 6-5 6-5 6-6 6-5 6-5 6-4 6-4 6-2 6-2 6,0 6,2 2,0"/>
<path d="M272,822l6-1 6,0 6-1 6-1 6-1 6,0 6-1 6,0 6,0 6-1 6-2 6-1 6,0 6,0 6,1 6,0 6,1 6,0 6,0 6-1 6-2 6-1 6,0 6,0 6,1 6-1 6-3 6-5 6-5 6-4 6,0 6,3 6,4 6,4 6,1 6,0 6-2 6-1 6,0 6-1 6-1 6-1 6-1 6,0 6-1 6-1 6-3 6-3 6-1 6,0 6,2 6,1 6,0 6-1 6-2 6,0 6,2 6,3 6,4 6,3 6,3 6,4 6,3 6,4 6,4 6,4 6,5 6,4 6,4 6,4 6,5 6,6 6,4 6,3 6,0 6-2 6-3 6-5 6-8 6-14 6-23 6-37 6-23 6-12 6-8 6-8 6-5 6-3 6-2 6,0 6,1 6,2 6,0 6,0 6-3 6-3 6-3 6-3 6-4 6-3 6-4 6-4 6-2 6,0 6-2 6-3 6-2 6-1 6,0 6-1 6-3 6,0 6,0 6-2 6-6 6,1 6,15 6,22 6,23 6,29 6,42 6,46 6,25 6,19 6,21 6,23 6,16 6,5 6,2 6,0 6-2 6-3 6-10 6-11 6-8 6-1 6,0 6,1 6,2 6,1 6,0 6-1 6-2 6-2 6-2 6,0 6,2 6,3 6,3 6,1 6-2 6-5 6-7 6-6 6-7 6-6 6-5 6-5 6-3 6-4 6-4 6-4 6-6 6-8 6-8 6-9 6-8 6-6 6-3 6,1 6,1 6,2 6,2 6,2 6,5 6,5 6,4 6,5 6,5 6,6 6,6 6,6 6,5 6,5 6,4 6,3 6,3 6,2 6,0 6-2 6-3 6-3 6-3 6-4 6-4 6-3 6-3 6-2 6-1 6,2 6,4 6,7 6,11 6,11 6,12 6,9 6,6 6,4 6,4 6,4 6,3 6,3 6,2 6,0 6-1 6-2 6-3 6-3 6-3 6-2 6-2 6-2 6-2 6-2 6-1 6-2 6,0 6,2 6,3 6,4 6,5 6,4 6,4 6,2 6,2 6,1 6,0 6,0 6-1 6,1 6,1 6,1 6,2 6,2 6,0 6,0 6-4 6-4 6-5 6-3 6-3 6-3 6-5 6-6 6-5 6-4 6-2 6,0 6,1 6,2 6,2 6,3 6,3 6,3 6,4 6,5 6,4 6,5 6,3 6,4 6,3 6,2 6,2 6,0 6,1 6,0 6-1 6-1 6-3 6-2 6-1 2,0"/>
<path d="M272,793l6-1 6-1 6-3 6-3 6-3 6,0 6,2 6,2 6,1 6,0 6-2 6-2 6-1 6-1 6-1 6,0 6-2 6-3 6-3 6-2 6,0 6,1 6,1 6,1 6,0 6,0 6-2 6-2 6-1 6,0 6,2 6,3 6,3 6,4 6,3 6,3 6,2 6,1 6,1 6,0 6,1 6,2 6,1 6-1 6-1 6-2 6-1 6-1 6-1 6-1 6,0 6,1 6,3 6,4 6,5 6,7 6,9 6,11 6,12 6,11 6,8 6,8 6,7 6,5 6,3 6,2 6,2 6,3 6,3 6,4 6,8 6,11 6,12 6,8 6,3 6,2 6,2 6,1 6,0 6-1 6-6 6-15 6-16 6-17 6-19 6-20 6-19 6-17 6-13 6-8 6-6 6-4 6-4 6-2 6-2 6-1 6,1 6,1 6,0 6-1 6-4 6-5 6-6 6-5 6-9 6-11 6-10 6-12 6-13 6-14 6-13 6-9 6-6 6-7 6-11 6-3 6,7 6,10 6,12 6,17 6,31 6,39 6,25 6,22 6,19 6,20 6,14 6,8 6,7 6,4 6,4 6,2 6-1 6-4 6-3 6,1 6,2 6,5 6,6 6,6 6,5 6,5 6,3 6,2 6,2 6,1 6,1 6,0 6,0 6,0 6-1 6-1 6-1 6,1 6,0 6,0 6-2 6-1 6-1 6-1 6-1 6-1 6-3 6-3 6-2 6-1 6,1 6,2 6,3 6,3 6,1 6,1 6,2 6,2 6,2 6,2 6,2 6,1 6,0 6-1 6,0 6,0 6,4 6,4 6,4 6,3 6,2 6,2 6,0 6,0 6-2 6-4 6-4 6-4 6-4 6-6 6-7 6-8 6-8 6-7 6-5 6-5 6-5 6-2 6-1 6-1 6,1 6,0 6,0 6,2 6,3 6,2 6,2 6,1 6,0 6-1 6-1 6,0 6,1 6,0 6-1 6-2 6-1 6,0 6,2 6,4 6,3 6,3 6,3 6,3 6,3 6,3 6,3 6,2 6,2 6,1 6-1 6-2 6-4 6-3 6-4 6-3 6-3 6-4 6-4 6-3 6-2 6,0 6,3 6,5 6,5 6,4 6,4 6,4 6,4 6,5 6,2 6,2 6,0 6-1 6-1 6-2 6-3 6-5 6-6 6-9 6-9 6-9 6-6 6-5 6-2 6,0 6,0 6,1 6,2 6,4 6,5 6,7 6,8 6,6 6,4 2,1"/>
<path d="M272,834l6-1 6-1 6,0 6-2 6-1 6-1 6-1 6-2 6-2 6-1 6,0 6,1 6,0 6,1 6,0 6,1 6,0 6,0 6,0 6,0 6,1 6-1 6-1 6-3 6-3 6-4 6-4 6-3 6-2 6-1 6-1 6,1 6,1 6,2 6,2 6,2 6,1 6,0 6-1 6-1 6-3 6-4 6-5 6-5 6-2 6,0 6,2 6,1 6,0 6-1 6,0 6-2 6,0 6-1 6,0 6,4 6,8 6,9 6,9 6,7 6,6 6,6 6,6 6,6 6,4 6,5 6,3 6,1 6,0 6-2 6,1 6,2 6,4 6,2 6,0 6-1 6-2 6-3 6-4 6-7 6-17 6-31 6-19 6-11 6-11 6-12 6-8 6-5 6-3 6-1 6-2 6-3 6-5 6-5 6-7 6-9 6-9 6-10 6-8 6-6 6-5 6-7 6-8 6-11 6-18 6-23 6-26 6-26 6-18 6-16 6-14 6-11 6-9 6-4 6-1 6,6 6,12 6,18 6,19 6,25 6,37 6,51 6,43 6,38 6,28 6,21 6,15 6,10 6,9 6,8 6,7 6,6 6,3 6,2 6,2 6,4 6,5 6,6 6,6 6,4 6,2 6-1 6-1 6-1 6-1 6-2 6-4 6-6 6-7 6-8 6-8 6-9 6-10 6-8 6-6 6-4 6-3 6-3 6-2 6-2 6-1 6,1 6,2 6,4 6,4 6,5 6,5 6,5 6,3 6,3 6,2 6,2 6,2 6,1 6,0 6-2 6-3 6-4 6-4 6-3 6-3 6-3 6-3 6-1 6,0 6,1 6-1 6-2 6-5 6-4 6-2 6,0 6,2 6,5 6,5 6,5 6,5 6,4 6,4 6,4 6,5 6,4 6,5 6,5 6,5 6,4 6,4 6,3 6,2 6,1 6,1 6,3 6,3 6,3 6,3 6,3 6,4 6,5 6,6 6,8 6,7 6,8 6,6 6,5 6,3 6,1 6,0 6-1 6,0 6-1 6-1 6,0 6,1 6,3 6,3 6,1 6,0 6-3 6-3 6-4 6-2 6-2 6-1 6-2 6-3 6-3 6-2 6,0 6,2 6,3 6,2 6,1 6,2 6,2 6,4 6,6 6,10 6,11 6,11 6,10 6,9 6,7 6,5 6,5 6,5 6,5 6,5 6,4 6,3 6,1 6-1 6-3 6-4 6-5 6-6 6-6 6-5 6-5 6-4 6-2 6-1 2,0"/>
<path d="M272,800l6-1 6-1 6,0 6,0 6,1 6-1 6-1 6-2 6,0 6,3 6,5 6,5 6,3 6,1 6-1 6-3 6-2 6-1 6,0 6,1 6,0 6-2 6-3 6-4 6-3 6-2 6,1 6,1 6,2 6,3 6,3 6,3 6,2 6,2 6,2 6,1 6,1 6-1 6-1 6-1 6,0 6,1 6,0 6,0 6,0 6-2 6-1 6,0 6,2 6,1 6,2 6,3 6,2 6,2 6,2 6,5 6,9 6,8 6,8 6,4 6,2 6,3 6,3 6,4 6,5 6,6 6,5 6,4 6,3 6,2 6,7 6,13 6,16 6,14 6,9 6,5 6,2 6-1 6-2 6-2 6-7 6-15 6-15 6-17 6-16 6-16 6-17 6-18 6-15 6-10 6-8 6-5 6-5 6-6 6-7 6-9 6-9 6-10 6-8 6-9 6-8 6-9 6-10 6-12 6-17 6-20 6-21 6-21 6-17 6-16 6-14 6-10 6-10 6-8 6-9 6-4 6,3 6,7 6,9 6,14 6,27 6,38 6,31 6,28 6,19 6,15 6,10 6,9 6,10 6,13 6,11 6,8 6,7 6,5 6,3 6,1 6,0 6-1 6-4 6-4 6-5 6-3 6-1 6,0 6,0 6-1 6-1 6-2 6-3 6-3 6-3 6-1 6,0 6,2 6,3 6,4 6,4 6,5 6,5 6,6 6,5 6,5 6,3 6,1 6,1 6,0 6,1 6,2 6,1 6,1 6-1 6-4 6-5 6-5 6-3 6-1 6,2 6,3 6,3 6,4 6,3 6,3 6,5 6,4 6,4 6,4 6,4 6,3 6,3 6,5 6,5 6,6 6,6 6,4 6,4 6,2 6,2 6,1 6,2 6,3 6,5 6,4 6,4 6,4 6,4 6,4 6,4 6,6 6,6 6,6 6,5 6,3 6,2 6,1 6,0 6-1 6-2 6-2 6-3 6-4 6-5 6-4 6-3 6-3 6-2 6-2 6-3 6-3 6-2 6,0 6,1 6,2 6,3 6,4 6,3 6,2 6,1 6,0 6,1 6,1 6,0 6,0 6,0 6,0 6,1 6,1 6,1 6,2 6,1 6,0 6-2 6-3 6-3 6-2 6-2 6-2 6-1 6-2 6-1 6-1 6-1 6-1 6,1 6,1 6,2 6,2 6,0 6,0 6,0 6,1 6,3 6,3 6,2 6,1 6,1 6,0 6,1 6,1 6,1 6,2 6,1 2,0"/>
<path d="M272,822l6-2 6-2 6-1 6,0 6,1 6,0 6,0 6,0 6,2 6,2 6,1 6,1 6,0 6-1 6,0 6-1 6-1 6-2 6-2 6-1 6,0 6,0 6,0 6-1 6,0 6-1 6,0 6,0 6,1 6,2 6,2 6,1 6-1 6-1 6-1 6,0 6,2 6,2 6,3 6,2 6,1 6,0 6,0 6,0 6,0 6-1 6-1 6-1 6,0 6,2 6,2 6,2 6,1 6-1 6,1 6,6 6,13 6,14 6,12 6,8 6,3 6,3 6,4 6,5 6,6 6,6 6,6 6,6 6,6 6,6 6,11 6,13 6,13 6,8 6,4 6,2 6,1 6-1 6-3 6-4 6-8 6-15 6-16 6-18 6-18 6-16 6-14 6-16 6-12 6-6 6-5 6-4 6-2 6-1 6-1 6-2 6-5 6-7 6-7 6-7 6-7 6-8 6-10 6-10 6-14 6-16 6-13 6-14 6-13 6-16 6-14 6-12 6-10 6-10 6-14 6-6 6,7 6,11 6,13 6,18 6,31 6,39 6,26 6,26 6,23 6,21 6,16 6,9 6,9 6,10 6,9 6,6 6-1 6-6 6-4 6,0 6,1 6,3 6,2 6,2 6-1 6-1 6-2 6,0 6-1 6,0 6,0 6,1 6,0 6,0 6-1 6-4 6-6 6-6 6-4 6-3 6-2 6-2 6-3 6-4 6-4 6-5 6-4 6-3 6-2 6-2 6-1 6-1 6-3 6-3 6-3 6,0 6,1 6,2 6,4 6,3 6,5 6,6 6,6 6,6 6,5 6,3 6,2 6,1 6-1 6-1 6-1 6-2 6-1 6-1 6-1 6,1 6,1 6,2 6,3 6,3 6,5 6,5 6,4 6,4 6,3 6,4 6,3 6,3 6,2 6,2 6,0 6,1 6,0 6,0 6,2 6,3 6,4 6,5 6,5 6,5 6,4 6,5 6,4 6,4 6,4 6,5 6,6 6,7 6,6 6,5 6,4 6,3 6,4 6,2 6,1 6,0 6-1 6-1 6,0 6,1 6,1 6,1 6,1 6-1 6-1 6-2 6-2 6-2 6-1 6,0 6,0 6-2 6-2 6-4 6-4 6-4 6-3 6-3 6-1 6-2 6-2 6-2 6-1 6,0 6,0 6,0 6,0 6-1 6-1 6-3 6-3 6-4 6-4 6-1 6,1 6,3 6,3 6,3 6,1 6,0 6-3 6-4 6-4 6-3 6-2 2,0"/>
<path d="M272,812l6,1 6,1 6,1 6,0 6-1 6-2 6-2 6-3 6-1 6-1 6,0 6,0 6,0 6-2 6-2 6-1 6-1 6,0 6,0 6-1 6-1 6-2 6-2 6-1 6,0 6-1 6,0 6,0 6,1 6-2 6-3 6-5 6-5 6-5 6-4 6-3 6-1 6,1 6,0 6,0 6-2 6-2 6-2 6-1 6,1 6,2 6,3 6,3 6,4 6,2 6,1 6-1 6-2 6-2 6,0 6,3 6,7 6,8 6,9 6,8 6,7 6,6 6,8 6,9 6,11 6,11 6,11 6,8 6,7 6,6 6,11 6,15 6,15 6,11 6,6 6,2 6,1 6,0 6-2 6-4 6-8 6-14 6-11 6-10 6-9 6-9 6-8 6-5 6-3 6,2 6,3 6,4 6,2 6,1 6-1 6-2 6-1 6-2 6-3 6-4 6-6 6-6 6-8 6-10 6-14 6-17 6-19 6-22 6-21 6-21 6-19 6-17 6-16 6-15 6-14 6-4 6,7 6,13 6,17 6,26 6,38 6,45 6,36 6,31 6,26 6,25 6,21 6,13 6,10 6,7 6,3 6,1 6,0 6-1 6-3 6-5 6-6 6-5 6-4 6-4 6-4 6-3 6-2 6-1 6-1 6-2 6-2 6-1 6,1 6,2 6,1 6,1 6-2 6-4 6-5 6-4 6-5 6-4 6-1 6,2 6,4 6,5 6,4 6,0 6-2 6-3 6-2 6-2 6,0 6,1 6,1 6,0 6-2 6-3 6-4 6-3 6-2 6,1 6,1 6,0 6-1 6-1 6-1 6,0 6,0 6,2 6,1 6,1 6,0 6-3 6-4 6-3 6-1 6,0 6,2 6,3 6,2 6,2 6,2 6,1 6,0 6,0 6-1 6-1 6,1 6,3 6,4 6,4 6,3 6,2 6,1 6,2 6,2 6,3 6,2 6,4 6,5 6,6 6,6 6,4 6,4 6,2 6,2 6,1 6,1 6,1 6,1 6,0 6-1 6-1 6-1 6-1 6-2 6-2 6-4 6-4 6-3 6-4 6-3 6-5 6-5 6-5 6-4 6-4 6-2 6-2 6-2 6-1 6-2 6-1 6-2 6-2 6-1 6-3 6-4 6-5 6-5 6-4 6-4 6-4 6-6 6-6 6-7 6-8 6-8 6-8 6-9 6-7 6-6 6-5 6-6 6-6 6-7 6-6 6-4 6-3 6,1 6,1 6,2 6,3 6,2 2,1"/>
<path d="M272,828l6-2 6-1 6-2 6-2 6-1 6-1 6,1 6,0 6-2 6-2 6-2 6-1 6,1 6,2 6,1 6,1 6,0 6,0 6-1 6-1 6-1 6-2 6-2 6-2 6-4 6-3 6-3 6-2 6,0 6,2 6,1 6,1 6,1 6,1 6,1 6,1 6,0 6,0 6-1 6-1 6,0 6,0 6,2 6,2 6,0 6-1 6-2 6-3 6-1 6-2 6-1 6-1 6,2 6,3 6,3 6,5 6,5 6,5 6,3 6,0 6,0 6,0 6,2 6,4 6,5 6,8 6,7 6,7 6,4 6,4 6,7 6,9 6,10 6,9 6,5 6,4 6,2 6,0 6-4 6-9 6-14 6-23 6-18 6-14 6-14 6-15 6-13 6-11 6-9 6-7 6-4 6-3 6-2 6-2 6-3 6-5 6-7 6-8 6-5 6-2 6,0 6-1 6-3 6-5 6-12 6-14 6-15 6-15 6-12 6-13 6-12 6-13 6-16 6-18 6-20 6-15 6-3 6,1 6,3 6,5 6,16 6,26 6,24 6,25 6,18 6,14 6,14 6,14 6,17 6,17 6,16 6,13 6,11 6,7 6,2 6,0 6,1 6,4 6,4 6,1 6,0 6-1 6-1 6-1 6-1 6,0 6,1 6,0 6,0 6-3 6-6 6-7 6-6 6-5 6-2 6-3 6-2 6-1 6,0 6,3 6,4 6,4 6,4 6,4 6,2 6,2 6,3 6,3 6,3 6,3 6,3 6,3 6,4 6,4 6,5 6,6 6,6 6,6 6,7 6,6 6,5 6,4 6,3 6,2 6,2 6,1 6,2 6,1 6,1 6,1 6,2 6,2 6,0 6,0 6,0 6-1 6,1 6,0 6-1 6,0 6,0 6,2 6,3 6,2 6,1 6-3 6-3 6-2 6,0 6,4 6,4 6,4 6,3 6,1 6-1 6-2 6-3 6-2 6-1 6-1 6-1 6,0 6,0 6,0 6-1 6-2 6-1 6,0 6,2 6,4 6,4 6,3 6,3 6,3 6,2 6,3 6,2 6,4 6,5 6,3 6-1 6-4 6-4 6-4 6-2 6-2 6,0 6-1 6,0 6-1 6-3 6-5 6-4 6-4 6-4 6-4 6-3 6-2 6-2 6-2 6-1 6,0 6,1 6,1 6,2 6,3 6,5 6,7 6,9 6,9 6,10 6,10 6,11 6,12 6,13 6,11 6,9 6,5 6,2 6,1 6,0 2,0"/>
<path d="M272,812l6-1 6-1 6-1 6-2 6-3 6-4 6-3 6-2 6-2 6-2 6-2 6-2 6-1 6,0 6-1 6-1 6-2 6-1 6,0 6,1 6,1 6,0 6,0 6-2 6-1 6-2 6-1 6-1 6-1 6,0 6,0 6,0 6,0 6,0 6,0 6,2 6,3 6,1 6-1 6-3 6-3 6-3 6-2 6-1 6,0 6,0 6,1 6,1 6,0 6-1 6-3 6-4 6-5 6-2 6-1 6,3 6,7 6,8 6,7 6,4 6,1 6-1 6,1 6,3 6,5 6,9 6,10 6,9 6,5 6,2 6,3 6,3 6,3 6,1 6,0 6-2 6-4 6-5 6-6 6-12 6-24 6-39 6-27 6-17 6-15 6-15 6-12 6-5 6-5 6-6 6-6 6-5 6-7 6-7 6-12 6-16 6-18 6-15 6-10 6-3 6-1 6,0 6-1 6-4 6-13 6-19 6-26 6-27 6-16 6-13 6-12 6-10 6-11 6-4 6,0 6,4 6,7 6,10 6,10 6,13 6,24 6,41 6,43 6,43 6,29 6,23 6,21 6,23 6,22 6,22 6,19 6,16 6,15 6,12 6,7 6,5 6,4 6,5 6,5 6,5 6,4 6,5 6,5 6,5 6,4 6,3 6,2 6,0 6-2 6-3 6,0 6,1 6,3 6,3 6,3 6,1 6,2 6,1 6,3 6,2 6,1 6,1 6-1 6-2 6-3 6-1 6-1 6,1 6,0 6,0 6,0 6,2 6,2 6,1 6,2 6,2 6,1 6,3 6,3 6,4 6,4 6,4 6,4 6,3 6,2 6,2 6,2 6,1 6,2 6,3 6,4 6,4 6,5 6,4 6,5 6,4 6,5 6,3 6,2 6,1 6,0 6,1 6,3 6,3 6,2 6,1 6-1 6-2 6-2 6-3 6-3 6-2 6-1 6,1 6,2 6,1 6,0 6-1 6-1 6-1 6,0 6-1 6-2 6-4 6-4 6-4 6-3 6-2 6-1 6-1 6-3 6-4 6-5 6-3 6-1 6,2 6,2 6,1 6-1 6-1 6-1 6-1 6,0 6-1 6-2 6-3 6-3 6-4 6-3 6-3 6-2 6-3 6-4 6-4 6-3 6-1 6,1 6,2 6,4 6,3 6,3 6,1 6,0 6,1 6,1 6,1 6,2 6,1 6,1 6-2 6-4 6-5 6-4 6-4 6-3 6-3 6-5 6-5 6-5 6-3 6-2 2,0"/>
<path d="M272,786l6,1 6,1 6,0 6,0 6,0 6,0 6,0 6,0 6,0 6-2 6-1 6-1 6,0 6,0 6-1 6-1 6,0 6,2 6,2 6,3 6,2 6,0 6-2 6-2 6-1 6-1 6-1 6-1 6-2 6-1 6,0 6,1 6,2 6,3 6,3 6,3 6,2 6,0 6-2 6-1 6,0 6,0 6,0 6,1 6,2 6,2 6,2 6,4 6,5 6,6 6,6 6,4 6,2 6,2 6,1 6,5 6,9 6,11 6,12 6,11 6,7 6,7 6,6 6,3 6,2 6,1 6,0 6,0 6,2 6,5 6,12 6,13 6,12 6,8 6,3 6,1 6,1 6,0 6-2 6-5 6-11 6-23 6-22 6-22 6-22 6-21 6-19 6-17 6-11 6-3 6,1 6,4 6,1 6-2 6-5 6-8 6-8 6-9 6-8 6-8 6-9 6-12 6-15 6-18 6-24 6-29 6-32 6-34 6-29 6-26 6-19 6-13 6-5 6,2 6,6 6,10 6,17 6,22 6,23 6,29 6,41 6,51 6,40 6,34 6,28 6,24 6,20 6,14 6,13 6,11 6,7 6,3 6-4 6-7 6-6 6-3 6-1 6,0 6-1 6-1 6-2 6-3 6-4 6-5 6-7 6-8 6-5 6-4 6-1 6-1 6,0 6-1 6,0 6,0 6,1 6,1 6,0 6,1 6,3 6,5 6,6 6,5 6,3 6,0 6-2 6-4 6-3 6-2 6-2 6-2 6-1 6,1 6,1 6,3 6,5 6,6 6,8 6,9 6,9 6,8 6,7 6,5 6,4 6,3 6,3 6,2 6-1 6-3 6-3 6-1 6,1 6,2 6,1 6-1 6-2 6-2 6,0 6,1 6,2 6,3 6,3 6,1 6,1 6,1 6,0 6-1 6-3 6-3 6-4 6-3 6-4 6-5 6-4 6-5 6-3 6-1 6,0 6-1 6,0 6-2 6-3 6-2 6-2 6-1 6,0 6-1 6-1 6,0 6,0 6-1 6-2 6-2 6-3 6-2 6-1 6,0 6,2 6,1 6,0 6-1 6-1 6-2 6-2 6-1 6-1 6-3 6-5 6-5 6-3 6-2 6,1 6,1 6,0 6-3 6-4 6-5 6-3 6-2 6,1 6,0 6,0 6-2 6-2 6-1 6-1 6-1 6-1 6-2 6-2 6-3 6-3 6-4 6-4 6-4 6-4 6-2 6-1 6-2 6-3 6-3 6-3 2,0"/>
<path d="M272,781l6-1 6-2 6-3 6-2 6-1 6,0 6-1 6,0 6,0 6,1 6,2 6,3 6,1 6-1 6-3 6-4 6-4 6-2 6-1 6,1 6,2 6,2 6,3 6,1 6,1 6,0 6,0 6,0 6,0 6,0 6-1 6-2 6-2 6-3 6-3 6-3 6-1 6,0 6,1 6,1 6,0 6,0 6,0 6,1 6,2 6,0 6,0 6-1 6-3 6-2 6-1 6,1 6,2 6,1 6,2 6,3 6,5 6,6 6,7 6,6 6,5 6,4 6,4 6,6 6,7 6,9 6,9 6,8 6,7 6,5 6,5 6,5 6,1 6-1 6-5 6-4 6-5 6-5 6-6 6-11 6-18 6-29 6-15 6-5 6-4 6-7 6-6 6-5 6-3 6-1 6,1 6,2 6,2 6,1 6-2 6-3 6-5 6-3 6-2 6,0 6,1 6-2 6-3 6-7 6-15 6-19 6-22 6-22 6-21 6-19 6-19 6-16 6-16 6-13 6-11 6-4 6,4 6,8 6,10 6,15 6,26 6,39 6,33 6,31 6,20 6,14 6,10 6,9 6,11 6,14 6,15 6,15 6,12 6,9 6,6 6,5 6,6 6,6 6,6 6,5 6,5 6,3 6,3 6,1 6,1 6,0 6-2 6-3 6-4 6-4 6-4 6-6 6-5 6-5 6-4 6-2 6,0 6,0 6-1 6-1 6,0 6,1 6,2 6,2 6,1 6,0 6,0 6,1 6,0 6,0 6,1 6,0 6,2 6,3 6,5 6,5 6,7 6,8 6,8 6,10 6,9 6,9 6,7 6,6 6,4 6,3 6,2 6,0 6,0 6-1 6-1 6-1 6-2 6-3 6-4 6-6 6-8 6-8 6-7 6-5 6-3 6-2 6-3 6-3 6-3 6-2 6-2 6,0 6,1 6,2 6,2 6,2 6,1 6,0 6,0 6,0 6,2 6,4 6,6 6,6 6,5 6,4 6,3 6,3 6,2 6,1 6,1 6,0 6-1 6-1 6-3 6-3 6-3 6-5 6-4 6-5 6-4 6-3 6-1 6,0 6,1 6,0 6,1 6,0 6,0 6,0 6,0 6,0 6-1 6-2 6-1 6-3 6-2 6-2 6-1 6,3 6,6 6,8 6,7 6,7 6,6 6,5 6,4 6,2 6,3 6,2 6,2 6,0 6-2 6-6 6-7 6-7 6-7 6-5 6-6 6-5 6-6 6-6 6-6 6-3 6-2 2-1"/>
<path d="M272,731l6-1 6-1 6,0 6,1 6,1 6,1 6,0 6-1 6-2 6-1 6,0 6,2 6,5 6,4 6,5 6,4 6,4 6,5 6,6 6,4 6,1 6-1 6-1 6,1 6,1 6,1 6,0 6,0 6,0 6,1 6-1 6-2 6-2 6-3 6-1 6-3 6-3 6-4 6-4 6-4 6-2 6-2 6-2 6-2 6-3 6-4 6-3 6-3 6-2 6-1 6,0 6,2 6,3 6,4 6,4 6,5 6,7 6,9 6,9 6,10 6,9 6,8 6,6 6,5 6,5 6,8 6,9 6,9 6,6 6,4 6,4 6,4 6,2 6,1 6-1 6-4 6-6 6-7 6-8 6-12 6-32 6-59 6-36 6-16 6-13 6-15 6-11 6-4 6-2 6,1 6,2 6,2 6,2 6-1 6-5 6-9 6-10 6-8 6-4 6,1 6,3 6,4 6,3 6,2 6-5 6-11 6-16 6-17 6-9 6-8 6-5 6-5 6-6 6-6 6-8 6-2 6,5 6,10 6,10 6,15 6,25 6,38 6,33 6,33 6,23 6,19 6,15 6,15 6,16 6,18 6,17 6,13 6,10 6,5 6,3 6,3 6,4 6,3 6,2 6,0 6-2 6-3 6,0 6,2 6,3 6,4 6,3 6,0 6-1 6-2 6-3 6-3 6-3 6-3 6-2 6,0 6,0 6-1 6,0 6,0 6,0 6,0 6-3 6-5 6-7 6-8 6-6 6-6 6-5 6-5 6-5 6-4 6-3 6-2 6-1 6,0 6,1 6,0 6,1 6,2 6,2 6,1 6,0 6,0 6,2 6,3 6,5 6,3 6,2 6,0 6-1 6-1 6,1 6,0 6,1 6-1 6-1 6-2 6-1 6,0 6,0 6,0 6,0 6,0 6,1 6,2 6,1 6,2 6,1 6,2 6,3 6,2 6,2 6,2 6,3 6,3 6,3 6,2 6,1 6,0 6-1 6-1 6,0 6,1 6,3 6,6 6,9 6,8 6,7 6,6 6,5 6,5 6,5 6,4 6,3 6,4 6,4 6,4 6,3 6,2 6,3 6,2 6,2 6,2 6,1 6,0 6-1 6,0 6,0 6-1 6-2 6-4 6-5 6-6 6-6 6-5 6-3 6-4 6-4 6-5 6-4 6,0 6,3 6,5 6,6 6,6 6,5 6,6 6,6 6,7 6,8 6,6 6,5 6,5 6,4 6,3 6,3 6,2 6,0 6-1 6-1 2,0"/>
<path d="M272,754l6,1 6,1 6,1 6-2 6-3 6-3 6-2 6,0 6,2 6,2 6,3 6,2 6,1 6,1 6,1 6,0 6,1 6,3 6,4 6,4 6,3 6,1 6,0 6-1 6-1 6,0 6,2 6,3 6,1 6,0 6-4 6-5 6-5 6-5 6-2 6-1 6,1 6,0 6-1 6-2 6-3 6-2 6-3 6-2 6-3 6-3 6-1 6,1 6,4 6,6 6,7 6,7 6,5 6,4 6,4 6,8 6,11 6,14 6,12 6,10 6,7 6,5 6,3 6,2 6,1 6,4 6,4 6,4 6,3 6,2 6,3 6,4 6,3 6,2 6-2 6-4 6-6 6-6 6-5 6-8 6-22 6-42 6-28 6-17 6-18 6-19 6-15 6-11 6-9 6-6 6-5 6-4 6-3 6-4 6-10 6-14 6-18 6-18 6-15 6-11 6-7 6-4 6-3 6-4 6-10 6-17 6-24 6-26 6-12 6-7 6-3 6,1 6,3 6,8 6,8 6,12 6,17 6,19 6,19 6,24 6,35 6,46 6,38 6,35 6,24 6,22 6,18 6,15 6,16 6,15 6,14 6,10 6,7 6,6 6,5 6,4 6,3 6,1 6,0 6-1 6-2 6-3 6-4 6-4 6-4 6-3 6-4 6-3 6-4 6-5 6-6 6-8 6-8 6-8 6-9 6-8 6-8 6-8 6-6 6-4 6-2 6-1 6-1 6-1 6-3 6-3 6-1 6-1 6,1 6,2 6,1 6,2 6,0 6,1 6,1 6,1 6,1 6,3 6,2 6,3 6,2 6,2 6,2 6,2 6,1 6,2 6,1 6,1 6,1 6,1 6,1 6-1 6-1 6-1 6,0 6,1 6,1 6,1 6-1 6-1 6-2 6-1 6,0 6,3 6,5 6,6 6,8 6,6 6,4 6,3 6,3 6,4 6,4 6,4 6,3 6,2 6,2 6,4 6,3 6,4 6,4 6,3 6,4 6,4 6,5 6,6 6,5 6,6 6,6 6,4 6,2 6,0 6-2 6-2 6-1 6,0 6,3 6,5 6,6 6,5 6,3 6,2 6,2 6,2 6,5 6,6 6,6 6,5 6,3 6,2 6,3 6,6 6,6 6,7 6,6 6,6 6,7 6,7 6,7 6,6 6,5 6,3 6,2 6,1 6-1 6,0 6-1 6-1 6-2 6-1 6-2 6,0 6,0 6,1 6,0 6-1 6-1 6-1 6,0 6,2 6,1 2,1"/>
<path d="M272,754l6,1 6,2 6,1 6,1 6,1 6,1 6,3 6,2 6,2 6,2 6,2 6,1 6,1 6,0 6-1 6,0 6,1 6,1 6,2 6,2 6,2 6,2 6,0 6-1 6,0 6-1 6,0 6,2 6,1 6,0 6-2 6-2 6,0 6,1 6,4 6,4 6,3 6,2 6,0 6-1 6-1 6-1 6-1 6,0 6,0 6,0 6,1 6,2 6,4 6,6 6,6 6,5 6,3 6,1 6,0 6,4 6,8 6,12 6,11 6,10 6,4 6,2 6,0 6-2 6,0 6,2 6,5 6,4 6,4 6,3 6,5 6,7 6,8 6,4 6-1 6-5 6-7 6-7 6-9 6-12 6-17 6-28 6-20 6-13 6-13 6-13 6-10 6-8 6-7 6-6 6-6 6-5 6-4 6-5 6-8 6-8 6-10 6-9 6-7 6-4 6-2 6-2 6-1 6-4 6-11 6-18 6-22 6-25 6-21 6-20 6-20 6-17 6-15 6-11 6-8 6-3 6,4 6,11 6,17 6,27 6,45 6,59 6,52 6,48 6,40 6,38 6,31 6,23 6,18 6,13 6,8 6,3 6-5 6-8 6-5 6,2 6,3 6,2 6-1 6-5 6-8 6-8 6-6 6-4 6-3 6-3 6-5 6-5 6-5 6-5 6-4 6-3 6-3 6-6 6-6 6-7 6-6 6-4 6-1 6,0 6,2 6,2 6,4 6,3 6,3 6,4 6,2 6,0 6,0 6-1 6,0 6-2 6-3 6-3 6-2 6,0 6,2 6,4 6,4 6,4 6,3 6,2 6,2 6,1 6,3 6,3 6,4 6,3 6,3 6,1 6,1 6,0 6,1 6,0 6,0 6-1 6,1 6,4 6,4 6,5 6,5 6,4 6,4 6,4 6,3 6,1 6,1 6,1 6,1 6,1 6,1 6,1 6,0 6,1 6,2 6,4 6,3 6,3 6,2 6,2 6,1 6,2 6,3 6,3 6,3 6,3 6,1 6,0 6-2 6-3 6-4 6-4 6-5 6-6 6-5 6-3 6-3 6,0 6,1 6,2 6,2 6,1 6,0 6-2 6-3 6-4 6-4 6-5 6-5 6-7 6-7 6-7 6-5 6-4 6-1 6,1 6,4 6,4 6,3 6,2 6,1 6,1 6-1 6-2 6-4 6-7 6-9 6-11 6-9 6-8 6-5 6-3 6-3 6-2 6-3 6-2 6,0 6,1 6,2 6,1 6,1 2,0"/>
<path d="M272,811l6-2 6-5 6-4 6-1 6,0 6,2 6,1 6,1 6,1 6,1 6,1 6,0 6,0 6,1 6,1 6,1 6,0 6-1 6,0 6,1 6,1 6,1 6-1 6-1 6-2 6-2 6-2 6,0 6,1 6,1 6,0 6,1 6,2 6,2 6,2 6,1 6,1 6,0 6,1 6,1 6,1 6,1 6,0 6,0 6-1 6,0 6-1 6,0 6,2 6,3 6,2 6,0 6,0 6,0 6,0 6,5 6,8 6,11 6,11 6,8 6,6 6,4 6,3 6,1 6,3 6,4 6,6 6,6 6,6 6,5 6,8 6,11 6,11 6,9 6,4 6,3 6,4 6,3 6,3 6,0 6-8 6-20 6-21 6-23 6-21 6-20 6-18 6-18 6-14 6-12 6-10 6-10 6-10 6-8 6-8 6-7 6-7 6-6 6-5 6-3 6-2 6-3 6-5 6-7 6-15 6-20 6-23 6-25 6-22 6-20 6-16 6-11 6-10 6-6 6-5 6,1 6,13 6,18 6,20 6,28 6,42 6,53 6,42 6,36 6,30 6,26 6,19 6,11 6,8 6,6 6,3 6-2 6-6 6-8 6-6 6-1 6-1 6-1 6-1 6-2 6-1 6-2 6-3 6-3 6-4 6-4 6-3 6-4 6-5 6-6 6-6 6-5 6-5 6-6 6-6 6-5 6-3 6-1 6,2 6,6 6,8 6,7 6,7 6,6 6,5 6,7 6,7 6,7 6,6 6,4 6,1 6,1 6,1 6,3 6,5 6,6 6,5 6,5 6,4 6,4 6,3 6,4 6,3 6,3 6,2 6,2 6,1 6,1 6,2 6,3 6,5 6,5 6,3 6,3 6,1 6,0 6,0 6-1 6-1 6-1 6,0 6,0 6,0 6-1 6-1 6-2 6-2 6-1 6-2 6,0 6-2 6-2 6-3 6-4 6-2 6,0 6,1 6,1 6,2 6,0 6,0 6-1 6-2 6-2 6-2 6-1 6,0 6,1 6-1 6-2 6-5 6-5 6-6 6-5 6-4 6-3 6-3 6-3 6-5 6-7 6-6 6-5 6-5 6-2 6-2 6-2 6-2 6-5 6-6 6-9 6-9 6-7 6-5 6-1 6,1 6,0 6-1 6-2 6,0 6,0 6,1 6,0 6-3 6-4 6-3 6-1 6,2 6,4 6,3 6,1 6,2 6,2 6,2 6,4 6,3 6,2 6,1 6-1 6-3 6-3 6-3 2,0"/>
<path d="M272,775l6,1 6,0 6,0 6,0 6,0 6,0 6,1 6,1 6,1 6,3 6,3 6,3 6,2 6,1 6,0 6-1 6-1 6-1 6,0 6,0 6,1 6,2 6,1 6,0 6-1 6-2 6-2 6-2 6-1 6,0 6,1 6,2 6,3 6,3 6,3 6,2 6,2 6-1 6-1 6-3 6-1 6-1 6-1 6-1 6-1 6-2 6-2 6-1 6,0 6,0 6,1 6,3 6,2 6,1 6,1 6,5 6,9 6,12 6,13 6,10 6,7 6,5 6,4 6,3 6,4 6,5 6,5 6,5 6,6 6,6 6,10 6,12 6,11 6,9 6,5 6,3 6,3 6,1 6,0 6-4 6-11 6-19 6-16 6-15 6-14 6-14 6-13 6-11 6-9 6-5 6-4 6-4 6-4 6-3 6-2 6-1 6-3 6-3 6-5 6-5 6-6 6-7 6-8 6-9 6-11 6-13 6-10 6-11 6-10 6-12 6-10 6-5 6-2 6-2 6-5 6,5 6,17 6,23 6,24 6,31 6,44 6,48 6,26 6,19 6,22 6,22 6,14 6,4 6,1 6,2 6,2 6-3 6-11 6-15 6-11 6-2 6-1 6-1 6,0 6-1 6,0 6,0 6,1 6,2 6,0 6,0 6-1 6-2 6-2 6-2 6-2 6-1 6-1 6-2 6-4 6-4 6-3 6-1 6,0 6,1 6,0 6,1 6,1 6,2 6,1 6,0 6-1 6-2 6-2 6-2 6-2 6-2 6-2 6-3 6-4 6-5 6-6 6-3 6-1 6,2 6,2 6,3 6,2 6,4 6,4 6,5 6,4 6,3 6,3 6,2 6,4 6,4 6,5 6,5 6,4 6,4 6,3 6,4 6,4 6,3 6,3 6,0 6,0 6,0 6,0 6,1 6,1 6,0 6,0 6-1 6-1 6-1 6-2 6-2 6-1 6,0 6,0 6,2 6,1 6,2 6,1 6,2 6,2 6,2 6,1 6,1 6,0 6,0 6-1 6,0 6,1 6,1 6,1 6,1 6,1 6-1 6-2 6-3 6-3 6-2 6-1 6,0 6,0 6,1 6,2 6,2 6,2 6,2 6,2 6,2 6,1 6,2 6,0 6-1 6-2 6-1 6-2 6-1 6-1 6-1 6-2 6-1 6-2 6-2 6-1 6-1 6-1 6,0 6,0 6,1 6,1 6,2 6,3 6,3 6,2 6,1 6,0 6,2 6,2 6,2 6,2 2,1"/>
<path d="M272,805l6-1 6-2 6-3 6-3 6-2 6-2 6-1 6,0 6,0 6,0 6,0 6,0 6-1 6-2 6-1 6-2 6-1 6-1 6-1 6,0 6,2 6,2 6,2 6,1 6,0 6-1 6-2 6-1 6,0 6,0 6,1 6-1 6-2 6-2 6-2 6,0 6,0 6,0 6,0 6,2 6,3 6,2 6,2 6,2 6,1 6,0 6,1 6,0 6,1 6,2 6,2 6,2 6,1 6,0 6,1 6,5 6,9 6,12 6,13 6,11 6,8 6,7 6,6 6,7 6,5 6,5 6,5 6,5 6,5 6,8 6,13 6,15 6,14 6,8 6,3 6-1 6-2 6-2 6-2 6-1 6-6 6-15 6-16 6-20 6-20 6-19 6-19 6-17 6-16 6-12 6-12 6-11 6-11 6-10 6-11 6-12 6-13 6-13 6-12 6-11 6-9 6-9 6-9 6-14 6-23 6-30 6-34 6-36 6-29 6-25 6-23 6-22 6-20 6-13 6-7 6-2 6,2 6,4 6,5 6,9 6,23 6,42 6,47 6,48 6,31 6,23 6,19 6,20 6,21 6,20 6,19 6,16 6,15 6,13 6,9 6,2 6,1 6,2 6,1 6,0 6,0 6-2 6-1 6-2 6,0 6-1 6-1 6-1 6-3 6-4 6-4 6-4 6-3 6-3 6-1 6,0 6,1 6,0 6,2 6,3 6,3 6,3 6,5 6,4 6,3 6,2 6,2 6,2 6,3 6,4 6,3 6,2 6,1 6,1 6,1 6,2 6,3 6,4 6,3 6,3 6,3 6,3 6,3 6,3 6,3 6,3 6,3 6,3 6,3 6,2 6,3 6,2 6,3 6,4 6,5 6,5 6,6 6,6 6,5 6,6 6,5 6,5 6,5 6,3 6,3 6,1 6-1 6-1 6-1 6-1 6-1 6-1 6-1 6-1 6-3 6-3 6-4 6-3 6-3 6-3 6-3 6-3 6-3 6-1 6,1 6,4 6,4 6,5 6,4 6,4 6,4 6,3 6,2 6,1 6,0 6,0 6,0 6,1 6,1 6,1 6,0 6,0 6-1 6,0 6,0 6,2 6,1 6,2 6,0 6,1 6,0 6,2 6,3 6,3 6,4 6,5 6,3 6,2 6,0 6-1 6-2 6-3 6-2 6-2 6-1 6-3 6-3 6-4 6-5 6-6 6-9 6-10 6-10 6-12 6-11 6-11 6-9 6-7 6-6 6-5 6-3 2,0"/>
<path d="M272,811l6,0 6,1 6,2 6,1 6,0 6,0 6-1 6,1 6,2 6,2 6,1 6,1 6,0 6,1 6,2 6,1 6,0 6-3 6-4 6-5 6-3 6-2 6,0 6-1 6-2 6-2 6-2 6-1 6-1 6,0 6,0 6,1 6,3 6,2 6,3 6,3 6,1 6,1 6-1 6-3 6-3 6-3 6-2 6-1 6,1 6,3 6,4 6,5 6,5 6,4 6,2 6,1 6,1 6,1 6,2 6,6 6,10 6,12 6,13 6,13 6,9 6,8 6,5 6,4 6,3 6,3 6,3 6,2 6,2 6,5 6,9 6,13 6,12 6,8 6,4 6,3 6,3 6,2 6,0 6-1 6-6 6-14 6-17 6-20 6-21 6-22 6-20 6-20 6-16 6-12 6-12 6-10 6-7 6-5 6-6 6-8 6-11 6-12 6-13 6-13 6-11 6-10 6-11 6-11 6-19 6-24 6-29 6-34 6-31 6-29 6-25 6-21 6-17 6-6 6-1 6,5 6,11 6,13 6,16 6,19 6,32 6,46 6,42 6,39 6,30 6,27 6,23 6,22 6,21 6,18 6,16 6,12 6,7 6,3 6,1 6,2 6,3 6,3 6,4 6,5 6,4 6,3 6,4 6,4 6,5 6,5 6,6 6,6 6,5 6,3 6,1 6,0 6-1 6-1 6-1 6,0 6,0 6,0 6,1 6,1 6,2 6,1 6,1 6,0 6,0 6,1 6,2 6,3 6,3 6,2 6,2 6,2 6,4 6,4 6,6 6,5 6,5 6,3 6,3 6,1 6,1 6,0 6,1 6,0 6,1 6,2 6,2 6,3 6,3 6,1 6,1 6,1 6,2 6,3 6,3 6,3 6,3 6,3 6,2 6,0 6-1 6-1 6-2 6-1 6,1 6,2 6,2 6,1 6,0 6-3 6-4 6-5 6-4 6-4 6-2 6-1 6-2 6-1 6-1 6-2 6-1 6-2 6-3 6-4 6-3 6-3 6-2 6-2 6-1 6-1 6-1 6-2 6-1 6,0 6,1 6,2 6,1 6,1 6-1 6,0 6,0 6,0 6,1 6-1 6,0 6,0 6,1 6,2 6,1 6-2 6-3 6-3 6-3 6,0 6,2 6,3 6,3 6,4 6,2 6,0 6,0 6,0 6,1 6,4 6,4 6,4 6,4 6,4 6,3 6,2 6,0 6,0 6-1 6,0 6,0 6,0 6,0 6,0 6-1 6,0 6-1 2,1"/>
<path d="M272,767l6,1 6,1 6,3 6,2 6,2 6,1 6-1 6-1 6-3 6-3 6-2 6,0 6,0 6,1 6,0 6-1 6-1 6-2 6-1 6-1 6,2 6,2 6,2 6,2 6,1 6,1 6,1 6,1 6,0 6,0 6,0 6,0 6-1 6-2 6-1 6-1 6,1 6,1 6,1 6,0 6-1 6-1 6-2 6-3 6-1 6,1 6,2 6,2 6,1 6,0 6-1 6,0 6,1 6,2 6,2 6,4 6,5 6,6 6,6 6,6 6,6 6,6 6,6 6,5 6,5 6,6 6,6 6,7 6,7 6,5 6,6 6,6 6,3 6-1 6-4 6-7 6-7 6-7 6-9 6-14 6-22 6-36 6-25 6-15 6-16 6-17 6-14 6-9 6-6 6-4 6-4 6-3 6-5 6-7 6-12 6-16 6-19 6-18 6-14 6-8 6-3 6-2 6-1 6-3 6-14 6-22 6-29 6-30 6-17 6-13 6-8 6-5 6-6 6,1 6,4 6,6 6,8 6,10 6,10 6,15 6,28 6,44 6,43 6,42 6,29 6,25 6,21 6,21 6,20 6,18 6,16 6,11 6,11 6,7 6,5 6,0 6-2 6-2 6-2 6-2 6-1 6-3 6-3 6-5 6-4 6-3 6-3 6-3 6-3 6-3 6-2 6-2 6-2 6-2 6-3 6-1 6-1 6-1 6,0 6,1 6,2 6,3 6,2 6,1 6-2 6-3 6-2 6-2 6-2 6-3 6-1 6,0 6,0 6,2 6,4 6,5 6,5 6,4 6,4 6,4 6,4 6,5 6,6 6,4 6,4 6,3 6,2 6,2 6,2 6,0 6,0 6-2 6-2 6-3 6-3 6-1 6,0 6,0 6,1 6,2 6,3 6,3 6,2 6,1 6,1 6,0 6,0 6-1 6,0 6,1 6,1 6,2 6,3 6,3 6,3 6,2 6,1 6,0 6-1 6-1 6,0 6,1 6,3 6,1 6,1 6,0 6,0 6-2 6-1 6-2 6-2 6-3 6-2 6-2 6-1 6-1 6,0 6-2 6-3 6-3 6-3 6-2 6-2 6-2 6,0 6,0 6,0 6,0 6,0 6-2 6-3 6-2 6,0 6-1 6,0 6-1 6-1 6-2 6,0 6,0 6,1 6,2 6,2 6,1 6,0 6,0 6-1 6-1 6-1 6-1 6,0 6-1 6,1 6,3 6,3 6,5 6,5 6,3 6,2 6,1 6,0 2,0"/>
<path d="M272,773l6,2 6,2 6,3 6,3 6,1 6,1 6-1 6-1 6,0 6,2 6,2 6,1 6-2 6-2 6-2 6-3 6-3 6-2 6-1 6-1 6,0 6,1 6-1 6-2 6-3 6-2 6-1 6,1 6,2 6,2 6-1 6-1 6-2 6-2 6-1 6-2 6-1 6-1 6,1 6,2 6,2 6,2 6,1 6-1 6,0 6,1 6,1 6,1 6-1 6-2 6-2 6-2 6-2 6-3 6-4 6-2 6,1 6,4 6,5 6,7 6,6 6,6 6,6 6,6 6,7 6,9 6,9 6,8 6,7 6,6 6,8 6,7 6,4 6,1 6-2 6-5 6-4 6-4 6-5 6-10 6-20 6-32 6-22 6-11 6-10 6-9 6-6 6-3 6-3 6-3 6-4 6-5 6-7 6-9 6-12 6-14 6-14 6-13 6-12 6-8 6-8 6-6 6-7 6-10 6-18 6-23 6-28 6-30 6-22 6-19 6-17 6-15 6-12 6-5 6-2 6,3 6,6 6,9 6,12 6,18 6,31 6,48 6,47 6,46 6,31 6,26 6,21 6,20 6,19 6,19 6,16 6,13 6,10 6,7 6,4 6,1 6,2 6,4 6,4 6,4 6,2 6,2 6,0 6,0 6-2 6-1 6,0 6,3 6,6 6,6 6,5 6,4 6,2 6,1 6,1 6,1 6,2 6,2 6,3 6,4 6,2 6,2 6,1 6,0 6,0 6,0 6,0 6,0 6,0 6,1 6,3 6,4 6,4 6,3 6,3 6,1 6,3 6,3 6,3 6,4 6,5 6,5 6,5 6,4 6,3 6,3 6,4 6,2 6,1 6-1 6-2 6-2 6-1 6,0 6-1 6-1 6-3 6-3 6-1 6-1 6,2 6,2 6,1 6,2 6,2 6,3 6,4 6,5 6,3 6,3 6,2 6,2 6,2 6,1 6,0 6,1 6,1 6,2 6,0 6,1 6,1 6,4 6,4 6,5 6,4 6,3 6,2 6,3 6,1 6,1 6,0 6,0 6,1 6,1 6,2 6,2 6,2 6,1 6,1 6-1 6-2 6-5 6-5 6-5 6-4 6-2 6-2 6-1 6-1 6-2 6-1 6,0 6,0 6-1 6-1 6-4 6-7 6-9 6-9 6-8 6-7 6-4 6-3 6-2 6-2 6-2 6-1 6,1 6,3 6,5 6,5 6,7 6,6 6,5 6,4 6,3 6,4 6,4 6,4 6,2 6,0 2,0"/>
<path d="M272,771l6,0 6,0 6,0 6,1 6,1 6,0 6,0 6,0 6,0 6,0 6,0 6,0 6-1 6-1 6-1 6-1 6,1 6,1 6,2 6,3 6,2 6,1 6,0 6,0 6-1 6-2 6-2 6-2 6,0 6,2 6,2 6,0 6-2 6-3 6-3 6-2 6-2 6-2 6-2 6-3 6-3 6-2 6-1 6-2 6-1 6,1 6,1 6,2 6,1 6-1 6-3 6-2 6-1 6,0 6,2 6,3 6,5 6,5 6,5 6,4 6,3 6,1 6,1 6,3 6,6 6,11 6,15 6,14 6,10 6,6 6,6 6,5 6,6 6,4 6,2 6,3 6,2 6,2 6,0 6-6 6-16 6-29 6-22 6-15 6-14 6-14 6-13 6-10 6-8 6-7 6-5 6-6 6-6 6-8 6-11 6-13 6-13 6-12 6-11 6-8 6-5 6-3 6-2 6-2 6-9 6-14 6-18 6-19 6-12 6-11 6-10 6-9 6-9 6-7 6-6 6-2 6,5 6,8 6,10 6,15 6,28 6,43 6,38 6,37 6,28 6,23 6,21 6,18 6,15 6,13 6,9 6,5 6,3 6,4 6,4 6,4 6,3 6,1 6-3 6-4 6-6 6-4 6-4 6-2 6-1 6,0 6-1 6-1 6-4 6-5 6-6 6-5 6-5 6-4 6-3 6-1 6-1 6,0 6,1 6,2 6,3 6,3 6,3 6,2 6,1 6,3 6,5 6,7 6,7 6,5 6,4 6,5 6,5 6,6 6,8 6,9 6,8 6,8 6,7 6,5 6,4 6,3 6,1 6,1 6,1 6,1 6,1 6,0 6,0 6,1 6,3 6,4 6,6 6,6 6,4 6,3 6,1 6,1 6,2 6,3 6,2 6,1 6,1 6-1 6-1 6-1 6-1 6-1 6,0 6-1 6-2 6-1 6-2 6,0 6,0 6,0 6,1 6,1 6,1 6,0 6,1 6,0 6,0 6-1 6-2 6-2 6,0 6,2 6,5 6,8 6,7 6,6 6,2 6,0 6-1 6-1 6-3 6-3 6-4 6-5 6-7 6-7 6-7 6-6 6-6 6-6 6-5 6-6 6-7 6-7 6-7 6-7 6-5 6-5 6-4 6-4 6-2 6-2 6-2 6-2 6-3 6-3 6-2 6-2 6-1 6,1 6,3 6,4 6,6 6,7 6,7 6,6 6,3 6,3 6,2 6,2 6,2 6,2 6,1 6-1 6,0 2,0"/>
<path d="M272,786l6,1 6,1 6-1 6-1 6-2 6-2 6-1 6-1 6-1 6-2 6-1 6-1 6,0 6,0 6-1 6-2 6-3 6-3 6,0 6,1 6,3 6,1 6,0 6-2 6-2 6,0 6,1 6,3 6,1 6,1 6,1 6,2 6,1 6,0 6,0 6-2 6-3 6-3 6-2 6,0 6,1 6,2 6,2 6-1 6-2 6-4 6-5 6-4 6-1 6,0 6,0 6,0 6,0 6,0 6-1 6,0 6,0 6,1 6,3 6,4 6,4 6,3 6,2 6,3 6,4 6,9 6,10 6,9 6,6 6,3 6,3 6,5 6,3 6,1 6-1 6-4 6-5 6-5 6-7 6-12 6-22 6-38 6-24 6-12 6-11 6-11 6-9 6-5 6-4 6-5 6-4 6-5 6-6 6-5 6-7 6-10 6-12 6-13 6-10 6-7 6-5 6-3 6-4 6-5 6-13 6-18 6-23 6-22 6-14 6-12 6-9 6-8 6-7 6-4 6-2 6,0 6,3 6,5 6,7 6,12 6,26 6,42 6,44 6,43 6,30 6,25 6,26 6,28 6,28 6,28 6,23 6,19 6,13 6,6 6,2 6,1 6,3 6,3 6,3 6,3 6,1 6-1 6-1 6-1 6,0 6-1 6,0 6,0 6,0 6-1 6-4 6-7 6-9 6-9 6-10 6-8 6-6 6-4 6,0 6,3 6,6 6,7 6,7 6,6 6,3 6,3 6,3 6,3 6,4 6,3 6,2 6,2 6,0 6-1 6-2 6,0 6-1 6,1 6,2 6,3 6,3 6,2 6,2 6,0 6-1 6-1 6-3 6-4 6-4 6-4 6-4 6-4 6-4 6-1 6,2 6,2 6,3 6,0 6-2 6-1 6,0 6,3 6,5 6,5 6,6 6,5 6,4 6,4 6,2 6,0 6-1 6-2 6-2 6,0 6,1 6,4 6,4 6,3 6,5 6,7 6,9 6,10 6,10 6,6 6,4 6,1 6,1 6,1 6,3 6,2 6,1 6,0 6-3 6-4 6-5 6-6 6-6 6-3 6,0 6,3 6,4 6,5 6,5 6,6 6,5 6,4 6,3 6,2 6-1 6-4 6-6 6-9 6-10 6-11 6-11 6-10 6-11 6-12 6-12 6-10 6-7 6-5 6-4 6-5 6-5 6-7 6-8 6-9 6-9 6-8 6-6 6-4 6-1 6-1 6,1 6,1 6,0 6-2 6-2 6-2 6-2 2,0"/>
<path d="M272,781l6,0 6-2 6-1 6-1 6-1 6,0 6,0 6,0 6,0 6,1 6,1 6,2 6,1 6,1 6-1 6,0 6-1 6-1 6,0 6,1 6,0 6-1 6-1 6-2 6,0 6-1 6,1 6,0 6,1 6,2 6,1 6,0 6,1 6,0 6,1 6,3 6,2 6,2 6,1 6,1 6,1 6,1 6,1 6,1 6,1 6,1 6-1 6-3 6-3 6-5 6-4 6-4 6-1 6,0 6,1 6,3 6,5 6,5 6,4 6,3 6,4 6,5 6,7 6,10 6,11 6,12 6,13 6,12 6,9 6,9 6,11 6,14 6,15 6,12 6,6 6,3 6-2 6-4 6-6 6-7 6-13 6-23 6-24 6-23 6-24 6-24 6-20 6-17 6-13 6-8 6-6 6-6 6-4 6-4 6-3 6-3 6-4 6-2 6-1 6,1 6,1 6-1 6-2 6-5 6-12 6-16 6-16 6-17 6-16 6-16 6-15 6-12 6-11 6-8 6-8 6-1 6,9 6,13 6,14 6,17 6,29 6,38 6,29 6,26 6,21 6,19 6,14 6,11 6,11 6,10 6,9 6,6 6,1 6-1 6,0 6,3 6,4 6,3 6,2 6,0 6,1 6,1 6,1 6,2 6,0 6,0 6-1 6-1 6-2 6-4 6-5 6-6 6-5 6-3 6-2 6,0 6,1 6,1 6,2 6,1 6-1 6-2 6-3 6-2 6-1 6,0 6,2 6,3 6,4 6,4 6,3 6,1 6-1 6-2 6-1 6,1 6,2 6,1 6-1 6-3 6-3 6-2 6,1 6,3 6,4 6,3 6,3 6,1 6,0 6,0 6,2 6,5 6,6 6,9 6,9 6,9 6,8 6,8 6,7 6,5 6,5 6,3 6,3 6,2 6,0 6-1 6-2 6-2 6-3 6-4 6-2 6-1 6,1 6,1 6-1 6-3 6-3 6-1 6,3 6,7 6,10 6,13 6,13 6,13 6,12 6,9 6,7 6,5 6,2 6,1 6,0 6-1 6-1 6-3 6-4 6-5 6-4 6-4 6-3 6-1 6,1 6,2 6,2 6,3 6,0 6,0 6-1 6,0 6,0 6,0 6-1 6,0 6,0 6,0 6,0 6,1 6,2 6,2 6,2 6,0 6-1 6-1 6-1 6-1 6-2 6-2 6-2 6-2 6-3 6-2 6-3 6-5 6-7 6-8 6-6 6-6 6-3 6-3 6-1 6-1 6,0 2,0"/>
<path d="M272,834l6,1 6,0 6,0 6,0 6,0 6-1 6,0 6,0 6,0 6,1 6,1 6,1 6-1 6,0 6,0 6,0 6,0 6-1 6-2 6-2 6-2 6-2 6-1 6,0 6,0 6-1 6,0 6,0 6,1 6,2 6,2 6,1 6,1 6,1 6,1 6,1 6,0 6,0 6,0 6-2 6-2 6-4 6-4 6-3 6-2 6,0 6-1 6,1 6,0 6,1 6,3 6,3 6,4 6,3 6,4 6,8 6,12 6,15 6,14 6,13 6,8 6,7 6,6 6,5 6,1 6,1 6,0 6-2 6-3 6-2 6,6 6,8 6,8 6,4 6,0 6-1 6-3 6-5 6-8 6-14 6-22 6-33 6-28 6-23 6-21 6-20 6-16 6-14 6-11 6-7 6-5 6-3 6-2 6-1 6-2 6-3 6-3 6-2 6-2 6-2 6-3 6-5 6-7 6-12 6-21 6-26 6-30 6-33 6-27 6-24 6-21 6-18 6-15 6-9 6-7 6,0 6,6 6,10 6,10 6,14 6,27 6,45 6,44 6,43 6,32 6,28 6,26 6,23 6,22 6,19 6,16 6,11 6,8 6,4 6,4 6,3 6,3 6,3 6,1 6-1 6-1 6,0 6,0 6,0 6,0 6,0 6,0 6,0 6,1 6,1 6-1 6-2 6-3 6-3 6-2 6-1 6,0 6,0 6,0 6-1 6-2 6-2 6-2 6-1 6-1 6-2 6-4 6-5 6-5 6-5 6-3 6-2 6,0 6,1 6,3 6,3 6,4 6,3 6,4 6,3 6,2 6,3 6,3 6,2 6,3 6,1 6,2 6,2 6,3 6,4 6,6 6,7 6,7 6,8 6,6 6,4 6,3 6,2 6,5 6,5 6,5 6,4 6,1 6-1 6-4 6-4 6-5 6-4 6-4 6-4 6-3 6-2 6-1 6,1 6,1 6,2 6,1 6-1 6-3 6-3 6-2 6-1 6,0 6,2 6,3 6,4 6,4 6,3 6,2 6,0 6-1 6,0 6,1 6-1 6-1 6-4 6-3 6-3 6-1 6,0 6,0 6,1 6,2 6,1 6,2 6,0 6,2 6,1 6,1 6-1 6,0 6,0 6,0 6,2 6,2 6,2 6,4 6,5 6,5 6,5 6,4 6,4 6,4 6,2 6,2 6,2 6,2 6,2 6,0 6-3 6-5 6-7 6-9 6-9 6-9 6-8 6-8 6-7 6-7 6-4 6-2 2,0"/>
<path d="M272,780l6,0 6-1 6-1 6-1 6-1 6-1 6-1 6,0 6,0 6,2 6,1 6,2 6,3 6,3 6,3 6,2 6,2 6,0 6,0 6,0 6-1 6-1 6-1 6-1 6-1 6-1 6-1 6-1 6-1 6-1 6-1 6-1 6-1 6-2 6-1 6-2 6-1 6,0 6,1 6,1 6,1 6,0 6-2 6-3 6-4 6-6 6-6 6-6 6-7 6-5 6-5 6-3 6-1 6-1 6-2 6-1 6,1 6,2 6,4 6,5 6,8 6,10 6,12 6,12 6,13 6,13 6,13 6,10 6,6 6,3 6,5 6,5 6,4 6,1 6-4 6-8 6-9 6-9 6-6 6-7 6-23 6-44 6-17 6,0 6-1 6-3 6-1 6,2 6,2 6,3 6,2 6,1 6,0 6,0 6-4 6-6 6-8 6-9 6-8 6-6 6-7 6-7 6-9 6-11 6-16 6-20 6-22 6-22 6-16 6-15 6-12 6-8 6-6 6-1 6,1 6,7 6,15 6,20 6,23 6,30 6,42 6,51 6,42 6,40 6,33 6,31 6,24 6,17 6,14 6,11 6,9 6,10 6,9 6,9 6,7 6,4 6,3 6,2 6,0 6,0 6,0 6-2 6-3 6-4 6-4 6-5 6-4 6-4 6-5 6-6 6-6 6-6 6-5 6-5 6-3 6-3 6-3 6-4 6-3 6-2 6,0 6,0 6,2 6,1 6-1 6-2 6-2 6-3 6-3 6-4 6-4 6-4 6-4 6-4 6-2 6-1 6,1 6,2 6,3 6,5 6,5 6,5 6,3 6,2 6,1 6,0 6,0 6-1 6-2 6-2 6-2 6-3 6-3 6-3 6-4 6-4 6-4 6-4 6-3 6-1 6,2 6,3 6,4 6,4 6,3 6,3 6,3 6,3 6,3 6,2 6,3 6,3 6,2 6,2 6,1 6,1 6,1 6,0 6,0 6-3 6-3 6-5 6-5 6-4 6-5 6-5 6-4 6-4 6-3 6-1 6,1 6,2 6,5 6,5 6,6 6,7 6,6 6,6 6,4 6,2 6,1 6,0 6,0 6,1 6,3 6,6 6,8 6,8 6,9 6,6 6,3 6,2 6,2 6,4 6,6 6,6 6,6 6,3 6,3 6,3 6,4 6,4 6,3 6,2 6,1 6-1 6-2 6-3 6-4 6-4 6-4 6-4 6-4 6-5 6-6 6-6 6-6 6-5 6-3 6-1 6,0 2,0"/>
<path d="M272,793l6-1 6,0 6,1 6,0 6,1 6,0 6,0 6,0 6-1 6,1 6,1 6,2 6,2 6,2 6,2 6,0 6-1 6-3 6-3 6-2 6,0 6,2 6,2 6,2 6,2 6,1 6,0 6-1 6-1 6-1 6,1 6,1 6,3 6,2 6,1 6,0 6-1 6-2 6-1 6-2 6-2 6-2 6-1 6-2 6-2 6-2 6,0 6,1 6,1 6,0 6-2 6-3 6-4 6-2 6-1 6,3 6,6 6,8 6,8 6,7 6,5 6,6 6,7 6,6 6,5 6,5 6,5 6,6 6,6 6,6 6,10 6,11 6,10 6,8 6,5 6,5 6,5 6,4 6,2 6-2 6-6 6-14 6-12 6-12 6-13 6-12 6-13 6-13 6-10 6-5 6-4 6-2 6-1 6-1 6-1 6-4 6-5 6-8 6-9 6-10 6-11 6-10 6-9 6-10 6-15 6-20 6-23 6-25 6-23 6-24 6-21 6-17 6-16 6-13 6-13 6-6 6,1 6,5 6,7 6,13 6,26 6,41 6,38 6,36 6,29 6,25 6,23 6,21 6,20 6,20 6,15 6,11 6,5 6,2 6,2 6,5 6,4 6,2 6,0 6-2 6-2 6-2 6-3 6-2 6-2 6-1 6-2 6-1 6-3 6-3 6-6 6-6 6-7 6-7 6-5 6-5 6-3 6-1 6,2 6,4 6,7 6,7 6,6 6,6 6,4 6,4 6,4 6,2 6,2 6,1 6,1 6,0 6,0 6-1 6,0 6,2 6,3 6,5 6,6 6,8 6,7 6,8 6,7 6,6 6,5 6,4 6,4 6,4 6,5 6,4 6,4 6,4 6,3 6,2 6,2 6,1 6,1 6-1 6-1 6-2 6-1 6,1 6,2 6,3 6,3 6,2 6,2 6,1 6,0 6-1 6-1 6-1 6-2 6-2 6-3 6-3 6-3 6-3 6-2 6-1 6-1 6-1 6-2 6-2 6,0 6,0 6,3 6,4 6,3 6,2 6,1 6,2 6,3 6,4 6,4 6,3 6,3 6,0 6,0 6-3 6-4 6-3 6-2 6-2 6,0 6-1 6,0 6,0 6,1 6,2 6,3 6,4 6,4 6,4 6,3 6,3 6,3 6,3 6,3 6,4 6,4 6,4 6,4 6,3 6,2 6,2 6,2 6,3 6,3 6,2 6,0 6-1 6-4 6-3 6-3 6-2 6-1 6,0 6,1 6,2 6,1 2,1"/>
<path d="M272,787l6,2 6,1 6,2 6,1 6,0 6-1 6-1 6,0 6-1 6-1 6,0 6,1 6,1 6,2 6,0 6,0 6,0 6,0 6,2 6,1 6,1 6,0 6-1 6-1 6-2 6,0 6,0 6-1 6,0 6-1 6,0 6,0 6,1 6,0 6,1 6,0 6,1 6,0 6,0 6-1 6-2 6-2 6,0 6,0 6,1 6,0 6-2 6-1 6-1 6,0 6,1 6,1 6,0 6,0 6,0 6,4 6,8 6,12 6,14 6,12 6,10 6,9 6,8 6,8 6,6 6,6 6,5 6,6 6,7 6,10 6,15 6,15 6,13 6,8 6,4 6,3 6,3 6,3 6-1 6-3 6-6 6-13 6-15 6-18 6-19 6-20 6-19 6-20 6-17 6-15 6-15 6-12 6-11 6-10 6-10 6-12 6-14 6-15 6-15 6-14 6-12 6-12 6-13 6-16 6-23 6-29 6-35 6-38 6-31 6-28 6-25 6-21 6-17 6-10 6-3 6,1 6,5 6,9 6,12 6,19 6,34 6,54 6,56 6,55 6,41 6,34 6,30 6,26 6,24 6,20 6,15 6,9 6,6 6,1 6,0 6,1 6,1 6,2 6,4 6,3 6,4 6,3 6,2 6,3 6,3 6,1 6,1 6-2 6-2 6-4 6-5 6-5 6-6 6-5 6-5 6-6 6-6 6-6 6-4 6-1 6,2 6,3 6,3 6,2 6,1 6,1 6,2 6,2 6,2 6,4 6,5 6,4 6,5 6,5 6,7 6,8 6,8 6,6 6,4 6,2 6,3 6,1 6,1 6,0 6,2 6,1 6,2 6,0 6,0 6-1 6-2 6-2 6-3 6-3 6-3 6,0 6,1 6,3 6,5 6,4 6,5 6,4 6,4 6,3 6,2 6,1 6-1 6-2 6-3 6-4 6-4 6-4 6-5 6-5 6-5 6-5 6-5 6-4 6-4 6-2 6-2 6-1 6-1 6,0 6,2 6,3 6,3 6,3 6,2 6,2 6,1 6,1 6,2 6,2 6,3 6,3 6,4 6,4 6,2 6,3 6,2 6,3 6,3 6,3 6,4 6,3 6,4 6,4 6,5 6,5 6,5 6,5 6,4 6,3 6,1 6,0 6-1 6,0 6,0 6,2 6,2 6,1 6,1 6,0 6,1 6,2 6,4 6,4 6,6 6,5 6,4 6,4 6,4 6,3 6,3 6,3 6,1 6,2 6,1 6,1 6,0 2,1"/>
<path d="M272,734l6,0 6,0 6,0 6,1 6,3 6,5 6,5 6,6 6,4 6,2 6,3 6,4 6,5 6,5 6,5 6,4 6,5 6,4 6,5 6,7 6,6 6,4 6,3 6,1 6,1 6,0 6,0 6,0 6,0 6-1 6,0 6,0 6,1 6,1 6,1 6,2 6,2 6,1 6,1 6-2 6-3 6-5 6-3 6-2 6,0 6,0 6,1 6,0 6-1 6,0 6,1 6,2 6,2 6,3 6,2 6,7 6,11 6,15 6,15 6,14 6,10 6,8 6,5 6,2 6,0 6,1 6,3 6,3 6,2 6,4 6,11 6,14 6,13 6,6 6,0 6-2 6-3 6-4 6-6 6-11 6-16 6-25 6-21 6-20 6-18 6-16 6-13 6-11 6-7 6-6 6-5 6-6 6-7 6-9 6-10 6-11 6-9 6-8 6-6 6-5 6-4 6-6 6-7 6-9 6-15 6-19 6-21 6-21 6-16 6-15 6-13 6-11 6-11 6-8 6-8 6-2 6,4 6,6 6,6 6,10 6,21 6,31 6,27 6,26 6,17 6,12 6,9 6,9 6,13 6,15 6,15 6,13 6,11 6,9 6,6 6,4 6,5 6,7 6,6 6,6 6,4 6,3 6,0 6-2 6-2 6-2 6-2 6-1 6-2 6-3 6-3 6-3 6-2 6,0 6,2 6,5 6,5 6,6 6,7 6,9 6,10 6,10 6,10 6,8 6,5 6,4 6,2 6,0 6-2 6-3 6-5 6-5 6-5 6-3 6-1 6,1 6,2 6,4 6,5 6,7 6,8 6,9 6,8 6,8 6,7 6,5 6,4 6,2 6,2 6,1 6,1 6-1 6-1 6-3 6-2 6-2 6-3 6-2 6-4 6-3 6-1 6,0 6,2 6,2 6,1 6,0 6-3 6-3 6-5 6-4 6-5 6-4 6-4 6-4 6-4 6-4 6-3 6-1 6,2 6,2 6,3 6,2 6,2 6,1 6,0 6,2 6,2 6,2 6,1 6,1 6-1 6-2 6-4 6-6 6-7 6-8 6-7 6-7 6-6 6-7 6-8 6-9 6-9 6-7 6-5 6-2 6,1 6,2 6,2 6,3 6,2 6,2 6,0 6-2 6-3 6-3 6-3 6-3 6-2 6-1 6-2 6-2 6-2 6-1 6-1 6,0 6-1 6-1 6-2 6-2 6-5 6-6 6-6 6-7 6-7 6-4 6-2 6,1 6,1 6,2 6,3 2,1"/>
<path d="M272,782l6,0 6,0 6-1 6,0 6,1 6,2 6,3 6,2 6,2 6,1 6-1 6,0 6-1 6,1 6,0 6,0 6,0 6-1 6-1 6-2 6-2 6-2 6-2 6-1 6-2 6-1 6-1 6,0 6,0 6-1 6-2 6-2 6-2 6-2 6-2 6-1 6,1 6,1 6,1 6,1 6-1 6,0 6-1 6,0 6,1 6,0 6,1 6,0 6,1 6,1 6,1 6-1 6-1 6-1 6-2 6,0 6,2 6,3 6,4 6,3 6,3 6,1 6,2 6,2 6,4 6,7 6,8 6,8 6,7 6,6 6,7 6,8 6,7 6,5 6,2 6,1 6-1 6-2 6-4 6-9 6-21 6-33 6-25 6-16 6-15 6-16 6-13 6-8 6-7 6-5 6-4 6-4 6-4 6-6 6-11 6-15 6-16 6-16 6-13 6-7 6-4 6-2 6-2 6-4 6-12 6-20 6-28 6-30 6-22 6-20 6-16 6-15 6-13 6-6 6-3 6,1 6,5 6,9 6,12 6,19 6,36 6,55 6,56 6,53 6,39 6,32 6,28 6,24 6,23 6,21 6,17 6,12 6,8 6,5 6,3 6,1 6,1 6,0 6,1 6,2 6,5 6,5 6,5 6,2 6,1 6-2 6-1 6,0 6,0 6,1 6,0 6,1 6,0 6,0 6,1 6,1 6,2 6,2 6,2 6,3 6,3 6,3 6,4 6,2 6,2 6,2 6,2 6,3 6,3 6,1 6,0 6-3 6-3 6-3 6-3 6-3 6-1 6,0 6,1 6,2 6,2 6,2 6,2 6,2 6,2 6,1 6,0 6,0 6-2 6-2 6-4 6-3 6-3 6-4 6-5 6-3 6-3 6-1 6,0 6,1 6,1 6,0 6-2 6-3 6-3 6-1 6,1 6,3 6,2 6,2 6,0 6-1 6-1 6-2 6-1 6-1 6-1 6-1 6-1 6-2 6-1 6,0 6,1 6,2 6,3 6,3 6,2 6,3 6,2 6,3 6,3 6,4 6,4 6,4 6,3 6,3 6,2 6,2 6,1 6,1 6,3 6,3 6,4 6,3 6,4 6,2 6,3 6,2 6,3 6,3 6,2 6,3 6,2 6,1 6,1 6,1 6,0 6,0 6-1 6,0 6,0 6,1 6,0 6-2 6-2 6-2 6-1 6-2 6-2 6-2 6-3 6-1 6-1 6,1 6,0 6,1 6,1 6-1 6-1 6-1 6,0 2,0"/>
<path d="M272,816l6-1 6,0 6,0 6,0 6,0 6,0 6,0 6-2 6-3 6-2 6-1 6,0 6,1 6,2 6,0 6,1 6,2 6,1 6,2 6,2 6,1 6-1 6-2 6-4 6-3 6-3 6-2 6-2 6,1 6,3 6,3 6,4 6,3 6,3 6,2 6,2 6,2 6,0 6-2 6-2 6-3 6-1 6,0 6,1 6,3 6,3 6,3 6,5 6,5 6,5 6,2 6-1 6-3 6-2 6-1 6,6 6,10 6,12 6,12 6,10 6,7 6,6 6,7 6,5 6,4 6,2 6,1 6,1 6,1 6,3 6,8 6,11 6,9 6,5 6-1 6-2 6-3 6-2 6-3 6-5 6-9 6-18 6-17 6-18 6-21 6-21 6-19 6-17 6-11 6-7 6-4 6-4 6-4 6-5 6-5 6-6 6-6 6-5 6-6 6-5 6-6 6-5 6-7 6-9 6-15 6-19 6-19 6-20 6-19 6-18 6-17 6-14 6-13 6-10 6-11 6-5 6,4 6,7 6,9 6,16 6,29 6,43 6,35 6,32 6,24 6,20 6,17 6,12 6,12 6,10 6,8 6,6 6,3 6,1 6,0 6,1 6,0 6-1 6-1 6-1 6-2 6-1 6,0 6,1 6,1 6,0 6-1 6,0 6,1 6,0 6,0 6,0 6-1 6-1 6,0 6-1 6-1 6-2 6-1 6-1 6,1 6,1 6,3 6,2 6,3 6,4 6,6 6,6 6,7 6,6 6,6 6,6 6,7 6,7 6,6 6,5 6,3 6,4 6,5 6,7 6,7 6,7 6,4 6,2 6,0 6-1 6-3 6-3 6-4 6-5 6-4 6-3 6-2 6-2 6,0 6-1 6-2 6-4 6-4 6-4 6-3 6-1 6,1 6,2 6,4 6,3 6,3 6,3 6,3 6,2 6,2 6,1 6,1 6,0 6-1 6-1 6,0 6,1 6,2 6,2 6,1 6,2 6,3 6,3 6,2 6,1 6-1 6-1 6-1 6,0 6,0 6-2 6-2 6-2 6-1 6,1 6,2 6,1 6,0 6,2 6,3 6,4 6,2 6,2 6-1 6-2 6-3 6-3 6-3 6-2 6-3 6-2 6-3 6-3 6-2 6-2 6-2 6-1 6,0 6,0 6-1 6-3 6-6 6-9 6-12 6-12 6-13 6-11 6-9 6-6 6-5 6-5 6-4 6-4 6-2 6-1 6,0 6,2 6,2 6,2 6,1 2,0"/>
<path d="M272,805l6,0 6,1 6,0 6-1 6-1 6-1 6-1 6-1 6-2 6-1 6-1 6,0 6,1 6,0 6,0 6-2 6-1 6,0 6,1 6,1 6,0 6-2 6-2 6-1 6,0 6,2 6,1 6,0 6,0 6-1 6,0 6,1 6,2 6,1 6,1 6-1 6-2 6-4 6-4 6-3 6-2 6-2 6-1 6-1 6-2 6-1 6,0 6,2 6,3 6,2 6,3 6,3 6,2 6,2 6,0 6,4 6,6 6,7 6,8 6,6 6,4 6,2 6,2 6,3 6,4 6,6 6,8 6,8 6,7 6,6 6,7 6,6 6,4 6,1 6-2 6-4 6-6 6-6 6-9 6-13 6-22 6-35 6-26 6-18 6-16 6-15 6-8 6-4 6-2 6-1 6-2 6-1 6-1 6,0 6-2 6-4 6-4 6-4 6-5 6-4 6-4 6-5 6-6 6-7 6-14 6-18 6-18 6-16 6-10 6-8 6-6 6-5 6-5 6-2 6-5 6,0 6,7 6,11 6,12 6,19 6,33 6,44 6,35 6,32 6,27 6,24 6,20 6,16 6,14 6,14 6,12 6,9 6,3 6-1 6,0 6,3 6,5 6,5 6,3 6,2 6-1 6,0 6,0 6,0 6,1 6,1 6,0 6,0 6-2 6-2 6-3 6-4 6-5 6-6 6-6 6-7 6-6 6-4 6-1 6,0 6,1 6,1 6,1 6,1 6,0 6,1 6,1 6,3 6,3 6,3 6,1 6,0 6-1 6-3 6-2 6-1 6,0 6,3 6,4 6,4 6,3 6,4 6,4 6,6 6,7 6,7 6,7 6,5 6,4 6,2 6,2 6,1 6,2 6,1 6,0 6,0 6,1 6,2 6,3 6,6 6,6 6,7 6,7 6,5 6,5 6,4 6,4 6,4 6,2 6,2 6,0 6,0 6,0 6,1 6,1 6,2 6,3 6,2 6,3 6,1 6,0 6,0 6,0 6,0 6,2 6,1 6,0 6-2 6-2 6-1 6-2 6-1 6-1 6-1 6-1 6,0 6,0 6-2 6-4 6-4 6-4 6-3 6-3 6-3 6-3 6-3 6-2 6-1 6,0 6,0 6,1 6,2 6,2 6,1 6,0 6-1 6-1 6,0 6,1 6,1 6,3 6,1 6,0 6-2 6-4 6-3 6-2 6,0 6,1 6,2 6,0 6-3 6-5 6-6 6-5 6-5 6-4 6-4 6-4 6-3 6-2 2,0"/>
</g>
<path d="M137.6,397.1 141.1,397.2 144.6,397.2 148.2,397.3 151.7,397.3 155.2,397.4 158.8,397.4 162.3,397.4 165.8,397.5 169.4,397.5 172.9,397.5 176.4,397.6 180,397.6 183.5,397.6 187,397.6 190.6,397.7 194.1,397.7 197.6,397.7 201.2,397.7 204.7,397.7 208.2,397.7 211.8,397.7 215.3,397.7 218.8,397.7 222.4,397.7 225.9,397.7 229.4,397.7 233,397.7 236.5,397.7 240,397.7 243.6,397.7 247.1,397.7 250.6,397.7 254.2,397.8 257.7,397.9 261.2,398 264.8,398.1 268.3,398.3 271.8,398.4 275.4,398.6 278.9,398.8 282.4,399.2 286,399.9 289.5,401 293,402.2 296.6,403.6 300.1,405.1 303.6,406.7 307.2,408.8 310.7,411.4 314.2,414.3 317.8,417.3 321.3,420.3 324.8,423.2 328.4,426.2 331.9,429.3 335.4,432.4 339,435.5 342.5,438.4 346,440.9 349.6,443.5 353.1,446 356.6,447.9 360.2,449 363.7,449.8 367.2,450.2 370.8,449.8 374.3,447.5 377.8,443.9 381.4,436.6 384.9,427.6 388.4,418.1 392,409.3 395.5,402.1 399,396.1 402.6,391.5 406.1,387.7 409.6,384.8 413.2,382.9 416.7,381.3 420.2,378.9 423.8,374.9 427.3,369.9 430.8,364.4 434.4,358.3 437.9,351.5 441.4,344 445,336 448.5,327.4 452,317.6 455.5,306.7 459.1,295.5 462.6,284.7 466.1,272.2 469.7,259.3 473.2,250.6 476.7,249.4 480.3,250.6 483.8,252.6 487.3,258.2 490.9,270.2 494.4,285.4 497.9,300.8 501.5,315.3 505,331.5 508.5,347.6 512.1,361.8 515.6,372.9 519.1,382.7 522.7,391.4 526.2,399.1 529.7,405.7 533.3,411.9 536.8,417.4 540.3,421.9 543.9,425.4 547.4,428.6 550.9,431.2 554.5,432.5 558,432.5 561.5,432.2 565.1,431.8 568.6,431.2 572.1,430.5 575.7,428.8 579.2,426.5 582.7,423.8 586.3,421.3 589.8,419.2 593.3,417.7 596.9,416.2 600.4,414.7 603.9,413.4 607.5,412.3 611,411.5 614.5,411 618.1,411.1 621.6,411.9 625.1,413.3 628.7,414.9 632.2,416.5 635.7,418.6 639.3,421 642.8,423.3 646.3,425 649.9,426.2 653.4,427.2 656.9,428.1 660.5,428.9 664,429.7 667.5,430.4 671.1,431.1 674.6,431.9 678.1,432.7 681.7,433.5 685.2,434.2 688.7,434.9 692.3,435.7 695.8,436.4 699.3,437.1 702.9,437.8 706.4,438.6 709.9,439.3 713.5,440 717,440.7 720.5,441.4 724.1,442.1 727.6,442.9 731.1,443.7 734.7,444.5 738.2,445.3 741.7,446.2 745.3,447.1 748.8,448 752.3,448.9 755.9,449.8 759.4,450.7 762.9,451.6 766.5,452.4 770,453.3 773.5,454.1 777.1,454.9 780.6,455.8 784.1,456.6 787.7,457.5 791.2,458.5 794.7,459.5 798.3,460.5 801.8,461.4 805.3,462.3 808.8,463.1 812.4,463.7 815.9,464.2 819.4,464.7 823,465.2 826.5,465.6 830,465.9 833.6,466.1 837.1,466.2 840.6,466.2 844.2,465.9 847.7,465.5 851.2,464.9 854.8,464.3 858.3,463.5 861.8,462.8 865.4,462 868.9,461 872.4,459.7 876,458.3 879.5,456.8 883,455.4 886.6,454.1 890.1,453.2 893.6,452.4 897.2,451.7 900.7,451 904.2,450.4 907.8,449.9 911.3,449.4 914.8,449 918.4,448.6 921.9,448.2 925.4,447.8 929,447.5 932.5,447.2 936,446.9 939.6,446.8 943.1,446.7 946.6,446.8 950.2,446.8 953.7,446.9 957.2,447 960.8,447.2 964.3,447.4 967.8,447.7 971.4,448 974.9,448.4 978.4,448.9" fill="none" stroke="#f2005f" stroke-width="8.2" stroke-linecap="round" stroke-linejoin="round"/>
<line x1="278.9" y1="57.5" x2="278.9" y2="616" stroke="#1a1a1a" stroke-width="3.5" stroke-dasharray="10.5 9.7"/>
<g stroke="#000" stroke-width="3.6" fill="none">
<line x1="172.9" y1="609.5" x2="172.9" y2="618"/>
<line x1="208.2" y1="606.5" x2="208.2" y2="618"/>
<line x1="243.6" y1="609.5" x2="243.6" y2="618"/>
<line x1="278.9" y1="603.5" x2="278.9" y2="618"/>
<line x1="314.2" y1="609.5" x2="314.2" y2="618"/>
<line x1="349.6" y1="606.5" x2="349.6" y2="618"/>
<line x1="384.9" y1="609.5" x2="384.9" y2="618"/>
<line x1="420.2" y1="603.5" x2="420.2" y2="618"/>
<line x1="455.5" y1="609.5" x2="455.5" y2="618"/>
<line x1="490.9" y1="606.5" x2="490.9" y2="618"/>
<line x1="526.2" y1="609.5" x2="526.2" y2="618"/>
<line x1="561.5" y1="603.5" x2="561.5" y2="618"/>
<line x1="596.9" y1="609.5" x2="596.9" y2="618"/>
<line x1="632.2" y1="606.5" x2="632.2" y2="618"/>
<line x1="667.5" y1="609.5" x2="667.5" y2="618"/>
<line x1="702.9" y1="603.5" x2="702.9" y2="618"/>
<line x1="738.2" y1="609.5" x2="738.2" y2="618"/>
<line x1="773.5" y1="606.5" x2="773.5" y2="618"/>
<line x1="808.8" y1="609.5" x2="808.8" y2="618"/>
<line x1="844.2" y1="603.5" x2="844.2" y2="618"/>
<line x1="879.5" y1="609.5" x2="879.5" y2="618"/>
<line x1="914.8" y1="606.5" x2="914.8" y2="618"/>
<line x1="950.2" y1="609.5" x2="950.2" y2="618"/>
<line x1="985.5" y1="603.5" x2="985.5" y2="618"/>
<line x1="135" y1="120.4" x2="147" y2="120.4"/>
<line x1="135" y1="175.9" x2="155" y2="175.9"/>
<line x1="135" y1="231.4" x2="147" y2="231.4"/>
<line x1="135" y1="286.9" x2="155" y2="286.9"/>
<line x1="135" y1="342.4" x2="147" y2="342.4"/>
<line x1="135" y1="397.9" x2="155" y2="397.9"/>
<line x1="135" y1="453.4" x2="147" y2="453.4"/>
<line x1="135" y1="508.9" x2="155" y2="508.9"/>
<line x1="135" y1="564.4" x2="147" y2="564.4"/>
</g>
<g stroke="#000" stroke-width="5" fill="none">
<path d="M135.7,62.5 V617.8 H985.5 V603"/>
<path d="M135,65.5 H156"/>
</g>
<g class="t" font-size="36" text-anchor="end">
<text x="117" y="70.3">30</text>
<text x="117" y="183">20</text>
<text x="117" y="295.6">10</text>
<text x="117" y="408.3">0</text>
<text x="117" y="521">&#8722;10</text>
<text x="117" y="633.5">&#8722;20</text>
</g>
<g class="t" font-size="36" text-anchor="middle">
<text x="280" y="662">0</text>
<text x="422.8" y="662">20</text>
<text x="566.2" y="662">40</text>
<text x="709" y="662">60</text>
<text x="852.5" y="662">80</text>
<text x="995.7" y="662">100</text>
</g>
<text class="t" font-size="36" x="559.5" y="717" text-anchor="middle">Time (msec)</text>
<text class="t" font-size="36.4" transform="translate(31,349) rotate(-90)" text-anchor="middle">Amplitude (uV)</text>
<defs>
<linearGradient id="gb" gradientUnits="userSpaceOnUse" x1="835" y1="30" x2="800" y2="70"><stop offset="0" stop-color="#1f93b8"/><stop offset="0.55" stop-color="#1a86ab"/><stop offset="1" stop-color="#0b5673"/></linearGradient>
<linearGradient id="gg" gradientUnits="userSpaceOnUse" x1="855" y1="30" x2="822" y2="68"><stop offset="0" stop-color="#3b7a21"/><stop offset="0.45" stop-color="#5fa636"/><stop offset="1" stop-color="#74ba3f"/></linearGradient>
<clipPath id="cg"><rect x="805" y="53" width="40" height="30"/></clipPath>
</defs>
<g fill="none" stroke-width="8">
<rect x="817.1" y="29.1" width="40.4" height="40.4" rx="15" transform="rotate(45 837.3 49.3)" stroke="url(#gg)"/>
<rect x="797.3" y="29.1" width="40.4" height="40.4" rx="15" transform="rotate(45 817.5 49.3)" stroke="url(#gb)"/>
<g clip-path="url(#cg)"><rect x="817.1" y="29.1" width="40.4" height="40.4" rx="15" transform="rotate(45 837.3 49.3)" stroke="url(#gg)"/></g>
</g>
<g fill="none" stroke="#505050" stroke-width="2" stroke-linecap="butt" stroke-linejoin="round">
<path d="M876.3,39.2V59.8M895.4,39.2V59.8M876.3,49.4H895.4"/>
<path d="M902.7,45V59.8"/>
<path d="M909,45V59.8M909,45.8H919.5Q923,45.8 923,49.3V59.8"/>
<path d="M942.8,39.2V59.2H932.5Q929,59.2 929,55.7V48.4Q929,44.9 932.5,44.9H942.8"/>
<path d="M948.7,47.5Q949,45.1 952,45.1H959.5Q963,45.1 963,48.6V59.4H951.3Q947.8,59.4 947.8,55.9V54.8Q947.8,51.3 951.3,51.3H963"/>
<path d="M966.6,44.9L972.7,59L978.5,44.9L984.2,59L990.3,44.9"/>
<path d="M994.9,45V59.8"/>
</g>
<g fill="#505050"><rect x="901.6" y="38.8" width="2.2" height="2.4"/><rect x="993.8" y="38.8" width="2.2" height="2.4"/></g>

</svg>
</body></html>
